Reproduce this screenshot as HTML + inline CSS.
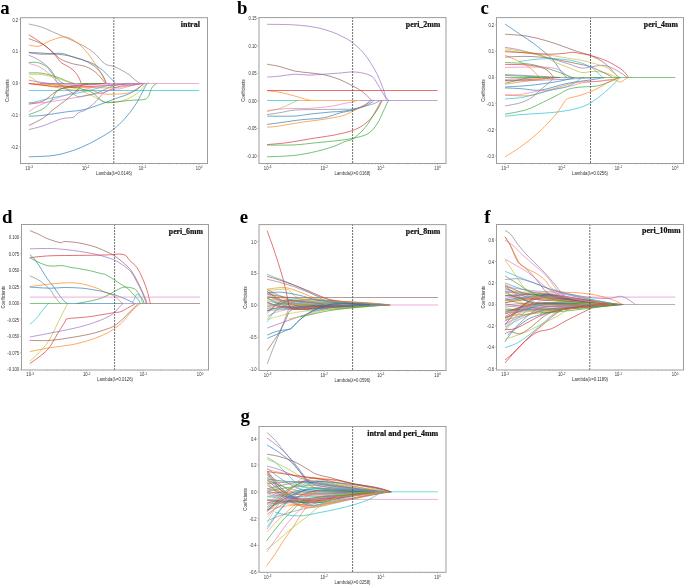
<!DOCTYPE html>
<html><head><meta charset="utf-8"><style>
html,body{margin:0;padding:0;background:#fff;width:685px;height:585px;overflow:hidden}
svg{display:block;will-change:transform}
.t{font-family:"Liberation Sans",sans-serif;font-size:4.8px;fill:#333}
.ti{font-family:"Liberation Serif",serif;font-weight:bold;font-size:8px;fill:#111;stroke:#111;stroke-width:0.22px}
.L{font-family:"Liberation Serif",serif;font-weight:bold;font-size:18.8px;fill:#000}
</style></head><body>
<svg width="685" height="585" viewBox="0 0 685 585">
<rect width="685" height="585" fill="#fff"/>
<path d="M28.8 24C30.98 24.53 38.02 25.93 41.9 27.2C45.78 28.47 48.45 30.02 52.1 31.6C55.75 33.18 59.42 34.75 63.8 36.7C68.18 38.65 73.53 40.75 78.4 43.3C83.27 45.85 88.62 48.6 93 52C97.38 55.4 101.22 61.3 104.7 63.7C108.18 66.1 111.03 65.28 113.9 66.4C116.77 67.52 119.35 69 121.9 70.4C124.45 71.8 127.02 73.22 129.2 74.8C131.38 76.38 133.3 78.57 135 79.9C136.7 81.23 138.07 82.2 139.4 82.8C140.73 83.4 142.4 83.38 143 83.5" stroke="#7f7f7f" stroke-width="0.66" fill="none"/>
<path d="M28.8 45C30.5 45.2 35.6 46.85 39 46.2C42.4 45.55 45.32 42.62 49.2 41.1C53.08 39.58 58.65 37.47 62.3 37.1C65.95 36.73 67.93 37.38 71.1 38.9C74.27 40.42 78.13 43.28 81.3 46.2C84.47 49.12 87.18 52.5 90.1 56.4C93.02 60.3 96.65 66.17 98.8 69.6C100.95 73.03 101.78 74.68 103 77C104.22 79.32 105.58 82.42 106.1 83.5" stroke="#ff7f0e" stroke-width="0.66" fill="none"/>
<path d="M28.8 34.8C30.98 36.22 37.77 40.18 41.9 43.3C46.03 46.42 50.43 50.33 53.6 53.5C56.77 56.67 58.23 59.98 60.9 62.3C63.57 64.62 67.17 65.7 69.6 67.4C72.03 69.1 73.93 70.73 75.5 72.5C77.07 74.27 78.03 76.17 79 78C79.97 79.83 80.92 82.58 81.3 83.5" stroke="#d62728" stroke-width="0.66" fill="none"/>
<path d="M28.8 38.6C31.23 39.62 39.27 42.33 43.4 44.7C47.53 47.07 50.68 50.37 53.6 52.8C56.52 55.23 57.73 57.48 60.9 59.3C64.07 61.12 68.47 62.48 72.6 63.7C76.73 64.92 81.82 65.13 85.7 66.6C89.58 68.07 92.73 69.87 95.9 72.5C99.07 75.13 103.02 80.57 104.7 82.4C106.38 84.23 105.78 83.32 106 83.5" stroke="#8c564b" stroke-width="0.66" fill="none"/>
<path d="M28.8 52.3C32.2 52.5 43.62 53.3 49.2 53.5C54.78 53.7 57.92 52.77 62.3 53.5C66.68 54.23 70.87 56.43 75.5 57.9C80.13 59.37 85.72 60.35 90.1 62.3C94.48 64.25 98.93 67.52 101.8 69.6C104.67 71.68 105.42 72.95 107.3 74.8C109.18 76.65 111.82 79.25 113.1 80.7C114.38 82.15 114.68 83.03 115 83.5" stroke="#1f77b4" stroke-width="0.66" fill="none"/>
<path d="M28.8 52.8C30.98 53.03 37.28 53.97 41.9 54.2C46.52 54.43 52.12 53.95 56.5 54.2C60.88 54.45 64.07 54.85 68.2 55.7C72.33 56.55 77.17 57.72 81.3 59.3C85.43 60.88 89.58 62.77 93 65.2C96.42 67.63 99.62 70.98 101.8 73.9C103.98 76.82 105.23 81.1 106.1 82.7C106.97 84.3 106.85 83.37 107 83.5" stroke="#8c564b" stroke-width="0.66" fill="none"/>
<path d="M28.8 55.2C30.5 56.02 35.85 58.2 39 60.1C42.15 62 45.27 64.3 47.7 66.6C50.13 68.9 52.13 71.47 53.6 73.9C55.07 76.33 55.28 79.58 56.5 81.2C57.72 82.82 58.65 83.1 60.9 83.6C63.15 84.1 65.98 84.13 70 84.2C74.02 84.27 80 84.12 85 84C90 83.88 95.83 83.58 100 83.5C104.17 83.42 108.33 83.5 110 83.5" stroke="#9467bd" stroke-width="0.66" fill="none"/>
<path d="M28.8 62.5C30.25 62.5 34.58 61.82 37.5 62.5C40.42 63.18 43.62 64.45 46.3 66.6C48.98 68.75 51.17 72.83 53.6 75.4C56.03 77.97 59.2 80.65 60.9 82C62.6 83.35 63.32 83.25 63.8 83.5" stroke="#2ca02c" stroke-width="0.66" fill="none"/>
<path d="M28.8 63.4C30.5 63.93 35.85 65.08 39 66.6C42.15 68.12 45.27 70.55 47.7 72.5C50.13 74.45 51.88 76.47 53.6 78.3C55.32 80.13 56.1 82.38 58 83.5C59.9 84.62 61.33 84.67 65 85C68.67 85.33 75 85.58 80 85.5C85 85.42 90 84.87 95 84.5C100 84.13 107.5 83.5 110 83.3" stroke="#e377c2" stroke-width="0.66" fill="none"/>
<path d="M28.8 72.9C30.98 72.95 37.28 72.53 41.9 73.2C46.52 73.87 52.85 75.8 56.5 76.9C60.15 78 61.37 78.83 63.8 79.8C66.23 80.77 69.23 82.08 71.1 82.7C72.97 83.32 74.35 83.37 75 83.5" stroke="#2ca02c" stroke-width="0.66" fill="none"/>
<path d="M28.8 74.2C30.98 74.27 37.28 73.97 41.9 74.6C46.52 75.23 52.85 77.02 56.5 78C60.15 78.98 61.37 79.67 63.8 80.5C66.23 81.33 69.23 82.5 71.1 83C72.97 83.5 74.35 83.42 75 83.5" stroke="#bcbd22" stroke-width="0.66" fill="none"/>
<path d="M28.8 76.1C29.77 76.72 32.67 78.57 34.6 79.8C36.53 81.03 37 82.67 40.4 83.5C43.8 84.33 50.9 84.38 55 84.8C59.1 85.22 61.67 85.38 65 86C68.33 86.62 71.67 87.42 75 88.5C78.33 89.58 81.35 90.9 85 92.5C88.65 94.1 93.63 96.47 96.9 98.1C100.17 99.73 102.08 101.55 104.6 102.3C107.12 103.05 109.12 102.8 112 102.6C114.88 102.4 118.55 102.08 121.9 101.1C125.25 100.12 129.18 98.28 132.1 96.7C135.02 95.12 137.2 93.67 139.4 91.6C141.6 89.53 144.03 85.65 145.3 84.3C146.57 82.95 146.72 83.63 147 83.5" stroke="#bcbd22" stroke-width="0.66" fill="none"/>
<path d="M28.8 80.2C30.5 80.5 35.47 81.45 39 82C42.53 82.55 48.17 83.25 50 83.5" stroke="#9467bd" stroke-width="0.66" fill="none"/>
<path d="M28.8 83.4C31.5 83.75 39.8 84.73 45 85.5C50.2 86.27 55 87.2 60 88C65 88.8 69.85 89.92 75 90.3C80.15 90.68 86.22 89.7 90.9 90.3C95.58 90.9 97.93 93.32 103.1 93.9C108.27 94.48 117.07 94.18 121.9 93.8C126.73 93.42 128.93 92.93 132.1 91.6C135.27 90.27 138.95 87.15 140.9 85.8C142.85 84.45 143.32 83.88 143.8 83.5" stroke="#ff7f0e" stroke-width="0.66" fill="none"/>
<path d="M28.8 83.5C32.33 83.67 43.13 84 50 84.5C56.87 85 63.33 86 70 86.5C76.67 87 83.33 87.28 90 87.5C96.67 87.72 104.17 87.97 110 87.8C115.83 87.63 120 87.13 125 86.5C130 85.87 136.83 84.5 140 84C143.17 83.5 143.33 83.58 144 83.5" stroke="#ff7f0e" stroke-width="0.66" fill="none"/>
<path d="M28.8 83.6C32.33 84 43.13 85.43 50 86C56.87 86.57 63.33 86.92 70 87C76.67 87.08 83.33 86.75 90 86.5C96.67 86.25 103.33 85.92 110 85.5C116.67 85.08 124.67 84.33 130 84C135.33 83.67 140 83.58 142 83.5" stroke="#d62728" stroke-width="0.66" fill="none"/>
<path d="M28.8 90.5L199.1 90.5" stroke="#17becf" stroke-width="0.66" fill="none"/>
<path d="M28.8 104.2C31.17 103.7 38.57 103.25 43 101.2C47.43 99.15 51.53 94.22 55.4 91.9C59.27 89.58 61.85 88.45 66.2 87.3C70.55 86.15 76.7 85.55 81.5 85C86.3 84.45 91.08 84.25 95 84C98.92 83.75 103.33 83.58 105 83.5" stroke="#d62728" stroke-width="0.66" fill="none"/>
<path d="M28.8 102.4C31.18 102.45 38.15 103.03 43.1 102.7C48.05 102.37 53.95 101.1 58.5 100.4C63.05 99.7 65 99.42 70.4 98.5C75.8 97.58 85.45 95.92 90.9 94.9C96.35 93.88 99.37 93.33 103.1 92.4C106.83 91.47 110.48 89.9 113.3 89.3C116.12 88.7 117.22 89.35 120 88.8C122.78 88.25 126.5 86.88 130 86C133.5 85.12 139.17 83.92 141 83.5" stroke="#e377c2" stroke-width="0.66" fill="none"/>
<path d="M28.8 103.5C32.47 102.6 43.87 99.62 50.8 98.1C57.73 96.58 64.57 95.53 70.4 94.4C76.23 93.27 80.68 92.48 85.8 91.3C90.92 90.12 96.85 88.4 101.1 87.3C105.35 86.2 107.32 85.33 111.3 84.7C115.28 84.07 121.05 83.7 125 83.5C128.95 83.3 133.33 83.5 135 83.5" stroke="#17becf" stroke-width="0.66" fill="none"/>
<path d="M28.8 111.9C29.9 111.13 32.7 108.78 35.4 107.3C38.1 105.82 40.9 104.72 45 103C49.1 101.28 55 98.83 60 97C65 95.17 70 93.5 75 92C80 90.5 85 89.17 90 88C95 86.83 100 85.75 105 85C110 84.25 117.5 83.75 120 83.5" stroke="#e377c2" stroke-width="0.66" fill="none"/>
<path d="M28.8 114.7C31.18 113.72 39.43 111.05 43.1 108.8C46.77 106.55 48.63 104 50.8 101.2C52.97 98.4 54.23 94.12 56.1 92C57.97 89.88 59.35 89.25 62 88.5C64.65 87.75 69.4 87.62 72 87.5C74.6 87.38 75.43 87.38 77.6 87.8C79.77 88.22 82.45 89.15 85 90C87.55 90.85 89.88 90.98 92.9 92.9C95.92 94.82 99.7 99.97 103.1 101.5C106.5 103.03 108.95 102.28 113.3 102.1C117.65 101.92 124.12 100.82 129.2 100.4C134.28 99.98 140.63 100.22 143.8 99.6C146.97 98.98 146.98 98.4 148.2 96.7C149.42 95 150.13 91.35 151.1 89.4C152.07 87.45 153.03 85.98 154 85C154.97 84.02 156.42 83.75 156.9 83.5" stroke="#2ca02c" stroke-width="0.66" fill="none"/>
<path d="M28.8 116.2C31.18 116.05 36.87 116.02 43.1 115.3C49.33 114.58 59.43 112.83 66.2 111.9C72.97 110.97 77.88 111 83.7 109.7C89.52 108.4 96.17 105.8 101.1 104.1C106.03 102.4 110.15 100.68 113.3 99.5C116.45 98.32 117.35 97.95 120 97C122.65 96.05 126.2 95.18 129.2 93.8C132.2 92.42 135.57 90.4 138 88.7C140.43 87 142.63 84.47 143.8 83.6C144.97 82.73 144.8 83.52 145 83.5" stroke="#1f77b4" stroke-width="0.66" fill="none"/>
<path d="M28.8 125.5C31.18 124.27 39.05 120.73 43.1 118.1C47.15 115.47 49.4 112.63 53.1 109.7C56.8 106.77 61.57 103.47 65.3 100.5C69.03 97.53 72.95 94.28 75.5 91.9C78.05 89.52 79.08 87.55 80.6 86.2C82.12 84.85 83.37 84.25 84.6 83.8C85.83 83.35 87.43 83.55 88 83.5" stroke="#8c564b" stroke-width="0.66" fill="none"/>
<path d="M28.8 129.6C31.18 128.97 37.65 127.6 43.1 125.8C48.55 124 56.5 120.22 61.5 118.8C66.5 117.38 70.27 118.32 73.1 117.3C75.93 116.28 76.38 113.97 78.5 112.7C80.62 111.43 82.88 111.55 85.8 109.7C88.72 107.85 93.12 104.32 96 101.6C98.88 98.88 100.55 95.45 103.1 93.4C105.65 91.35 108.48 90.5 111.3 89.3C114.12 88.1 116.88 86.92 120 86.2C123.12 85.48 126.17 85.45 130 85C133.83 84.55 140.83 83.75 143 83.5" stroke="#9467bd" stroke-width="0.66" fill="none"/>
<path d="M50 83.5C51.53 83.7 56.13 83.57 59.2 84.7C62.27 85.83 65.33 88.33 68.4 90.3C71.47 92.27 75.05 95.57 77.6 96.5C80.15 97.43 81.15 96.33 83.7 95.9C86.25 95.47 90 94.67 92.9 93.9C95.8 93.13 98.72 92.23 101.1 91.3C103.48 90.37 104.88 89.27 107.2 88.3C109.52 87.33 112.03 86.28 115 85.5C117.97 84.72 122.5 83.93 125 83.6C127.5 83.27 129.17 83.52 130 83.5" stroke="#7f7f7f" stroke-width="0.66" fill="none"/>
<path d="M28.8 156.8C32.47 156.63 44.57 156.48 50.8 155.8C57.03 155.12 61.08 154.12 66.2 152.7C71.32 151.28 76.38 149.48 81.5 147.3C86.62 145.12 91.63 142.55 96.9 139.6C102.17 136.65 108.45 133.1 113.1 129.6C117.75 126.1 121.15 122.62 124.8 118.6C128.45 114.58 132.08 109.88 135 105.5C137.92 101.12 140.35 95.88 142.3 92.3C144.25 88.72 145.58 85.47 146.7 84C147.82 82.53 148.62 83.58 149 83.5" stroke="#1f77b4" stroke-width="0.66" fill="none"/>
<path d="M40 83.5L78 83.5" stroke="#9467bd" stroke-width="0.6" fill="none"/>
<path d="M78 83.5L104 83.5" stroke="#2ca02c" stroke-width="0.6" fill="none"/>
<path d="M104 83.5L199.1 83.5" stroke="#e377c2" stroke-width="0.6" fill="none"/>
<line x1="113.8" y1="17" x2="113.8" y2="163.5" stroke="#555" stroke-width="0.85" stroke-dasharray="2 1"/>
<rect x="20.5" y="17.7" width="187" height="145.8" fill="none" stroke="#9d9d9d" stroke-width="1"/>
<line x1="18.9" y1="19.5" x2="20.5" y2="19.5" stroke="#9d9d9d" stroke-width="0.6"/>
<text x="18.2" y="21.5" text-anchor="end" class="t" textLength="5.8" lengthAdjust="spacingAndGlyphs">0.2</text>
<line x1="18.9" y1="51.35" x2="20.5" y2="51.35" stroke="#9d9d9d" stroke-width="0.6"/>
<text x="18.2" y="53.35" text-anchor="end" class="t" textLength="5.8" lengthAdjust="spacingAndGlyphs">0.1</text>
<line x1="18.9" y1="83.2" x2="20.5" y2="83.2" stroke="#9d9d9d" stroke-width="0.6"/>
<text x="18.2" y="85.2" text-anchor="end" class="t" textLength="5.8" lengthAdjust="spacingAndGlyphs">0.0</text>
<line x1="18.9" y1="115.05" x2="20.5" y2="115.05" stroke="#9d9d9d" stroke-width="0.6"/>
<text x="18.2" y="117.05" text-anchor="end" class="t" textLength="7.2" lengthAdjust="spacingAndGlyphs">-0.1</text>
<line x1="18.9" y1="146.9" x2="20.5" y2="146.9" stroke="#9d9d9d" stroke-width="0.6"/>
<text x="18.2" y="148.9" text-anchor="end" class="t" textLength="7.2" lengthAdjust="spacingAndGlyphs">-0.2</text>
<line x1="29" y1="163.5" x2="29" y2="165.1" stroke="#9d9d9d" stroke-width="0.6"/>
<text x="25.36" y="169.8" class="t" textLength="4.64" lengthAdjust="spacingAndGlyphs">10</text>
<text x="30.21" y="168.1" class="t" style="font-size:3.4px" textLength="2.63" lengthAdjust="spacingAndGlyphs">-3</text>
<line x1="46.06" y1="163.5" x2="46.06" y2="164.5" stroke="#9d9d9d" stroke-width="0.5"/>
<line x1="56.04" y1="163.5" x2="56.04" y2="164.5" stroke="#9d9d9d" stroke-width="0.5"/>
<line x1="63.12" y1="163.5" x2="63.12" y2="164.5" stroke="#9d9d9d" stroke-width="0.5"/>
<line x1="68.61" y1="163.5" x2="68.61" y2="164.5" stroke="#9d9d9d" stroke-width="0.5"/>
<line x1="73.1" y1="163.5" x2="73.1" y2="164.5" stroke="#9d9d9d" stroke-width="0.5"/>
<line x1="76.89" y1="163.5" x2="76.89" y2="164.5" stroke="#9d9d9d" stroke-width="0.5"/>
<line x1="80.18" y1="163.5" x2="80.18" y2="164.5" stroke="#9d9d9d" stroke-width="0.5"/>
<line x1="83.07" y1="163.5" x2="83.07" y2="164.5" stroke="#9d9d9d" stroke-width="0.5"/>
<line x1="85.67" y1="163.5" x2="85.67" y2="165.1" stroke="#9d9d9d" stroke-width="0.6"/>
<text x="82.03" y="169.8" class="t" textLength="4.64" lengthAdjust="spacingAndGlyphs">10</text>
<text x="86.87" y="168.1" class="t" style="font-size:3.4px" textLength="2.63" lengthAdjust="spacingAndGlyphs">-2</text>
<line x1="102.73" y1="163.5" x2="102.73" y2="164.5" stroke="#9d9d9d" stroke-width="0.5"/>
<line x1="112.7" y1="163.5" x2="112.7" y2="164.5" stroke="#9d9d9d" stroke-width="0.5"/>
<line x1="119.78" y1="163.5" x2="119.78" y2="164.5" stroke="#9d9d9d" stroke-width="0.5"/>
<line x1="125.27" y1="163.5" x2="125.27" y2="164.5" stroke="#9d9d9d" stroke-width="0.5"/>
<line x1="129.76" y1="163.5" x2="129.76" y2="164.5" stroke="#9d9d9d" stroke-width="0.5"/>
<line x1="133.56" y1="163.5" x2="133.56" y2="164.5" stroke="#9d9d9d" stroke-width="0.5"/>
<line x1="136.84" y1="163.5" x2="136.84" y2="164.5" stroke="#9d9d9d" stroke-width="0.5"/>
<line x1="139.74" y1="163.5" x2="139.74" y2="164.5" stroke="#9d9d9d" stroke-width="0.5"/>
<line x1="142.33" y1="163.5" x2="142.33" y2="165.1" stroke="#9d9d9d" stroke-width="0.6"/>
<text x="138.7" y="169.8" class="t" textLength="4.64" lengthAdjust="spacingAndGlyphs">10</text>
<text x="143.54" y="168.1" class="t" style="font-size:3.4px" textLength="2.63" lengthAdjust="spacingAndGlyphs">-1</text>
<line x1="159.39" y1="163.5" x2="159.39" y2="164.5" stroke="#9d9d9d" stroke-width="0.5"/>
<line x1="169.37" y1="163.5" x2="169.37" y2="164.5" stroke="#9d9d9d" stroke-width="0.5"/>
<line x1="176.45" y1="163.5" x2="176.45" y2="164.5" stroke="#9d9d9d" stroke-width="0.5"/>
<line x1="181.94" y1="163.5" x2="181.94" y2="164.5" stroke="#9d9d9d" stroke-width="0.5"/>
<line x1="186.43" y1="163.5" x2="186.43" y2="164.5" stroke="#9d9d9d" stroke-width="0.5"/>
<line x1="190.22" y1="163.5" x2="190.22" y2="164.5" stroke="#9d9d9d" stroke-width="0.5"/>
<line x1="193.51" y1="163.5" x2="193.51" y2="164.5" stroke="#9d9d9d" stroke-width="0.5"/>
<line x1="196.41" y1="163.5" x2="196.41" y2="164.5" stroke="#9d9d9d" stroke-width="0.5"/>
<line x1="199" y1="163.5" x2="199" y2="165.1" stroke="#9d9d9d" stroke-width="0.6"/>
<text x="195.86" y="169.8" class="t" textLength="4.64" lengthAdjust="spacingAndGlyphs">10</text>
<text x="200.7" y="168.1" class="t" style="font-size:3.4px" textLength="1.64" lengthAdjust="spacingAndGlyphs">0</text>
<text x="114" y="174.7" text-anchor="middle" class="t" textLength="36" lengthAdjust="spacingAndGlyphs">Lambda(λ=0.0146)</text>
<text transform="translate(9 90.6) rotate(-90)" text-anchor="middle" class="t" textLength="22.6" lengthAdjust="spacingAndGlyphs">Coefficients</text>
<text x="199.9" y="26.9" text-anchor="end" class="ti" textLength="19.2" lengthAdjust="spacingAndGlyphs">intral</text>
<text x="0.3" y="14.3" class="L">a</text>
<path d="M267.1 24.3C270.45 24.35 281.42 24.4 287.2 24.6C292.98 24.8 296.93 25.02 301.8 25.5C306.67 25.98 311.53 26.48 316.4 27.5C321.27 28.52 326.62 30.07 331 31.6C335.38 33.13 339.13 34.88 342.7 36.7C346.27 38.52 348.98 39.85 352.4 42.5C355.82 45.15 360.1 49.12 363.2 52.6C366.3 56.08 368.67 59.78 371 63.4C373.33 67.02 375.4 70.68 377.2 74.3C379 77.92 380.52 81.82 381.8 85.1C383.08 88.38 384.12 91.43 384.9 94C385.68 96.57 386.23 99.42 386.5 100.5" stroke="#9467bd" stroke-width="0.66" fill="none"/>
<path d="M267.1 64.2C269.23 64.6 275.33 65.47 279.9 66.6C284.47 67.73 289.63 69.97 294.5 71C299.37 72.03 304.23 72.18 309.1 72.8C313.97 73.42 318.83 73.67 323.7 74.7C328.57 75.73 333.52 77.15 338.3 79C343.08 80.85 348.5 83.77 352.4 85.8C356.3 87.83 359.12 89.4 361.7 91.2C364.28 93 366.23 95.05 367.9 96.6C369.57 98.15 371.07 99.85 371.7 100.5" stroke="#8c564b" stroke-width="0.66" fill="none"/>
<path d="M267.1 77.1C269.23 76.93 275.33 76.58 279.9 76.1C284.47 75.62 289.63 74.37 294.5 74.2C299.37 74.03 304.23 75.1 309.1 75.1C313.97 75.1 318.83 74.52 323.7 74.2C328.57 73.88 333 73.57 338.3 73.2C343.6 72.83 350.05 71.57 355.5 72C360.95 72.43 367.38 73.87 371 75.8C374.62 77.73 375.4 81.02 377.2 83.6C379 86.18 380.52 89.15 381.8 91.3C383.08 93.45 383.73 94.97 384.9 96.5C386.07 98.03 388.15 99.83 388.8 100.5" stroke="#9467bd" stroke-width="0.66" fill="none"/>
<path d="M267.1 90.7C269.23 90.97 275.33 91.42 279.9 92.3C284.47 93.18 290.37 94.9 294.5 96C298.63 97.1 302.02 98.15 304.7 98.9C307.38 99.65 309.62 100.23 310.6 100.5" stroke="#ff7f0e" stroke-width="0.66" fill="none"/>
<path d="M267.1 100.5L300 100.5" stroke="#17becf" stroke-width="0.66" fill="none"/>
<path d="M267.1 111.6C269.23 111.07 276.07 109.67 279.9 108.4C283.73 107.13 287.18 105.32 290.1 104C293.02 102.68 296.18 101.08 297.4 100.5" stroke="#bcbd22" stroke-width="0.66" fill="none"/>
<path d="M267.1 110.5C270.45 110.18 280.2 108.95 287.2 108.6C294.2 108.25 301.8 108.8 309.1 108.4C316.4 108 324.92 107.07 331 106.2C337.08 105.33 342.03 103.9 345.6 103.2C349.17 102.5 350.5 102.45 352.4 102C354.3 101.55 356.23 100.75 357 100.5" stroke="#e377c2" stroke-width="0.66" fill="none"/>
<path d="M267.1 114.6C269.23 114.28 275.33 113.45 279.9 112.7C284.47 111.95 288.42 110.63 294.5 110.1C300.58 109.57 308.82 109.63 316.4 109.5C323.98 109.37 334 109.38 340 109.3C346 109.22 348.53 109.43 352.4 109C356.27 108.57 359.6 107.6 363.2 106.7C366.8 105.8 371.17 104.63 374 103.6C376.83 102.57 379.17 101.02 380.2 100.5" stroke="#7f7f7f" stroke-width="0.66" fill="none"/>
<path d="M267.1 116.1C271.67 116.1 287.5 116.42 294.5 116.1C301.5 115.78 303.02 114.88 309.1 114.2C315.18 113.52 325.85 112.45 331 112C336.15 111.55 336.43 111.87 340 111.5C343.57 111.13 348.53 110.6 352.4 109.8C356.27 109 360.1 107.87 363.2 106.7C366.3 105.53 369.2 103.83 371 102.8C372.8 101.77 373.5 100.88 374 100.5" stroke="#1f77b4" stroke-width="0.66" fill="none"/>
<path d="M267.1 124.4C269.23 124.12 274.12 123.48 279.9 122.7C285.68 121.92 294.5 120.52 301.8 119.7C309.1 118.88 317.33 118.93 323.7 117.8C330.07 116.67 335.22 114.17 340 112.9C344.78 111.63 348.53 111.37 352.4 110.2C356.27 109.03 360.37 107.27 363.2 105.9C366.03 104.53 368.1 102.9 369.4 102C370.7 101.1 370.73 100.75 371 100.5" stroke="#1f77b4" stroke-width="0.66" fill="none"/>
<path d="M267.1 127.3C269.23 127.07 274.12 126.75 279.9 125.9C285.68 125.05 294.5 123.3 301.8 122.2C309.1 121.1 316.88 120.38 323.7 119.3C330.52 118.22 337.92 117.03 342.7 115.7C347.48 114.37 348.98 112.93 352.4 111.3C355.82 109.67 360.37 107.57 363.2 105.9C366.03 104.23 368.18 102.2 369.4 101.3C370.62 100.4 370.32 100.63 370.5 100.5" stroke="#ff7f0e" stroke-width="0.66" fill="none"/>
<path d="M267.1 144.6C270.45 144.28 280.2 143.63 287.2 142.7C294.2 141.77 301.8 140.18 309.1 139C316.4 137.82 325.85 136.47 331 135.6C336.15 134.73 336.43 134.63 340 133.8C343.57 132.97 348.53 132.03 352.4 130.6C356.27 129.17 360.1 127.25 363.2 125.2C366.3 123.15 368.67 120.87 371 118.3C373.33 115.73 375.53 112.38 377.2 109.8C378.87 107.22 380.2 104.35 381 102.8C381.8 101.25 381.83 100.88 382 100.5" stroke="#d62728" stroke-width="0.66" fill="none"/>
<path d="M267.1 145.1C271.67 145.07 286.28 145.3 294.5 144.9C302.72 144.5 309.1 143.43 316.4 142.7C323.7 141.97 332.3 141.22 338.3 140.5C344.3 139.78 347.47 139.52 352.4 138.4C357.33 137.28 363.77 136.25 367.9 133.8C372.03 131.35 374.63 127.45 377.2 123.7C379.77 119.95 381.5 115.03 383.3 111.3C385.1 107.57 387.05 103.1 388 101.3C388.95 99.5 388.83 100.63 389 100.5" stroke="#2ca02c" stroke-width="0.66" fill="none"/>
<path d="M267.1 156.8C271.67 156.57 286.28 156.3 294.5 155.4C302.72 154.5 309.83 152.92 316.4 151.4C322.97 149.88 329.13 147.95 333.9 146.3C338.67 144.65 341.92 142.68 345 141.5C348.08 140.32 349.37 141.13 352.4 139.2C355.43 137.27 360.1 133.25 363.2 129.9C366.3 126.55 368.67 122.72 371 119.1C373.33 115.48 375.53 111.17 377.2 108.2C378.87 105.23 380.2 102.58 381 101.3C381.8 100.02 381.83 100.63 382 100.5" stroke="#2ca02c" stroke-width="0.66" fill="none"/>
<path d="M267.1 90.5L437.6 90.5" stroke="#d62728" stroke-width="0.66" fill="none"/>
<path d="M300 100.5L360 100.5" stroke="#ff7f0e" stroke-width="0.6" fill="none"/>
<path d="M360 100.5L437.6 100.5" stroke="#9467bd" stroke-width="0.6" fill="none"/>
<line x1="352.6" y1="17" x2="352.6" y2="163.5" stroke="#555" stroke-width="0.85" stroke-dasharray="2 1"/>
<rect x="259.0" y="17.6" width="187" height="145.9" fill="none" stroke="#9d9d9d" stroke-width="1"/>
<line x1="257.4" y1="18.15" x2="259.0" y2="18.15" stroke="#9d9d9d" stroke-width="0.6"/>
<text x="256.7" y="20.15" text-anchor="end" class="t" textLength="8.13" lengthAdjust="spacingAndGlyphs">0.15</text>
<line x1="257.4" y1="45.7" x2="259.0" y2="45.7" stroke="#9d9d9d" stroke-width="0.6"/>
<text x="256.7" y="47.7" text-anchor="end" class="t" textLength="8.13" lengthAdjust="spacingAndGlyphs">0.10</text>
<line x1="257.4" y1="73.25" x2="259.0" y2="73.25" stroke="#9d9d9d" stroke-width="0.6"/>
<text x="256.7" y="75.25" text-anchor="end" class="t" textLength="8.13" lengthAdjust="spacingAndGlyphs">0.05</text>
<line x1="257.4" y1="100.8" x2="259.0" y2="100.8" stroke="#9d9d9d" stroke-width="0.6"/>
<text x="256.7" y="102.8" text-anchor="end" class="t" textLength="8.13" lengthAdjust="spacingAndGlyphs">0.00</text>
<line x1="257.4" y1="128.35" x2="259.0" y2="128.35" stroke="#9d9d9d" stroke-width="0.6"/>
<text x="256.7" y="130.35" text-anchor="end" class="t" textLength="9.52" lengthAdjust="spacingAndGlyphs">-0.05</text>
<line x1="257.4" y1="155.9" x2="259.0" y2="155.9" stroke="#9d9d9d" stroke-width="0.6"/>
<text x="256.7" y="157.9" text-anchor="end" class="t" textLength="9.52" lengthAdjust="spacingAndGlyphs">-0.10</text>
<line x1="267.5" y1="163.5" x2="267.5" y2="165.1" stroke="#9d9d9d" stroke-width="0.6"/>
<text x="263.86" y="169.8" class="t" textLength="4.64" lengthAdjust="spacingAndGlyphs">10</text>
<text x="268.71" y="168.1" class="t" style="font-size:3.4px" textLength="2.63" lengthAdjust="spacingAndGlyphs">-3</text>
<line x1="284.56" y1="163.5" x2="284.56" y2="164.5" stroke="#9d9d9d" stroke-width="0.5"/>
<line x1="294.54" y1="163.5" x2="294.54" y2="164.5" stroke="#9d9d9d" stroke-width="0.5"/>
<line x1="301.62" y1="163.5" x2="301.62" y2="164.5" stroke="#9d9d9d" stroke-width="0.5"/>
<line x1="307.11" y1="163.5" x2="307.11" y2="164.5" stroke="#9d9d9d" stroke-width="0.5"/>
<line x1="311.6" y1="163.5" x2="311.6" y2="164.5" stroke="#9d9d9d" stroke-width="0.5"/>
<line x1="315.39" y1="163.5" x2="315.39" y2="164.5" stroke="#9d9d9d" stroke-width="0.5"/>
<line x1="318.68" y1="163.5" x2="318.68" y2="164.5" stroke="#9d9d9d" stroke-width="0.5"/>
<line x1="321.57" y1="163.5" x2="321.57" y2="164.5" stroke="#9d9d9d" stroke-width="0.5"/>
<line x1="324.17" y1="163.5" x2="324.17" y2="165.1" stroke="#9d9d9d" stroke-width="0.6"/>
<text x="320.53" y="169.8" class="t" textLength="4.64" lengthAdjust="spacingAndGlyphs">10</text>
<text x="325.37" y="168.1" class="t" style="font-size:3.4px" textLength="2.63" lengthAdjust="spacingAndGlyphs">-2</text>
<line x1="341.23" y1="163.5" x2="341.23" y2="164.5" stroke="#9d9d9d" stroke-width="0.5"/>
<line x1="351.2" y1="163.5" x2="351.2" y2="164.5" stroke="#9d9d9d" stroke-width="0.5"/>
<line x1="358.28" y1="163.5" x2="358.28" y2="164.5" stroke="#9d9d9d" stroke-width="0.5"/>
<line x1="363.77" y1="163.5" x2="363.77" y2="164.5" stroke="#9d9d9d" stroke-width="0.5"/>
<line x1="368.26" y1="163.5" x2="368.26" y2="164.5" stroke="#9d9d9d" stroke-width="0.5"/>
<line x1="372.06" y1="163.5" x2="372.06" y2="164.5" stroke="#9d9d9d" stroke-width="0.5"/>
<line x1="375.34" y1="163.5" x2="375.34" y2="164.5" stroke="#9d9d9d" stroke-width="0.5"/>
<line x1="378.24" y1="163.5" x2="378.24" y2="164.5" stroke="#9d9d9d" stroke-width="0.5"/>
<line x1="380.83" y1="163.5" x2="380.83" y2="165.1" stroke="#9d9d9d" stroke-width="0.6"/>
<text x="377.2" y="169.8" class="t" textLength="4.64" lengthAdjust="spacingAndGlyphs">10</text>
<text x="382.04" y="168.1" class="t" style="font-size:3.4px" textLength="2.63" lengthAdjust="spacingAndGlyphs">-1</text>
<line x1="397.89" y1="163.5" x2="397.89" y2="164.5" stroke="#9d9d9d" stroke-width="0.5"/>
<line x1="407.87" y1="163.5" x2="407.87" y2="164.5" stroke="#9d9d9d" stroke-width="0.5"/>
<line x1="414.95" y1="163.5" x2="414.95" y2="164.5" stroke="#9d9d9d" stroke-width="0.5"/>
<line x1="420.44" y1="163.5" x2="420.44" y2="164.5" stroke="#9d9d9d" stroke-width="0.5"/>
<line x1="424.93" y1="163.5" x2="424.93" y2="164.5" stroke="#9d9d9d" stroke-width="0.5"/>
<line x1="428.72" y1="163.5" x2="428.72" y2="164.5" stroke="#9d9d9d" stroke-width="0.5"/>
<line x1="432.01" y1="163.5" x2="432.01" y2="164.5" stroke="#9d9d9d" stroke-width="0.5"/>
<line x1="434.91" y1="163.5" x2="434.91" y2="164.5" stroke="#9d9d9d" stroke-width="0.5"/>
<line x1="437.5" y1="163.5" x2="437.5" y2="165.1" stroke="#9d9d9d" stroke-width="0.6"/>
<text x="434.36" y="169.8" class="t" textLength="4.64" lengthAdjust="spacingAndGlyphs">10</text>
<text x="439.2" y="168.1" class="t" style="font-size:3.4px" textLength="1.64" lengthAdjust="spacingAndGlyphs">0</text>
<text x="352.5" y="174.7" text-anchor="middle" class="t" textLength="36" lengthAdjust="spacingAndGlyphs">Lambda(λ=0.0168)</text>
<text transform="translate(244.6 90.55) rotate(-90)" text-anchor="middle" class="t" textLength="22.6" lengthAdjust="spacingAndGlyphs">Coefficients</text>
<text x="440.4" y="26.8" text-anchor="end" class="ti" textLength="34.6" lengthAdjust="spacingAndGlyphs">peri_2mm</text>
<text x="237.1" y="14.4" class="L">b</text>
<path d="M505 24C507.57 25.75 515.65 31.28 520.4 34.5C525.15 37.72 529.37 40.25 533.5 43.3C537.63 46.35 542.03 50.13 545.2 52.8C548.37 55.47 550.32 56.87 552.5 59.3C554.68 61.73 556.35 64.72 558.3 67.4C560.25 70.08 562.75 73.72 564.2 75.4C565.65 77.08 566.53 77.15 567 77.5" stroke="#1f77b4" stroke-width="0.66" fill="none"/>
<path d="M505 34.2C508.53 34.5 519.5 34.97 526.2 36C532.9 37.03 539.12 38.7 545.2 40.4C551.28 42.1 557.35 44.35 562.7 46.2C568.05 48.05 572.8 50 577.3 51.5C581.8 53 585.73 53.65 589.7 55.2C593.67 56.75 597.85 58.78 601.1 60.8C604.35 62.82 606.77 65 609.2 67.3C611.63 69.6 614.07 72.9 615.7 74.6C617.33 76.3 618.45 77.02 619 77.5" stroke="#8c564b" stroke-width="0.66" fill="none"/>
<path d="M505 47.4C507.32 47.8 512.93 48.42 518.9 49.8C524.87 51.18 534.23 53.87 540.8 55.7C547.37 57.53 553.43 59.35 558.3 60.8C563.17 62.25 566.1 63.18 570 64.4C573.9 65.62 577.87 67.75 581.7 68.1C585.53 68.45 589.22 66.95 593 66.5C596.78 66.05 600.88 64.98 604.4 65.4C607.92 65.82 611.13 67.6 614.1 69C617.07 70.4 620.03 72.38 622.2 73.8C624.37 75.22 626.28 76.88 627.1 77.5" stroke="#9467bd" stroke-width="0.66" fill="none"/>
<path d="M505 48.8C508.53 49.33 520.23 50.93 526.2 52C532.17 53.07 535.93 53.48 540.8 55.2C545.67 56.92 550.53 60.15 555.4 62.3C560.27 64.45 565.62 66.4 570 68.1C574.38 69.8 577.87 71.95 581.7 72.5C585.53 73.05 589.22 71.4 593 71.4C596.78 71.4 601.15 71.82 604.4 72.5C607.65 73.18 610.4 74.67 612.5 75.5C614.6 76.33 616.25 77.17 617 77.5" stroke="#bcbd22" stroke-width="0.66" fill="none"/>
<path d="M505 50.5C509.17 51 522.08 52.63 530 53.5C537.92 54.37 545.83 54.85 552.5 55.7C559.17 56.55 565.42 57.88 570 58.6C574.58 59.32 575.63 59.08 580 60C584.37 60.92 591.6 62.75 596.2 64.1C600.8 65.45 604.35 66.35 607.6 68.1C610.85 69.85 613.8 73.03 615.7 74.6C617.6 76.17 618.45 77.02 619 77.5" stroke="#bcbd22" stroke-width="0.66" fill="none"/>
<path d="M505 51.7C508.53 51.88 519.02 52.38 526.2 52.8C533.38 53.22 542.02 54.08 548.1 54.2C554.18 54.32 558.57 53.82 562.7 53.5C566.83 53.18 570.02 52.3 572.9 52.3C575.78 52.3 577.2 53.02 580 53.5C582.8 53.98 585.63 54.12 589.7 55.2C593.77 56.28 600.07 58.25 604.4 60C608.73 61.75 612.47 63.8 615.7 65.7C618.93 67.6 621.63 69.43 623.8 71.4C625.97 73.37 627.88 76.48 628.7 77.5" stroke="#d62728" stroke-width="0.66" fill="none"/>
<path d="M505 55.2C506.58 55.88 510.97 57.63 514.5 59.3C518.03 60.97 523.03 63.25 526.2 65.2C529.37 67.15 531.32 68.95 533.5 71C535.68 73.05 538.33 76.42 539.3 77.5" stroke="#ff7f0e" stroke-width="0.66" fill="none"/>
<path d="M505 57.1C508.53 56.98 519.02 56.27 526.2 56.4C533.38 56.53 542.02 57.17 548.1 57.9C554.18 58.63 557.83 59.83 562.7 60.8C567.57 61.77 572.8 62.75 577.3 63.7C581.8 64.65 586 65.35 589.7 66.5C593.4 67.65 596.25 69.1 599.5 70.6C602.75 72.1 607.03 74.35 609.2 75.5C611.37 76.65 611.95 77.17 612.5 77.5" stroke="#8c564b" stroke-width="0.66" fill="none"/>
<path d="M518.9 61.5C521.33 61.18 528.63 60.08 533.5 59.6C538.37 59.12 543.23 58.65 548.1 58.6C552.97 58.55 557.83 58.77 562.7 59.3C567.57 59.83 572.8 60.6 577.3 61.8C581.8 63 586.55 64.9 589.7 66.5C592.85 68.1 594.3 69.77 596.2 71.4C598.1 73.03 599.97 75.28 601.1 76.3C602.23 77.32 602.68 77.3 603 77.5" stroke="#17becf" stroke-width="0.66" fill="none"/>
<path d="M505 62.5C508.53 62.7 520.23 63.02 526.2 63.7C532.17 64.38 535.93 65.38 540.8 66.6C545.67 67.82 551.03 69.53 555.4 71C559.77 72.47 564.08 74.32 567 75.4C569.92 76.48 571.92 77.15 572.9 77.5" stroke="#2ca02c" stroke-width="0.66" fill="none"/>
<path d="M505 64.4C508.53 64.48 520.23 64.4 526.2 64.9C532.17 65.4 537.15 66.38 540.8 67.4C544.45 68.42 545.92 69.32 548.1 71C550.28 72.68 552.93 76.42 553.9 77.5" stroke="#d62728" stroke-width="0.66" fill="none"/>
<path d="M505 67.4C508.53 67.35 519.02 67.1 526.2 67.1C533.38 67.1 542.75 66.98 548.1 67.4C553.45 67.82 555.15 68.27 558.3 69.6C561.45 70.93 565.05 74.08 567 75.4C568.95 76.72 569.5 77.15 570 77.5" stroke="#e377c2" stroke-width="0.66" fill="none"/>
<path d="M505 74.5C508.33 74.67 518.33 75.17 525 75.5C531.67 75.83 539.17 76.17 545 76.5C550.83 76.83 557.5 77.33 560 77.5" stroke="#9467bd" stroke-width="0.66" fill="none"/>
<path d="M505 75.5C509.17 75.67 522.5 76.17 530 76.5C537.5 76.83 546.67 77.33 550 77.5" stroke="#2ca02c" stroke-width="0.66" fill="none"/>
<path d="M505 79.5C507.5 79.33 514.17 78.83 520 78.5C525.83 78.17 536.67 77.67 540 77.5" stroke="#e377c2" stroke-width="0.66" fill="none"/>
<path d="M505 80.5C509.17 80.33 520.83 80 530 79.5C539.17 79 555 77.83 560 77.5" stroke="#d62728" stroke-width="0.66" fill="none"/>
<path d="M505 81C509.17 80.92 520.83 80.75 530 80.5C539.17 80.25 551.67 79.83 560 79.5C568.33 79.17 573.33 78.83 580 78.5C586.67 78.17 596.67 77.67 600 77.5" stroke="#9467bd" stroke-width="0.66" fill="none"/>
<path d="M505 83.4C508.53 82.55 520.37 79.28 526.2 78.3C532.03 77.32 537.7 77.63 540 77.5" stroke="#2ca02c" stroke-width="0.66" fill="none"/>
<path d="M505 84.2C508.53 83.7 519.02 82.18 526.2 81.2C533.38 80.22 543.3 78.92 548.1 78.3C552.9 77.68 553.85 77.63 555 77.5" stroke="#ff7f0e" stroke-width="0.66" fill="none"/>
<path d="M505 87C509.08 86.73 521.37 86.2 529.5 85.4C537.63 84.6 547.03 83.28 553.8 82.2C560.57 81.12 566.57 79.68 570.1 78.9C573.63 78.12 574.18 77.73 575 77.5" stroke="#1f77b4" stroke-width="0.66" fill="none"/>
<path d="M505 87.9C507.73 88.03 515.97 88.3 521.4 88.7C526.83 89.1 532.73 90.43 537.6 90.3C542.47 90.17 546.55 88.85 550.6 87.9C554.65 86.95 557.83 85.58 561.9 84.6C565.97 83.62 570.32 82.77 575 82C579.68 81.23 585 80.75 590 80C595 79.25 602.5 77.92 605 77.5" stroke="#1f77b4" stroke-width="0.66" fill="none"/>
<path d="M505 95.2C509.08 95.27 522.72 96.28 529.5 95.6C536.28 94.92 540.3 92.67 545.7 91.1C551.1 89.53 556.48 87.68 561.9 86.2C567.32 84.72 572.35 83 578.2 82.2C584.05 81.4 591.28 81.85 597 81.4C602.72 80.95 608.67 79.4 612.5 79.5C616.33 79.6 618.08 81.92 620 82C621.92 82.08 622.67 80.75 624 80C625.33 79.25 627.33 77.92 628 77.5" stroke="#ff7f0e" stroke-width="0.66" fill="none"/>
<path d="M505 95C507.73 94.9 515.97 95.05 521.4 94.4C526.83 93.75 532.2 91.92 537.6 91.1C543 90.28 548.38 90.32 553.8 89.5C559.22 88.68 565.5 87.28 570.1 86.2C574.7 85.12 576.92 83.8 581.4 83C585.88 82.2 592.23 81.9 597 81.4C601.77 80.9 606.17 80.65 610 80C613.83 79.35 618.33 77.92 620 77.5" stroke="#e377c2" stroke-width="0.66" fill="none"/>
<path d="M505 98.9C507.73 98.68 515.97 98.5 521.4 97.6C526.83 96.7 532.2 94.85 537.6 93.5C543 92.15 548.38 90.85 553.8 89.5C559.22 88.15 565.5 87.3 570.1 85.4C574.7 83.5 579.08 79.42 581.4 78.1C583.72 76.78 583.57 77.6 584 77.5" stroke="#17becf" stroke-width="0.66" fill="none"/>
<path d="M505 106C507.73 105.42 516.78 104.03 521.4 102.5C526.02 100.97 529.47 98.97 532.7 96.8C535.93 94.63 538.1 91.8 540.8 89.5C543.5 87.2 546.73 85 548.9 83C551.07 81 552.98 78.42 553.8 77.5" stroke="#7f7f7f" stroke-width="0.66" fill="none"/>
<path d="M505 114.2C508.53 113.47 519.95 111.75 526.2 109.8C532.45 107.85 537.08 105.07 542.5 102.5C547.92 99.93 554.38 96.62 558.7 94.4C563.02 92.18 564.62 90.43 568.4 89.2C572.18 87.97 576.63 87.53 581.4 87C586.17 86.47 592.37 86.85 597 86C601.63 85.15 606.08 83.12 609.2 81.9C612.32 80.68 614.23 79.43 615.7 78.7C617.17 77.97 617.62 77.7 618 77.5" stroke="#2ca02c" stroke-width="0.66" fill="none"/>
<path d="M505 116.3C507.73 116.02 514.62 115.15 521.4 114.6C528.18 114.05 538.95 113.53 545.7 113C552.45 112.47 556.48 112.22 561.9 111.4C567.32 110.58 573.6 109.42 578.2 108.1C582.8 106.78 585.95 105.42 589.5 103.5C593.05 101.58 596.22 99.12 599.5 96.6C602.78 94.08 606.5 90.85 609.2 88.4C611.9 85.95 613.93 83.72 615.7 81.9C617.47 80.08 619.12 78.23 619.8 77.5" stroke="#17becf" stroke-width="0.66" fill="none"/>
<path d="M505 156.9C507.73 155.13 515.97 150.23 521.4 146.3C526.83 142.37 532.73 137.63 537.6 133.3C542.47 128.97 547.08 124.08 550.6 120.3C554.12 116.52 556.27 113.85 558.7 110.6C561.13 107.35 563.58 102.83 565.2 100.8C566.82 98.77 566.23 99.22 568.4 98.4C570.57 97.58 574.95 96.85 578.2 95.9C581.45 94.95 584.77 93.9 587.9 92.7C591.03 91.5 593.45 90.5 597 88.7C600.55 86.9 605.82 83.57 609.2 81.9C612.58 80.23 615.33 79.43 617.3 78.7C619.27 77.97 620.38 77.7 621 77.5" stroke="#ff7f0e" stroke-width="0.66" fill="none"/>
<path d="M505 77.5L675.2 77.5" stroke="#2ca02c" stroke-width="0.6" fill="none"/>
<line x1="590.5" y1="17" x2="590.5" y2="163.5" stroke="#555" stroke-width="0.85" stroke-dasharray="2 1"/>
<rect x="496.5" y="17.6" width="187" height="145.9" fill="none" stroke="#9d9d9d" stroke-width="1"/>
<line x1="494.9" y1="25" x2="496.5" y2="25" stroke="#9d9d9d" stroke-width="0.6"/>
<text x="494.2" y="27" text-anchor="end" class="t" textLength="5.8" lengthAdjust="spacingAndGlyphs">0.2</text>
<line x1="494.9" y1="51.2" x2="496.5" y2="51.2" stroke="#9d9d9d" stroke-width="0.6"/>
<text x="494.2" y="53.2" text-anchor="end" class="t" textLength="5.8" lengthAdjust="spacingAndGlyphs">0.1</text>
<line x1="494.9" y1="77.4" x2="496.5" y2="77.4" stroke="#9d9d9d" stroke-width="0.6"/>
<text x="494.2" y="79.4" text-anchor="end" class="t" textLength="5.8" lengthAdjust="spacingAndGlyphs">0.0</text>
<line x1="494.9" y1="103.6" x2="496.5" y2="103.6" stroke="#9d9d9d" stroke-width="0.6"/>
<text x="494.2" y="105.6" text-anchor="end" class="t" textLength="7.2" lengthAdjust="spacingAndGlyphs">-0.1</text>
<line x1="494.9" y1="129.8" x2="496.5" y2="129.8" stroke="#9d9d9d" stroke-width="0.6"/>
<text x="494.2" y="131.8" text-anchor="end" class="t" textLength="7.2" lengthAdjust="spacingAndGlyphs">-0.2</text>
<line x1="494.9" y1="156" x2="496.5" y2="156" stroke="#9d9d9d" stroke-width="0.6"/>
<text x="494.2" y="158" text-anchor="end" class="t" textLength="7.2" lengthAdjust="spacingAndGlyphs">-0.3</text>
<line x1="505" y1="163.5" x2="505" y2="165.1" stroke="#9d9d9d" stroke-width="0.6"/>
<text x="501.36" y="169.8" class="t" textLength="4.64" lengthAdjust="spacingAndGlyphs">10</text>
<text x="506.21" y="168.1" class="t" style="font-size:3.4px" textLength="2.63" lengthAdjust="spacingAndGlyphs">-3</text>
<line x1="522.06" y1="163.5" x2="522.06" y2="164.5" stroke="#9d9d9d" stroke-width="0.5"/>
<line x1="532.04" y1="163.5" x2="532.04" y2="164.5" stroke="#9d9d9d" stroke-width="0.5"/>
<line x1="539.12" y1="163.5" x2="539.12" y2="164.5" stroke="#9d9d9d" stroke-width="0.5"/>
<line x1="544.61" y1="163.5" x2="544.61" y2="164.5" stroke="#9d9d9d" stroke-width="0.5"/>
<line x1="549.1" y1="163.5" x2="549.1" y2="164.5" stroke="#9d9d9d" stroke-width="0.5"/>
<line x1="552.89" y1="163.5" x2="552.89" y2="164.5" stroke="#9d9d9d" stroke-width="0.5"/>
<line x1="556.18" y1="163.5" x2="556.18" y2="164.5" stroke="#9d9d9d" stroke-width="0.5"/>
<line x1="559.07" y1="163.5" x2="559.07" y2="164.5" stroke="#9d9d9d" stroke-width="0.5"/>
<line x1="561.67" y1="163.5" x2="561.67" y2="165.1" stroke="#9d9d9d" stroke-width="0.6"/>
<text x="558.03" y="169.8" class="t" textLength="4.64" lengthAdjust="spacingAndGlyphs">10</text>
<text x="562.87" y="168.1" class="t" style="font-size:3.4px" textLength="2.63" lengthAdjust="spacingAndGlyphs">-2</text>
<line x1="578.73" y1="163.5" x2="578.73" y2="164.5" stroke="#9d9d9d" stroke-width="0.5"/>
<line x1="588.7" y1="163.5" x2="588.7" y2="164.5" stroke="#9d9d9d" stroke-width="0.5"/>
<line x1="595.78" y1="163.5" x2="595.78" y2="164.5" stroke="#9d9d9d" stroke-width="0.5"/>
<line x1="601.27" y1="163.5" x2="601.27" y2="164.5" stroke="#9d9d9d" stroke-width="0.5"/>
<line x1="605.76" y1="163.5" x2="605.76" y2="164.5" stroke="#9d9d9d" stroke-width="0.5"/>
<line x1="609.56" y1="163.5" x2="609.56" y2="164.5" stroke="#9d9d9d" stroke-width="0.5"/>
<line x1="612.84" y1="163.5" x2="612.84" y2="164.5" stroke="#9d9d9d" stroke-width="0.5"/>
<line x1="615.74" y1="163.5" x2="615.74" y2="164.5" stroke="#9d9d9d" stroke-width="0.5"/>
<line x1="618.33" y1="163.5" x2="618.33" y2="165.1" stroke="#9d9d9d" stroke-width="0.6"/>
<text x="614.7" y="169.8" class="t" textLength="4.64" lengthAdjust="spacingAndGlyphs">10</text>
<text x="619.54" y="168.1" class="t" style="font-size:3.4px" textLength="2.63" lengthAdjust="spacingAndGlyphs">-1</text>
<line x1="635.39" y1="163.5" x2="635.39" y2="164.5" stroke="#9d9d9d" stroke-width="0.5"/>
<line x1="645.37" y1="163.5" x2="645.37" y2="164.5" stroke="#9d9d9d" stroke-width="0.5"/>
<line x1="652.45" y1="163.5" x2="652.45" y2="164.5" stroke="#9d9d9d" stroke-width="0.5"/>
<line x1="657.94" y1="163.5" x2="657.94" y2="164.5" stroke="#9d9d9d" stroke-width="0.5"/>
<line x1="662.43" y1="163.5" x2="662.43" y2="164.5" stroke="#9d9d9d" stroke-width="0.5"/>
<line x1="666.22" y1="163.5" x2="666.22" y2="164.5" stroke="#9d9d9d" stroke-width="0.5"/>
<line x1="669.51" y1="163.5" x2="669.51" y2="164.5" stroke="#9d9d9d" stroke-width="0.5"/>
<line x1="672.41" y1="163.5" x2="672.41" y2="164.5" stroke="#9d9d9d" stroke-width="0.5"/>
<line x1="675" y1="163.5" x2="675" y2="165.1" stroke="#9d9d9d" stroke-width="0.6"/>
<text x="671.86" y="169.8" class="t" textLength="4.64" lengthAdjust="spacingAndGlyphs">10</text>
<text x="676.7" y="168.1" class="t" style="font-size:3.4px" textLength="1.64" lengthAdjust="spacingAndGlyphs">0</text>
<text x="590" y="174.7" text-anchor="middle" class="t" textLength="36" lengthAdjust="spacingAndGlyphs">Lambda(λ=0.0256)</text>
<text transform="translate(484.8 90.55) rotate(-90)" text-anchor="middle" class="t" textLength="22.6" lengthAdjust="spacingAndGlyphs">Coefficients</text>
<text x="678.0" y="27.0" text-anchor="end" class="ti" textLength="34.2" lengthAdjust="spacingAndGlyphs">peri_4mm</text>
<text x="480.4" y="14.4" class="L">c</text>
<path d="M29.8 230.6C31.25 231.2 35.58 232.87 38.5 234.2C41.42 235.53 43.65 237.18 47.3 238.6C50.95 240.02 57.48 242.22 60.4 242.7C63.32 243.18 61.63 241.45 64.8 241.5C67.97 241.55 74.53 242.15 79.4 243C84.27 243.85 89.73 245.27 94 246.6C98.27 247.93 101.7 249.53 105 251C108.3 252.47 110.88 253.57 113.8 255.4C116.72 257.23 119.58 259.45 122.5 262C125.42 264.55 128.87 267.55 131.3 270.7C133.73 273.85 135.4 277.73 137.1 280.9C138.8 284.07 140.03 286.52 141.5 289.7C142.97 292.88 144.98 297.7 145.9 300C146.82 302.3 146.82 302.92 147 303.5" stroke="#8c564b" stroke-width="0.66" fill="none"/>
<path d="M29.8 248.8C33.2 248.75 44.37 248.38 50.2 248.5C56.03 248.62 59.93 249.02 64.8 249.5C69.67 249.98 74.53 250.67 79.4 251.4C84.27 252.13 89.73 253 94 253.9C98.27 254.8 101.7 255.82 105 256.8C108.3 257.78 110.88 258.45 113.8 259.8C116.72 261.15 119.58 262.83 122.5 264.9C125.42 266.97 128.87 269.28 131.3 272.2C133.73 275.12 135.4 279.23 137.1 282.4C138.8 285.57 140.17 288.27 141.5 291.2C142.83 294.13 144.35 297.95 145.1 300C145.85 302.05 145.85 302.92 146 303.5" stroke="#9467bd" stroke-width="0.66" fill="none"/>
<path d="M29.8 257.6C33.2 257.3 41.93 256.17 50.2 255.8C58.47 255.43 70.27 255.53 79.4 255.4C88.53 255.27 97.7 255.17 105 255C112.3 254.83 119.07 253.48 123.2 254.4C127.33 255.32 127.48 258.27 129.8 260.5C132.12 262.73 134.9 264.63 137.1 267.8C139.3 270.97 141.3 275.6 143 279.5C144.7 283.4 146.22 287.78 147.3 291.2C148.38 294.62 148.97 297.95 149.5 300C150.03 302.05 150.33 302.92 150.5 303.5" stroke="#d62728" stroke-width="0.66" fill="none"/>
<path d="M29.8 254.4C30.77 255.42 33.67 258.02 35.6 260.5C37.53 262.98 39.45 266.27 41.4 269.3C43.35 272.33 45.1 275.55 47.3 278.7C49.5 281.85 52.42 285.22 54.6 288.2C56.78 291.18 58.7 294.35 60.4 296.6C62.1 298.85 63.58 300.55 64.8 301.7C66.02 302.85 67.22 303.2 67.7 303.5" stroke="#1f77b4" stroke-width="0.66" fill="none"/>
<path d="M29.8 257.9C32.72 259.18 41.95 264.32 47.3 265.6C52.65 266.88 58.25 265.35 61.9 265.6C65.55 265.85 65.07 266.37 69.2 267.1C73.33 267.83 81.35 268.92 86.7 270C92.05 271.08 98.25 272.87 101.3 273.6C104.35 274.33 102.92 273.42 105 274.4C107.08 275.38 110.88 277.68 113.8 279.5C116.72 281.32 120.07 283.72 122.5 285.3C124.93 286.88 126.45 287.3 128.4 289C130.35 290.7 132.5 293.67 134.2 295.5C135.9 297.33 137.63 298.67 138.6 300C139.57 301.33 139.77 302.92 140 303.5" stroke="#2ca02c" stroke-width="0.66" fill="none"/>
<path d="M29.8 275.8C31.5 276.65 36.6 278.58 40 280.9C43.4 283.22 47.77 287.08 50.2 289.7C52.63 292.32 52.9 294.3 54.6 296.6C56.3 298.9 59.43 302.35 60.4 303.5" stroke="#7f7f7f" stroke-width="0.66" fill="none"/>
<path d="M29.8 286.5C33.2 286.1 43.88 284.73 50.2 284.1C56.52 283.47 62.35 282.73 67.7 282.7C73.05 282.67 77.43 282.98 82.3 283.9C87.17 284.82 93.12 286.82 96.9 288.2C100.68 289.58 102.18 290.93 105 292.2C107.82 293.47 110.88 293.92 113.8 295.8C116.72 297.68 121.05 302.22 122.5 303.5" stroke="#ff7f0e" stroke-width="0.66" fill="none"/>
<path d="M29.8 287.1C33.2 287.28 44.37 288.13 50.2 288.2C56.03 288.27 59.45 287.5 64.8 287.5C70.15 287.5 76.95 287.72 82.3 288.2C87.65 288.68 93.12 289.73 96.9 290.4C100.68 291.07 101.22 291.17 105 292.2C108.78 293.23 115.22 295.02 119.6 296.6C123.98 298.18 128.87 300.55 131.3 301.7C133.73 302.85 133.72 303.2 134.2 303.5" stroke="#1f77b4" stroke-width="0.66" fill="none"/>
<path d="M29.8 324.3C30.77 323.45 33.67 321.27 35.6 319.2C37.53 317.13 39.45 314.33 41.4 311.9C43.35 309.47 45.95 306 47.3 304.6C48.65 303.2 49.13 303.68 49.5 303.5" stroke="#17becf" stroke-width="0.66" fill="none"/>
<path d="M29.8 361.5C31.98 359.32 39.5 352.28 42.9 348.4C46.3 344.52 47.77 342.33 50.2 338.2C52.63 334.07 55.32 327.98 57.5 323.6C59.68 319.22 61.6 315.25 63.3 311.9C65 308.55 66.97 304.9 67.7 303.5" stroke="#bcbd22" stroke-width="0.66" fill="none"/>
<path d="M29.8 363.7C32.72 361.4 42.68 354.88 47.3 349.9C51.92 344.92 54.58 338.43 57.5 333.8C60.42 329.17 63.1 324.6 64.8 322.1C66.5 319.6 64.05 319.65 67.7 318.8C71.35 317.95 81.1 317.67 86.7 317C92.3 316.33 96.68 315.53 101.3 314.8C105.92 314.07 111.12 313.13 114.4 312.6C117.68 312.07 118.43 312.57 121 311.6C123.57 310.63 127.35 308.15 129.8 306.8C132.25 305.45 134.72 304.05 135.7 303.5" stroke="#d62728" stroke-width="0.66" fill="none"/>
<path d="M29.8 337C33.2 336.35 43.15 334.48 50.2 333.1C57.25 331.72 66.02 330.05 72.1 328.7C78.18 327.35 81.83 326.47 86.7 325C91.57 323.53 97.17 321.6 101.3 319.9C105.43 318.2 109.05 316.28 111.5 314.8C113.95 313.32 114.65 312.33 116 311C117.35 309.67 118.4 308.05 119.6 306.8C120.8 305.55 122.6 304.05 123.2 303.5" stroke="#9467bd" stroke-width="0.66" fill="none"/>
<path d="M29.8 340.4C33.2 340.4 43.15 340.9 50.2 340.4C57.25 339.9 65.28 338.5 72.1 337.4C78.92 336.3 85.5 335.13 91.1 333.8C96.7 332.47 101.82 330.73 105.7 329.4C109.58 328.07 111.6 327.5 114.4 325.8C117.2 324.1 119.93 321.52 122.5 319.2C125.07 316.88 127.37 314.33 129.8 311.9C132.23 309.47 135.65 306 137.1 304.6C138.55 303.2 138.27 303.68 138.5 303.5" stroke="#8c564b" stroke-width="0.66" fill="none"/>
<path d="M29.8 351.6C33.2 350.95 43.15 348.85 50.2 347.7C57.25 346.55 65.28 346.05 72.1 344.7C78.92 343.35 85.5 341.42 91.1 339.6C96.7 337.78 101.82 335.62 105.7 333.8C109.58 331.98 111.6 330.65 114.4 328.7C117.2 326.75 119.93 324.65 122.5 322.1C125.07 319.55 127.37 316.07 129.8 313.4C132.23 310.73 135.27 307.75 137.1 306.1C138.93 304.45 140.18 303.93 140.8 303.5" stroke="#ff7f0e" stroke-width="0.66" fill="none"/>
<path d="M76.5 303.5C79.42 302.95 89.25 301.35 94 300.2C98.75 299.05 101.7 297.98 105 296.6C108.3 295.22 110.88 293.42 113.8 291.9C116.72 290.38 119.83 288.23 122.5 287.5C125.17 286.77 127.6 287.13 129.8 287.5C132 287.87 134 288.37 135.7 289.7C137.4 291.03 138.78 293.78 140 295.5C141.22 297.22 142.33 298.67 143 300C143.67 301.33 143.83 302.92 144 303.5" stroke="#2ca02c" stroke-width="0.66" fill="none"/>
<path d="M132 303.5C132.37 302.78 133.35 300.77 134.2 299.2C135.05 297.63 136 294.35 137.1 294.1C138.2 293.85 139.9 296.13 140.8 297.7C141.7 299.27 142.22 302.53 142.5 303.5" stroke="#17becf" stroke-width="0.66" fill="none"/>
<path d="M29.8 303.5L67.7 303.5" stroke="#2ca02c" stroke-width="0.6" fill="none"/>
<path d="M67.7 303.5L123.2 303.5" stroke="#1f77b4" stroke-width="0.6" fill="none"/>
<path d="M123.2 303.5L140 303.5" stroke="#9467bd" stroke-width="0.6" fill="none"/>
<path d="M140 303.5L200.1 303.5" stroke="#8c564b" stroke-width="0.6" fill="none"/>
<path d="M29.8 297.1L200.1 297.1" stroke="#e377c2" stroke-width="0.6" fill="none"/>
<line x1="114.6" y1="224" x2="114.6" y2="370.0" stroke="#555" stroke-width="0.85" stroke-dasharray="2 1"/>
<rect x="21.5" y="224.5" width="187" height="145.5" fill="none" stroke="#9d9d9d" stroke-width="1"/>
<line x1="19.9" y1="237.45" x2="21.5" y2="237.45" stroke="#9d9d9d" stroke-width="0.6"/>
<text x="19.2" y="239.45" text-anchor="end" class="t" textLength="10.45" lengthAdjust="spacingAndGlyphs">0.100</text>
<line x1="19.9" y1="253.95" x2="21.5" y2="253.95" stroke="#9d9d9d" stroke-width="0.6"/>
<text x="19.2" y="255.95" text-anchor="end" class="t" textLength="10.45" lengthAdjust="spacingAndGlyphs">0.075</text>
<line x1="19.9" y1="270.45" x2="21.5" y2="270.45" stroke="#9d9d9d" stroke-width="0.6"/>
<text x="19.2" y="272.45" text-anchor="end" class="t" textLength="10.45" lengthAdjust="spacingAndGlyphs">0.050</text>
<line x1="19.9" y1="286.95" x2="21.5" y2="286.95" stroke="#9d9d9d" stroke-width="0.6"/>
<text x="19.2" y="288.95" text-anchor="end" class="t" textLength="10.45" lengthAdjust="spacingAndGlyphs">0.025</text>
<line x1="19.9" y1="303.45" x2="21.5" y2="303.45" stroke="#9d9d9d" stroke-width="0.6"/>
<text x="19.2" y="305.45" text-anchor="end" class="t" textLength="10.45" lengthAdjust="spacingAndGlyphs">0.000</text>
<line x1="19.9" y1="319.95" x2="21.5" y2="319.95" stroke="#9d9d9d" stroke-width="0.6"/>
<text x="19.2" y="321.95" text-anchor="end" class="t" textLength="11.84" lengthAdjust="spacingAndGlyphs">-0.025</text>
<line x1="19.9" y1="336.45" x2="21.5" y2="336.45" stroke="#9d9d9d" stroke-width="0.6"/>
<text x="19.2" y="338.45" text-anchor="end" class="t" textLength="11.84" lengthAdjust="spacingAndGlyphs">-0.050</text>
<line x1="19.9" y1="352.95" x2="21.5" y2="352.95" stroke="#9d9d9d" stroke-width="0.6"/>
<text x="19.2" y="354.95" text-anchor="end" class="t" textLength="11.84" lengthAdjust="spacingAndGlyphs">-0.075</text>
<line x1="19.9" y1="369.45" x2="21.5" y2="369.45" stroke="#9d9d9d" stroke-width="0.6"/>
<text x="19.2" y="371.45" text-anchor="end" class="t" textLength="11.84" lengthAdjust="spacingAndGlyphs">-0.100</text>
<line x1="30" y1="370.0" x2="30" y2="371.6" stroke="#9d9d9d" stroke-width="0.6"/>
<text x="26.36" y="376.3" class="t" textLength="4.64" lengthAdjust="spacingAndGlyphs">10</text>
<text x="31.21" y="374.6" class="t" style="font-size:3.4px" textLength="2.63" lengthAdjust="spacingAndGlyphs">-3</text>
<line x1="47.06" y1="370.0" x2="47.06" y2="371" stroke="#9d9d9d" stroke-width="0.5"/>
<line x1="57.04" y1="370.0" x2="57.04" y2="371" stroke="#9d9d9d" stroke-width="0.5"/>
<line x1="64.12" y1="370.0" x2="64.12" y2="371" stroke="#9d9d9d" stroke-width="0.5"/>
<line x1="69.61" y1="370.0" x2="69.61" y2="371" stroke="#9d9d9d" stroke-width="0.5"/>
<line x1="74.1" y1="370.0" x2="74.1" y2="371" stroke="#9d9d9d" stroke-width="0.5"/>
<line x1="77.89" y1="370.0" x2="77.89" y2="371" stroke="#9d9d9d" stroke-width="0.5"/>
<line x1="81.18" y1="370.0" x2="81.18" y2="371" stroke="#9d9d9d" stroke-width="0.5"/>
<line x1="84.07" y1="370.0" x2="84.07" y2="371" stroke="#9d9d9d" stroke-width="0.5"/>
<line x1="86.67" y1="370.0" x2="86.67" y2="371.6" stroke="#9d9d9d" stroke-width="0.6"/>
<text x="83.03" y="376.3" class="t" textLength="4.64" lengthAdjust="spacingAndGlyphs">10</text>
<text x="87.87" y="374.6" class="t" style="font-size:3.4px" textLength="2.63" lengthAdjust="spacingAndGlyphs">-2</text>
<line x1="103.73" y1="370.0" x2="103.73" y2="371" stroke="#9d9d9d" stroke-width="0.5"/>
<line x1="113.7" y1="370.0" x2="113.7" y2="371" stroke="#9d9d9d" stroke-width="0.5"/>
<line x1="120.78" y1="370.0" x2="120.78" y2="371" stroke="#9d9d9d" stroke-width="0.5"/>
<line x1="126.27" y1="370.0" x2="126.27" y2="371" stroke="#9d9d9d" stroke-width="0.5"/>
<line x1="130.76" y1="370.0" x2="130.76" y2="371" stroke="#9d9d9d" stroke-width="0.5"/>
<line x1="134.56" y1="370.0" x2="134.56" y2="371" stroke="#9d9d9d" stroke-width="0.5"/>
<line x1="137.84" y1="370.0" x2="137.84" y2="371" stroke="#9d9d9d" stroke-width="0.5"/>
<line x1="140.74" y1="370.0" x2="140.74" y2="371" stroke="#9d9d9d" stroke-width="0.5"/>
<line x1="143.33" y1="370.0" x2="143.33" y2="371.6" stroke="#9d9d9d" stroke-width="0.6"/>
<text x="139.7" y="376.3" class="t" textLength="4.64" lengthAdjust="spacingAndGlyphs">10</text>
<text x="144.54" y="374.6" class="t" style="font-size:3.4px" textLength="2.63" lengthAdjust="spacingAndGlyphs">-1</text>
<line x1="160.39" y1="370.0" x2="160.39" y2="371" stroke="#9d9d9d" stroke-width="0.5"/>
<line x1="170.37" y1="370.0" x2="170.37" y2="371" stroke="#9d9d9d" stroke-width="0.5"/>
<line x1="177.45" y1="370.0" x2="177.45" y2="371" stroke="#9d9d9d" stroke-width="0.5"/>
<line x1="182.94" y1="370.0" x2="182.94" y2="371" stroke="#9d9d9d" stroke-width="0.5"/>
<line x1="187.43" y1="370.0" x2="187.43" y2="371" stroke="#9d9d9d" stroke-width="0.5"/>
<line x1="191.22" y1="370.0" x2="191.22" y2="371" stroke="#9d9d9d" stroke-width="0.5"/>
<line x1="194.51" y1="370.0" x2="194.51" y2="371" stroke="#9d9d9d" stroke-width="0.5"/>
<line x1="197.41" y1="370.0" x2="197.41" y2="371" stroke="#9d9d9d" stroke-width="0.5"/>
<line x1="200" y1="370.0" x2="200" y2="371.6" stroke="#9d9d9d" stroke-width="0.6"/>
<text x="196.86" y="376.3" class="t" textLength="4.64" lengthAdjust="spacingAndGlyphs">10</text>
<text x="201.7" y="374.6" class="t" style="font-size:3.4px" textLength="1.64" lengthAdjust="spacingAndGlyphs">0</text>
<text x="115" y="381.2" text-anchor="middle" class="t" textLength="36" lengthAdjust="spacingAndGlyphs">Lambda(λ=0.0126)</text>
<text transform="translate(4.7 297.25) rotate(-90)" text-anchor="middle" class="t" textLength="22.6" lengthAdjust="spacingAndGlyphs">Coefficients</text>
<text x="203.0" y="233.8" text-anchor="end" class="ti" textLength="34.2" lengthAdjust="spacingAndGlyphs">peri_6mm</text>
<text x="2.0" y="222.9" class="L">d</text>
<path d="M267.2 289.22C268.6 289.96 272.79 292.29 275.58 293.65C278.38 295.01 281.17 296.28 283.97 297.39C286.76 298.51 289.56 299.53 292.35 300.35C295.15 301.17 297.94 301.91 300.74 302.33C303.53 302.76 306.33 302.78 309.12 302.91C311.91 303.03 314.71 303.01 317.5 303.07C320.3 303.13 323.09 303.19 325.89 303.25C328.68 303.31 331.48 303.38 334.27 303.44C337.07 303.51 339.86 303.59 342.66 303.67C345.45 303.75 348.24 303.83 351.04 303.92C353.83 304.02 356.63 304.08 359.42 304.26C362.22 304.43 366.41 304.88 367.81 305" stroke="#1f77b4" stroke-width="0.55" fill="none"/>
<path d="M267.2 289.88C268.06 290.43 270.63 292.19 272.35 293.23C274.07 294.26 275.78 295.23 277.5 296.09C279.22 296.95 280.93 297.74 282.65 298.4C284.36 299.06 286.08 299.65 287.8 300.04C289.51 300.43 291.23 300.56 292.95 300.75C294.66 300.95 296.38 301.04 298.1 301.2C299.81 301.35 301.53 301.5 303.25 301.66C304.96 301.82 306.68 301.98 308.4 302.15C310.11 302.32 311.83 302.5 313.54 302.68C315.26 302.87 316.98 303.05 318.69 303.26C320.41 303.47 322.13 303.65 323.84 303.94C325.56 304.23 328.14 304.82 328.99 305" stroke="#ff7f0e" stroke-width="0.55" fill="none"/>
<path d="M267.2 291.61C268.3 292.4 271.58 294.88 273.77 296.33C275.96 297.77 278.15 299.11 280.34 300.28C282.53 301.45 284.72 302.51 286.91 303.34C289.1 304.18 291.29 304.92 293.48 305.29C295.67 305.67 297.86 305.54 300.05 305.58C302.24 305.62 304.43 305.54 306.62 305.53C308.81 305.51 311 305.49 313.19 305.47C315.38 305.45 317.58 305.43 319.77 305.4C321.96 305.38 324.15 305.36 326.34 305.34C328.53 305.31 330.72 305.29 332.91 305.26C335.1 305.23 337.29 305.21 339.48 305.16C341.67 305.12 344.95 305.03 346.05 305" stroke="#2ca02c" stroke-width="0.55" fill="none"/>
<path d="M267.2 291.62C268.74 292.56 273.37 295.56 276.45 297.28C279.54 298.99 282.62 300.56 285.7 301.91C288.79 303.25 291.87 304.46 294.96 305.32C298.04 306.19 301.12 306.82 304.21 307.08C307.29 307.34 310.38 306.95 313.46 306.89C316.54 306.82 319.63 306.74 322.71 306.67C325.8 306.6 328.88 306.52 331.96 306.45C335.05 306.37 338.13 306.29 341.22 306.21C344.3 306.13 347.38 306.05 350.47 305.97C353.55 305.88 356.64 305.8 359.72 305.7C362.8 305.61 365.89 305.52 368.97 305.41C372.06 305.29 376.68 305.07 378.22 305" stroke="#d62728" stroke-width="0.55" fill="none"/>
<path d="M267.2 293.3C268.49 294.11 272.37 296.69 274.95 298.2C277.53 299.72 280.12 301.14 282.7 302.41C285.28 303.68 287.86 304.84 290.45 305.82C293.03 306.8 295.61 307.7 298.2 308.29C300.78 308.87 303.36 309.23 305.95 309.34C308.53 309.45 311.11 309.07 313.69 308.93C316.28 308.79 318.86 308.65 321.44 308.5C324.03 308.35 326.61 308.19 329.19 308.03C331.78 307.86 334.36 307.7 336.94 307.52C339.52 307.33 342.11 307.15 344.69 306.94C347.27 306.73 349.86 306.56 352.44 306.24C355.02 305.92 358.9 305.21 360.19 305" stroke="#9467bd" stroke-width="0.55" fill="none"/>
<path d="M267.2 293.96C268.91 294.28 274.06 295.28 277.49 295.86C280.92 296.44 284.35 296.98 287.78 297.45C291.21 297.92 294.64 298.34 298.07 298.68C301.5 299.01 304.93 299.22 308.36 299.43C311.79 299.65 315.22 299.75 318.65 299.94C322.08 300.13 325.51 300.37 328.94 300.58C332.37 300.8 335.8 301.02 339.23 301.24C342.65 301.46 346.08 301.68 349.51 301.91C352.94 302.13 356.37 302.36 359.8 302.6C363.23 302.83 366.66 303.07 370.09 303.32C373.52 303.57 376.95 303.8 380.38 304.09C383.81 304.37 388.96 304.85 390.67 305" stroke="#8c564b" stroke-width="0.55" fill="none"/>
<path d="M267.2 294.4C268.14 295.06 270.98 297.18 272.87 298.37C274.75 299.56 276.64 300.64 278.53 301.53C280.42 302.42 282.31 303.23 284.2 303.7C286.08 304.18 287.97 304.25 289.86 304.38C291.75 304.5 293.64 304.42 295.53 304.44C297.41 304.47 299.3 304.49 301.19 304.51C303.08 304.53 304.97 304.56 306.86 304.58C308.75 304.6 310.63 304.63 312.52 304.65C314.41 304.68 316.3 304.7 318.19 304.73C320.08 304.75 321.96 304.78 323.85 304.8C325.74 304.83 327.63 304.86 329.52 304.89C331.41 304.92 334.24 304.98 335.18 305" stroke="#e377c2" stroke-width="0.55" fill="none"/>
<path d="M267.2 296.06C268.71 296.51 273.26 297.94 276.29 298.79C279.31 299.64 282.34 300.43 285.37 301.15C288.4 301.87 291.43 302.53 294.46 303.1C297.49 303.67 300.51 304.19 303.54 304.57C306.57 304.96 309.6 305.27 312.63 305.41C315.66 305.55 318.68 305.42 321.71 305.41C324.74 305.41 327.77 305.38 330.8 305.37C333.83 305.35 336.86 305.33 339.88 305.32C342.91 305.3 345.94 305.28 348.97 305.26C352 305.24 355.03 305.22 358.06 305.2C361.08 305.18 364.11 305.16 367.14 305.13C370.17 305.09 374.71 305.02 376.23 305" stroke="#7f7f7f" stroke-width="0.55" fill="none"/>
<path d="M267.2 296.24C268.65 296.75 273 298.35 275.9 299.29C278.8 300.23 281.7 301.1 284.6 301.87C287.5 302.65 290.4 303.35 293.3 303.93C296.2 304.5 299.1 305.03 301.99 305.32C304.89 305.62 307.79 305.65 310.69 305.7C313.59 305.75 316.49 305.65 319.39 305.63C322.29 305.6 325.19 305.58 328.09 305.55C330.99 305.52 333.89 305.49 336.79 305.47C339.69 305.44 342.59 305.41 345.49 305.38C348.39 305.35 351.29 305.32 354.19 305.28C357.09 305.25 359.99 305.22 362.89 305.17C365.79 305.12 370.14 305.03 371.58 305" stroke="#bcbd22" stroke-width="0.55" fill="none"/>
<path d="M267.2 297.81C268.78 298.5 273.54 300.7 276.71 301.98C279.88 303.25 283.04 304.44 286.21 305.48C289.38 306.51 292.55 307.45 295.72 308.2C298.89 308.95 302.06 309.67 305.23 309.96C308.39 310.25 311.56 310.06 314.73 309.96C317.9 309.86 321.07 309.57 324.24 309.36C327.41 309.16 330.58 308.96 333.75 308.75C336.91 308.54 340.08 308.33 343.25 308.11C346.42 307.9 349.59 307.68 352.76 307.45C355.93 307.22 359.1 306.99 362.26 306.75C365.43 306.5 368.6 306.27 371.77 305.98C374.94 305.69 379.69 305.16 381.28 305" stroke="#17becf" stroke-width="0.55" fill="none"/>
<path d="M267.2 298.16C268.06 298.63 270.64 300.1 272.36 300.97C274.07 301.84 275.79 302.65 277.51 303.37C279.23 304.09 280.95 304.75 282.67 305.29C284.38 305.84 286.1 306.35 287.82 306.64C289.54 306.93 291.26 307.03 292.98 307.05C294.7 307.07 296.41 306.86 298.13 306.76C299.85 306.66 301.57 306.56 303.29 306.47C305.01 306.37 306.72 306.27 308.44 306.17C310.16 306.08 311.88 305.98 313.6 305.88C315.32 305.78 317.04 305.69 318.75 305.59C320.47 305.49 322.19 305.39 323.91 305.29C325.63 305.2 328.21 305.05 329.06 305" stroke="#1f77b4" stroke-width="0.55" fill="none"/>
<path d="M267.2 299.13C268.77 299.28 273.47 299.75 276.61 300.02C279.74 300.29 282.88 300.54 286.01 300.76C289.15 300.97 292.28 301.17 295.42 301.32C298.55 301.47 301.69 301.56 304.82 301.66C307.96 301.77 311.09 301.84 314.23 301.95C317.36 302.06 320.5 302.2 323.63 302.32C326.77 302.45 329.9 302.57 333.04 302.7C336.18 302.83 339.31 302.96 342.45 303.09C345.58 303.22 348.72 303.36 351.85 303.5C354.99 303.64 358.12 303.78 361.26 303.93C364.39 304.08 367.53 304.22 370.66 304.4C373.8 304.58 378.5 304.9 380.07 305" stroke="#ff7f0e" stroke-width="0.55" fill="none"/>
<path d="M267.2 300.6C268.02 300.81 270.5 301.49 272.14 301.88C273.79 302.27 275.44 302.62 277.09 302.92C278.73 303.22 280.38 303.49 282.03 303.67C283.68 303.86 285.32 303.94 286.97 304.01C288.62 304.08 290.27 304.06 291.91 304.08C293.56 304.1 295.21 304.13 296.86 304.16C298.5 304.18 300.15 304.21 301.8 304.24C303.45 304.27 305.09 304.3 306.74 304.33C308.39 304.36 310.04 304.39 311.68 304.43C313.33 304.46 314.98 304.5 316.63 304.54C318.27 304.59 319.92 304.61 321.57 304.69C323.22 304.77 325.69 304.95 326.51 305" stroke="#2ca02c" stroke-width="0.55" fill="none"/>
<path d="M267.2 302.18C268.06 302.55 270.63 303.73 272.35 304.4C274.06 305.08 275.78 305.69 277.49 306.2C279.21 306.71 280.92 307.19 282.64 307.48C284.35 307.77 286.07 307.91 287.78 307.95C289.5 307.99 291.21 307.79 292.93 307.71C294.64 307.63 296.36 307.55 298.07 307.46C299.79 307.38 301.51 307.29 303.22 307.2C304.94 307.11 306.65 307.01 308.37 306.91C310.08 306.81 311.8 306.71 313.51 306.6C315.23 306.49 316.94 306.37 318.66 306.24C320.37 306.11 322.09 306.01 323.8 305.81C325.52 305.6 328.09 305.13 328.95 305" stroke="#d62728" stroke-width="0.55" fill="none"/>
<path d="M267.2 301.99C268.37 302.46 271.87 304 274.2 304.86C276.53 305.72 278.87 306.51 281.2 307.16C283.53 307.82 285.87 308.43 288.2 308.77C290.53 309.12 292.86 309.22 295.2 309.23C297.53 309.24 299.86 308.97 302.2 308.84C304.53 308.71 306.86 308.57 309.2 308.44C311.53 308.3 313.86 308.16 316.2 308.01C318.53 307.86 320.86 307.72 323.2 307.56C325.53 307.41 327.86 307.25 330.2 307.08C332.53 306.91 334.86 306.74 337.19 306.55C339.53 306.36 341.86 306.2 344.19 305.94C346.53 305.68 350.03 305.16 351.19 305" stroke="#9467bd" stroke-width="0.55" fill="none"/>
<path d="M267.2 303.08C268.51 303.4 272.46 304.39 275.08 304.98C277.71 305.56 280.34 306.11 282.97 306.61C285.6 307.11 288.22 307.56 290.85 307.95C293.48 308.34 296.11 308.7 298.74 308.95C301.37 309.2 303.99 309.48 306.62 309.48C309.25 309.47 311.88 309.12 314.51 308.92C317.13 308.73 319.76 308.52 322.39 308.31C325.02 308.1 327.65 307.9 330.27 307.69C332.9 307.48 335.53 307.27 338.16 307.06C340.79 306.84 343.42 306.63 346.04 306.41C348.67 306.19 351.3 305.97 353.93 305.74C356.56 305.5 360.5 305.12 361.81 305" stroke="#8c564b" stroke-width="0.55" fill="none"/>
<path d="M267.2 304.66C268.26 304.59 271.45 304.35 273.57 304.22C275.69 304.09 277.82 303.96 279.94 303.85C282.07 303.75 284.19 303.65 286.31 303.58C288.44 303.5 290.56 303.42 292.68 303.41C294.81 303.41 296.93 303.49 299.06 303.55C301.18 303.6 303.3 303.68 305.43 303.74C307.55 303.81 309.67 303.87 311.8 303.94C313.92 304.01 316.05 304.07 318.17 304.14C320.29 304.21 322.42 304.28 324.54 304.35C326.66 304.41 328.79 304.48 330.91 304.55C333.04 304.62 335.16 304.69 337.28 304.77C339.41 304.84 342.59 304.96 343.65 305" stroke="#e377c2" stroke-width="0.55" fill="none"/>
<path d="M267.2 306.11C268.89 305.72 273.98 304.49 277.36 303.8C280.75 303.1 284.14 302.46 287.53 301.92C290.92 301.38 294.3 300.89 297.69 300.56C301.08 300.24 304.47 300.02 307.86 299.99C311.24 299.96 314.63 300.25 318.02 300.39C321.41 300.52 324.8 300.66 328.18 300.81C331.57 300.95 334.96 301.1 338.35 301.25C341.74 301.41 345.12 301.56 348.51 301.73C351.9 301.9 355.29 302.07 358.68 302.26C362.06 302.45 365.45 302.64 368.84 302.87C372.23 303.09 375.62 303.25 379 303.61C382.39 303.96 387.47 304.77 389.17 305" stroke="#7f7f7f" stroke-width="0.55" fill="none"/>
<path d="M267.2 306.45C268.22 306.33 271.28 305.97 273.32 305.76C275.36 305.55 277.4 305.35 279.44 305.18C281.48 305 283.52 304.85 285.56 304.72C287.6 304.59 289.64 304.46 291.68 304.4C293.72 304.33 295.76 304.33 297.8 304.33C299.84 304.32 301.88 304.37 303.92 304.39C305.96 304.41 308 304.43 310.04 304.45C312.08 304.48 314.12 304.5 316.16 304.53C318.2 304.55 320.24 304.58 322.28 304.6C324.31 304.63 326.35 304.66 328.39 304.69C330.43 304.73 332.47 304.75 334.51 304.8C336.55 304.85 339.61 304.97 340.63 305" stroke="#bcbd22" stroke-width="0.55" fill="none"/>
<path d="M267.2 307.1C268.01 306.88 270.43 306.21 272.04 305.83C273.65 305.44 275.27 305.08 276.88 304.77C278.49 304.46 280.11 304.18 281.72 303.97C283.33 303.75 284.94 303.56 286.56 303.49C288.17 303.42 289.78 303.52 291.4 303.56C293.01 303.6 294.62 303.67 296.24 303.73C297.85 303.78 299.46 303.84 301.08 303.9C302.69 303.95 304.3 304.01 305.92 304.07C307.53 304.13 309.14 304.2 310.76 304.26C312.37 304.32 313.98 304.39 315.6 304.46C317.21 304.53 318.82 304.6 320.43 304.69C322.05 304.78 324.47 304.95 325.27 305" stroke="#17becf" stroke-width="0.55" fill="none"/>
<path d="M267.2 308.96C268.89 308.85 273.96 308.51 277.34 308.31C280.72 308.11 284.1 307.92 287.48 307.76C290.86 307.59 294.24 307.44 297.61 307.32C300.99 307.21 304.37 307.12 307.75 307.04C311.13 306.97 314.51 306.94 317.89 306.87C321.27 306.81 324.65 306.73 328.03 306.66C331.41 306.58 334.79 306.51 338.17 306.43C341.55 306.35 344.93 306.27 348.31 306.19C351.68 306.11 355.06 306.03 358.44 305.94C361.82 305.86 365.2 305.77 368.58 305.68C371.96 305.59 375.34 305.5 378.72 305.39C382.1 305.28 387.17 305.06 388.86 305" stroke="#1f77b4" stroke-width="0.55" fill="none"/>
<path d="M267.2 308.4C268.63 307.94 272.93 306.48 275.79 305.61C278.66 304.74 281.52 303.92 284.38 303.18C287.25 302.44 290.11 301.76 292.98 301.17C295.84 300.58 298.7 300.05 301.57 299.65C304.43 299.25 307.3 298.81 310.16 298.76C313.02 298.71 315.89 299.11 318.75 299.35C321.62 299.59 324.48 299.91 327.34 300.2C330.21 300.48 333.07 300.77 335.94 301.06C338.8 301.36 341.67 301.65 344.53 301.95C347.39 302.25 350.26 302.56 353.12 302.88C355.99 303.19 358.85 303.5 361.71 303.85C364.58 304.21 368.87 304.81 370.31 305" stroke="#ff7f0e" stroke-width="0.55" fill="none"/>
<path d="M267.2 310.64C268.82 310.51 273.67 310.1 276.9 309.86C280.13 309.62 283.37 309.4 286.6 309.21C289.83 309.02 293.06 308.84 296.3 308.71C299.53 308.57 302.76 308.5 306 308.41C309.23 308.31 312.46 308.25 315.7 308.16C318.93 308.06 322.16 307.94 325.4 307.83C328.63 307.72 331.86 307.61 335.1 307.49C338.33 307.38 341.56 307.26 344.79 307.13C348.03 307.01 351.26 306.88 354.49 306.75C357.73 306.61 360.96 306.47 364.19 306.31C367.43 306.16 370.66 306.03 373.89 305.81C377.13 305.59 381.98 305.13 383.59 305" stroke="#2ca02c" stroke-width="0.55" fill="none"/>
<path d="M267.2 310.66C268.1 310.37 270.8 309.44 272.59 308.92C274.39 308.4 276.19 307.92 277.99 307.53C279.79 307.13 281.59 306.78 283.38 306.56C285.18 306.34 286.98 306.29 288.78 306.22C290.58 306.15 292.38 306.17 294.17 306.14C295.97 306.11 297.77 306.08 299.57 306.05C301.37 306.02 303.16 305.99 304.96 305.95C306.76 305.92 308.56 305.88 310.36 305.84C312.16 305.81 313.95 305.77 315.75 305.72C317.55 305.68 319.35 305.64 321.15 305.58C322.95 305.53 324.74 305.5 326.54 305.4C328.34 305.31 331.04 305.07 331.94 305" stroke="#d62728" stroke-width="0.55" fill="none"/>
<path d="M267.2 311.57C268.2 310.9 271.19 308.77 273.18 307.54C275.18 306.31 277.17 305.18 279.16 304.2C281.16 303.22 283.15 302.34 285.15 301.67C287.14 301.01 289.13 300.42 291.13 300.21C293.12 299.99 295.12 300.29 297.11 300.38C299.11 300.47 301.1 300.61 303.09 300.74C305.09 300.86 307.08 300.99 309.08 301.13C311.07 301.26 313.06 301.4 315.06 301.56C317.05 301.71 319.05 301.86 321.04 302.04C323.03 302.22 325.03 302.39 327.02 302.61C329.02 302.83 331.01 302.94 333 303.34C335 303.74 337.99 304.72 338.99 305" stroke="#9467bd" stroke-width="0.55" fill="none"/>
<path d="M267.2 313.54C268 312.66 270.41 309.86 272.02 308.27C273.62 306.69 275.23 305.24 276.84 304.04C278.44 302.84 280.05 301.72 281.65 301.06C283.26 300.39 284.87 300.15 286.47 300.06C288.08 299.96 289.68 300.34 291.29 300.49C292.9 300.63 294.5 300.78 296.11 300.94C297.71 301.09 299.32 301.25 300.93 301.41C302.53 301.58 304.14 301.74 305.74 301.92C307.35 302.09 308.96 302.27 310.56 302.47C312.17 302.66 313.77 302.86 315.38 303.08C316.99 303.3 318.59 303.48 320.2 303.8C321.8 304.12 324.21 304.8 325.02 305" stroke="#8c564b" stroke-width="0.55" fill="none"/>
<path d="M267.2 315.77C268.03 315.43 270.51 314.36 272.16 313.74C273.81 313.11 275.47 312.53 277.12 312.01C278.77 311.49 280.42 311.02 282.08 310.63C283.73 310.24 285.38 309.9 287.04 309.67C288.69 309.45 290.34 309.39 292 309.26C293.65 309.14 295.3 309.03 296.95 308.9C298.61 308.78 300.26 308.65 301.91 308.51C303.57 308.38 305.22 308.24 306.87 308.09C308.53 307.94 310.18 307.79 311.83 307.62C313.48 307.45 315.14 307.28 316.79 307.08C318.44 306.87 320.1 306.74 321.75 306.39C323.4 306.05 325.88 305.23 326.71 305" stroke="#e377c2" stroke-width="0.55" fill="none"/>
<path d="M267.2 318.38C268.24 317.46 271.35 314.54 273.43 312.85C275.5 311.16 277.58 309.61 279.65 308.26C281.73 306.91 283.8 305.69 285.88 304.77C287.95 303.84 290.03 303.04 292.1 302.69C294.18 302.34 296.25 302.63 298.33 302.65C300.4 302.68 302.48 302.78 304.55 302.85C306.63 302.91 308.7 302.98 310.78 303.06C312.85 303.13 314.93 303.21 317 303.29C319.08 303.37 321.15 303.45 323.23 303.54C325.3 303.63 327.38 303.73 329.45 303.84C331.53 303.95 333.6 304.02 335.68 304.21C337.75 304.41 340.86 304.87 341.9 305" stroke="#7f7f7f" stroke-width="0.55" fill="none"/>
<path d="M267.2 319.62C268.79 319.13 273.57 317.59 276.76 316.7C279.94 315.8 283.13 314.98 286.31 314.25C289.5 313.52 292.68 312.87 295.87 312.35C299.06 311.83 302.24 311.42 305.43 311.13C308.61 310.83 311.8 310.77 314.98 310.58C318.17 310.39 321.35 310.18 324.54 309.98C327.72 309.77 330.91 309.56 334.1 309.35C337.28 309.13 340.47 308.91 343.65 308.69C346.84 308.46 350.02 308.22 353.21 307.98C356.39 307.73 359.58 307.48 362.77 307.2C365.95 306.93 369.14 306.68 372.32 306.32C375.51 305.95 380.29 305.22 381.88 305" stroke="#bcbd22" stroke-width="0.55" fill="none"/>
<path d="M267.2 322.1C268.08 320.76 270.73 316.53 272.5 314.09C274.26 311.66 276.03 309.41 277.79 307.47C279.56 305.53 281.32 303.77 283.09 302.45C284.85 301.12 286.62 299.98 288.38 299.53C290.15 299.07 291.92 299.59 293.68 299.7C295.45 299.81 297.21 300.02 298.98 300.19C300.74 300.36 302.51 300.53 304.27 300.71C306.04 300.89 307.8 301.08 309.57 301.28C311.33 301.47 313.1 301.68 314.87 301.9C316.63 302.12 318.4 302.34 320.16 302.6C321.93 302.86 323.69 303.05 325.46 303.45C327.22 303.85 329.87 304.74 330.75 305" stroke="#17becf" stroke-width="0.55" fill="none"/>
<path d="M267.1 230.6C268.02 233.15 270.72 240.43 272.6 245.9C274.48 251.37 276.7 258.05 278.4 263.4C280.1 268.75 281.58 273.62 282.8 278C284.02 282.38 284.85 286.03 285.7 289.7C286.55 293.37 287.27 297.2 287.9 300C288.53 302.8 288.65 305 289.5 306.5C290.35 308 290.42 308.58 293 309C295.58 309.42 300.5 309.25 305 309C309.5 308.75 313.33 308 320 307.5C326.67 307 335 306.42 345 306C355 305.58 374.17 305.17 380 305" stroke="#d62728" stroke-width="0.66" fill="none"/>
<path d="M267.1 274.4C269.23 275.2 275.33 277.38 279.9 279.2C284.47 281.02 289.63 283.18 294.5 285.3C299.37 287.42 304.48 289.58 309.1 291.9C313.72 294.22 317.88 297.43 322.2 299.2C326.52 300.97 328.7 301.7 335 302.5C341.3 303.3 351.67 303.58 360 304C368.33 304.42 380.83 304.83 385 305" stroke="#17becf" stroke-width="0.66" fill="none"/>
<path d="M267.1 276.3C269.23 276.95 275.33 278.7 279.9 280.2C284.47 281.7 289.63 283.47 294.5 285.3C299.37 287.13 304.72 289.37 309.1 291.2C313.48 293.03 317.15 294.83 320.8 296.3C324.45 297.77 326.97 298.97 331 300C335.03 301.03 338.5 301.78 345 302.5C351.5 303.22 362.83 303.88 370 304.3C377.17 304.72 385 304.88 388 305" stroke="#d62728" stroke-width="0.66" fill="none"/>
<path d="M267.1 279.2C269.23 279.73 275.33 281.13 279.9 282.4C284.47 283.67 289.63 285.1 294.5 286.8C299.37 288.5 304.52 290.82 309.1 292.6C313.68 294.38 317.68 296.18 322 297.5C326.32 298.82 329.5 299.58 335 300.5C340.5 301.42 347.5 302.25 355 303C362.5 303.75 375.83 304.67 380 305" stroke="#7f7f7f" stroke-width="0.66" fill="none"/>
<path d="M267.3 289.1C269.65 288.85 277.5 287.65 281.4 287.6C285.3 287.55 286.82 287.73 290.7 288.8C294.58 289.87 300.42 292.35 304.7 294C308.98 295.65 312.5 297.53 316.4 298.7C320.3 299.87 324.5 300.52 328.1 301C331.7 301.48 333.52 301.35 338 301.6C342.48 301.85 348.83 302.1 355 302.5C361.17 302.9 369.17 303.58 375 304C380.83 304.42 387.5 304.83 390 305" stroke="#ff7f0e" stroke-width="0.66" fill="none"/>
<path d="M267.3 290.5C269.65 290.3 277.88 289.4 281.4 289.3C284.92 289.2 286.07 288.72 288.4 289.9C290.73 291.08 292.63 294.72 295.4 296.4C298.17 298.08 300.9 299.07 305 300C309.1 300.93 312.5 301.42 320 302C327.5 302.58 340 303 350 303.5C360 304 375 304.75 380 305" stroke="#bcbd22" stroke-width="0.66" fill="none"/>
<path d="M267.3 292.9C269.65 292.8 276.13 291.92 281.4 292.3C286.67 292.68 293.07 293.93 298.9 295.2C304.73 296.47 311.22 298.77 316.4 299.9C321.58 301.03 323.57 301.35 330 302C336.43 302.65 346.67 303.3 355 303.8C363.33 304.3 375.83 304.8 380 305" stroke="#1f77b4" stroke-width="0.66" fill="none"/>
<path d="M267.2 364C268.13 361.53 270.85 354.12 272.8 349.2C274.75 344.28 277.07 339 278.9 334.5C280.73 330 282.37 325.9 283.8 322.2C285.23 318.5 286.47 314.57 287.5 312.3C288.53 310.03 287.92 309.48 290 308.6C292.08 307.72 293.33 307.47 300 307C306.67 306.53 320 306.13 330 305.8C340 305.47 355 305.13 360 305" stroke="#7f7f7f" stroke-width="0.66" fill="none"/>
<path d="M267.2 350.5C268.33 348.85 271.83 343.88 274 340.6C276.17 337.32 278.15 334.48 280.2 330.8C282.25 327.12 284.67 321.78 286.3 318.5C287.93 315.22 287.72 312.85 290 311.1C292.28 309.35 293.33 308.85 300 308C306.67 307.15 320 306.5 330 306C340 305.5 355 305.17 360 305" stroke="#8c564b" stroke-width="0.66" fill="none"/>
<path d="M267.2 335.1C268.75 334.48 273.12 332.33 276.5 331.4C279.88 330.47 285.05 330.02 287.5 329.5C289.95 328.98 289.35 329.73 291.2 328.3C293.05 326.87 296.13 323.15 298.6 320.9C301.07 318.65 303.33 316.65 306 314.8C308.67 312.95 311.32 311.35 314.6 309.8C317.88 308.25 321.8 306.52 325.7 305.5C329.6 304.48 332.28 303.95 338 303.7C343.72 303.45 352.17 303.78 360 304C367.83 304.22 380.83 304.83 385 305" stroke="#1f77b4" stroke-width="0.66" fill="none"/>
<path d="M267.2 338.4C268.75 337.75 273.12 335.93 276.5 334.5C279.88 333.07 285.05 330.83 287.5 329.8C289.95 328.77 289.35 329.77 291.2 328.3C293.05 326.83 296.13 323.22 298.6 321C301.07 318.78 303.33 316.83 306 315C308.67 313.17 311.32 311.53 314.6 310C317.88 308.47 321.8 306.8 325.7 305.8C329.6 304.8 330.62 304.13 338 304C345.38 303.87 364.67 304.83 370 305" stroke="#1f77b4" stroke-width="0.66" fill="none"/>
<path d="M267.2 328.1C268.75 327.52 272.9 325.9 276.5 324.6C280.1 323.3 284.7 321.73 288.8 320.3C292.9 318.87 297 317.43 301.1 316C305.2 314.57 309.3 312.93 313.4 311.7C317.5 310.47 321.6 309.52 325.7 308.6C329.8 307.68 332.28 306.72 338 306.2C343.72 305.68 352.17 305.7 360 305.5C367.83 305.3 380.83 305.08 385 305" stroke="#9467bd" stroke-width="0.66" fill="none"/>
<path d="M288.8 319.1C291.87 318.38 301.05 316.35 307.2 314.8C313.35 313.25 320.57 310.83 325.7 309.8C330.83 308.77 333.62 308.98 338 308.6C342.38 308.22 346.67 307.93 352 307.5C357.33 307.07 363.67 306.42 370 306C376.33 305.58 386.67 305.17 390 305" stroke="#bcbd22" stroke-width="0.66" fill="none"/>
<path d="M300 317C303.33 316.25 315 313.57 320 312.5C325 311.43 325.83 311.27 330 310.6C334.17 309.93 339.17 309.18 345 308.5C350.83 307.82 357.5 307.08 365 306.5C372.5 305.92 385.83 305.25 390 305" stroke="#2ca02c" stroke-width="0.66" fill="none"/>
<path d="M267.1 297.5L438 297.5" stroke="#8c564b" stroke-width="0.6" fill="none"/>
<path d="M370 305L438 305" stroke="#e377c2" stroke-width="0.6" fill="none"/>
<line x1="352.6" y1="224" x2="352.6" y2="370.5" stroke="#555" stroke-width="0.85" stroke-dasharray="2 1"/>
<rect x="259.0" y="224.6" width="187" height="145.9" fill="none" stroke="#9d9d9d" stroke-width="1"/>
<line x1="257.4" y1="241.6" x2="259.0" y2="241.6" stroke="#9d9d9d" stroke-width="0.6"/>
<text x="256.7" y="243.6" text-anchor="end" class="t" textLength="5.8" lengthAdjust="spacingAndGlyphs">1.0</text>
<line x1="257.4" y1="273.45" x2="259.0" y2="273.45" stroke="#9d9d9d" stroke-width="0.6"/>
<text x="256.7" y="275.45" text-anchor="end" class="t" textLength="5.8" lengthAdjust="spacingAndGlyphs">0.5</text>
<line x1="257.4" y1="305.3" x2="259.0" y2="305.3" stroke="#9d9d9d" stroke-width="0.6"/>
<text x="256.7" y="307.3" text-anchor="end" class="t" textLength="5.8" lengthAdjust="spacingAndGlyphs">0.0</text>
<line x1="257.4" y1="337.15" x2="259.0" y2="337.15" stroke="#9d9d9d" stroke-width="0.6"/>
<text x="256.7" y="339.15" text-anchor="end" class="t" textLength="7.2" lengthAdjust="spacingAndGlyphs">-0.5</text>
<line x1="257.4" y1="369" x2="259.0" y2="369" stroke="#9d9d9d" stroke-width="0.6"/>
<text x="256.7" y="371" text-anchor="end" class="t" textLength="7.2" lengthAdjust="spacingAndGlyphs">-1.0</text>
<line x1="267.5" y1="370.5" x2="267.5" y2="372.1" stroke="#9d9d9d" stroke-width="0.6"/>
<text x="263.86" y="376.8" class="t" textLength="4.64" lengthAdjust="spacingAndGlyphs">10</text>
<text x="268.71" y="375.1" class="t" style="font-size:3.4px" textLength="2.63" lengthAdjust="spacingAndGlyphs">-3</text>
<line x1="284.56" y1="370.5" x2="284.56" y2="371.5" stroke="#9d9d9d" stroke-width="0.5"/>
<line x1="294.54" y1="370.5" x2="294.54" y2="371.5" stroke="#9d9d9d" stroke-width="0.5"/>
<line x1="301.62" y1="370.5" x2="301.62" y2="371.5" stroke="#9d9d9d" stroke-width="0.5"/>
<line x1="307.11" y1="370.5" x2="307.11" y2="371.5" stroke="#9d9d9d" stroke-width="0.5"/>
<line x1="311.6" y1="370.5" x2="311.6" y2="371.5" stroke="#9d9d9d" stroke-width="0.5"/>
<line x1="315.39" y1="370.5" x2="315.39" y2="371.5" stroke="#9d9d9d" stroke-width="0.5"/>
<line x1="318.68" y1="370.5" x2="318.68" y2="371.5" stroke="#9d9d9d" stroke-width="0.5"/>
<line x1="321.57" y1="370.5" x2="321.57" y2="371.5" stroke="#9d9d9d" stroke-width="0.5"/>
<line x1="324.17" y1="370.5" x2="324.17" y2="372.1" stroke="#9d9d9d" stroke-width="0.6"/>
<text x="320.53" y="376.8" class="t" textLength="4.64" lengthAdjust="spacingAndGlyphs">10</text>
<text x="325.37" y="375.1" class="t" style="font-size:3.4px" textLength="2.63" lengthAdjust="spacingAndGlyphs">-2</text>
<line x1="341.23" y1="370.5" x2="341.23" y2="371.5" stroke="#9d9d9d" stroke-width="0.5"/>
<line x1="351.2" y1="370.5" x2="351.2" y2="371.5" stroke="#9d9d9d" stroke-width="0.5"/>
<line x1="358.28" y1="370.5" x2="358.28" y2="371.5" stroke="#9d9d9d" stroke-width="0.5"/>
<line x1="363.77" y1="370.5" x2="363.77" y2="371.5" stroke="#9d9d9d" stroke-width="0.5"/>
<line x1="368.26" y1="370.5" x2="368.26" y2="371.5" stroke="#9d9d9d" stroke-width="0.5"/>
<line x1="372.06" y1="370.5" x2="372.06" y2="371.5" stroke="#9d9d9d" stroke-width="0.5"/>
<line x1="375.34" y1="370.5" x2="375.34" y2="371.5" stroke="#9d9d9d" stroke-width="0.5"/>
<line x1="378.24" y1="370.5" x2="378.24" y2="371.5" stroke="#9d9d9d" stroke-width="0.5"/>
<line x1="380.83" y1="370.5" x2="380.83" y2="372.1" stroke="#9d9d9d" stroke-width="0.6"/>
<text x="377.2" y="376.8" class="t" textLength="4.64" lengthAdjust="spacingAndGlyphs">10</text>
<text x="382.04" y="375.1" class="t" style="font-size:3.4px" textLength="2.63" lengthAdjust="spacingAndGlyphs">-1</text>
<line x1="397.89" y1="370.5" x2="397.89" y2="371.5" stroke="#9d9d9d" stroke-width="0.5"/>
<line x1="407.87" y1="370.5" x2="407.87" y2="371.5" stroke="#9d9d9d" stroke-width="0.5"/>
<line x1="414.95" y1="370.5" x2="414.95" y2="371.5" stroke="#9d9d9d" stroke-width="0.5"/>
<line x1="420.44" y1="370.5" x2="420.44" y2="371.5" stroke="#9d9d9d" stroke-width="0.5"/>
<line x1="424.93" y1="370.5" x2="424.93" y2="371.5" stroke="#9d9d9d" stroke-width="0.5"/>
<line x1="428.72" y1="370.5" x2="428.72" y2="371.5" stroke="#9d9d9d" stroke-width="0.5"/>
<line x1="432.01" y1="370.5" x2="432.01" y2="371.5" stroke="#9d9d9d" stroke-width="0.5"/>
<line x1="434.91" y1="370.5" x2="434.91" y2="371.5" stroke="#9d9d9d" stroke-width="0.5"/>
<line x1="437.5" y1="370.5" x2="437.5" y2="372.1" stroke="#9d9d9d" stroke-width="0.6"/>
<text x="434.36" y="376.8" class="t" textLength="4.64" lengthAdjust="spacingAndGlyphs">10</text>
<text x="439.2" y="375.1" class="t" style="font-size:3.4px" textLength="1.64" lengthAdjust="spacingAndGlyphs">0</text>
<text x="352.5" y="381.7" text-anchor="middle" class="t" textLength="36" lengthAdjust="spacingAndGlyphs">Lambda(λ=0.0596)</text>
<text transform="translate(246.7 297.55) rotate(-90)" text-anchor="middle" class="t" textLength="22.6" lengthAdjust="spacingAndGlyphs">Coefficients</text>
<text x="440.4" y="233.6" text-anchor="end" class="ti" textLength="34.6" lengthAdjust="spacingAndGlyphs">peri_8mm</text>
<text x="239.7" y="223.2" class="L">e</text>
<path d="M505.1 282.9C506.42 283.43 510.37 285.06 513.01 286.05C515.65 287.03 518.28 287.96 520.92 288.82C523.56 289.67 526.19 290.47 528.83 291.18C531.46 291.89 534.1 292.54 536.74 293.08C539.37 293.62 542.01 294.06 544.65 294.41C547.28 294.76 549.92 294.83 552.56 295.18C555.19 295.53 557.83 296.05 560.47 296.5C563.1 296.94 565.74 297.4 568.38 297.86C571.01 298.32 573.65 298.79 576.28 299.28C578.92 299.76 581.56 300.25 584.19 300.78C586.83 301.3 589.47 301.79 592.1 302.41C594.74 303.03 598.69 304.15 600.01 304.5" stroke="#1f77b4" stroke-width="0.55" fill="none"/>
<path d="M505.1 284.02C506.74 284.98 511.68 288.05 514.97 289.78C518.26 291.52 521.55 293.1 524.84 294.41C528.13 295.73 531.42 296.91 534.71 297.67C538 298.43 541.29 298.66 544.58 298.99C547.87 299.31 551.16 299.41 554.45 299.62C557.73 299.83 561.02 300.05 564.31 300.26C567.6 300.48 570.89 300.69 574.18 300.91C577.47 301.13 580.76 301.35 584.05 301.58C587.34 301.8 590.63 302.02 593.92 302.25C597.21 302.48 600.5 302.71 603.79 302.95C607.08 303.19 610.37 303.42 613.66 303.68C616.95 303.94 621.88 304.36 623.53 304.5" stroke="#ff7f0e" stroke-width="0.55" fill="none"/>
<path d="M505.1 285.64C506.68 286.32 511.41 288.48 514.57 289.7C517.72 290.92 520.88 292.04 524.03 292.97C527.19 293.9 530.34 294.73 533.5 295.28C536.65 295.84 539.81 296.01 542.96 296.31C546.12 296.62 549.27 296.84 552.43 297.11C555.58 297.38 558.74 297.65 561.89 297.93C565.05 298.21 568.2 298.5 571.36 298.79C574.51 299.08 577.67 299.38 580.82 299.69C583.98 300 587.13 300.31 590.29 300.64C593.44 300.97 596.6 301.3 599.75 301.67C602.91 302.04 606.06 302.36 609.22 302.84C612.37 303.31 617.11 304.22 618.68 304.5" stroke="#2ca02c" stroke-width="0.55" fill="none"/>
<path d="M505.1 285.62C506.74 286.94 511.66 291.13 514.94 293.5C518.22 295.88 521.49 298.06 524.77 299.89C528.05 301.71 531.33 303.39 534.61 304.47C537.89 305.56 541.17 306.11 544.45 306.4C547.72 306.69 551 306.28 554.28 306.22C557.56 306.16 560.84 306.1 564.12 306.04C567.4 305.98 570.68 305.92 573.96 305.85C577.23 305.79 580.51 305.72 583.79 305.65C587.07 305.58 590.35 305.51 593.63 305.43C596.91 305.36 600.19 305.28 603.46 305.2C606.74 305.11 610.02 305.04 613.3 304.92C616.58 304.81 621.5 304.57 623.14 304.5" stroke="#d62728" stroke-width="0.55" fill="none"/>
<path d="M505.1 286.61C506.45 286.84 510.51 287.58 513.21 288.02C515.91 288.46 518.62 288.87 521.32 289.25C524.02 289.63 526.73 289.98 529.43 290.29C532.13 290.6 534.84 290.88 537.54 291.11C540.25 291.33 542.95 291.42 545.65 291.64C548.36 291.86 551.06 292.06 553.76 292.42C556.47 292.79 559.17 293.36 561.87 293.85C564.58 294.34 567.28 294.84 569.98 295.37C572.69 295.89 575.39 296.43 578.09 297.01C580.8 297.59 583.5 298.17 586.2 298.83C588.91 299.5 591.61 300.04 594.31 300.99C597.02 301.93 601.07 303.91 602.43 304.5" stroke="#9467bd" stroke-width="0.55" fill="none"/>
<path d="M505.1 287.66C506.6 288.4 511.12 290.77 514.13 292.12C517.14 293.47 520.14 294.71 523.15 295.77C526.16 296.83 529.17 297.79 532.18 298.47C535.19 299.16 538.2 299.56 541.21 299.88C544.22 300.21 547.23 300.24 550.23 300.42C553.24 300.61 556.25 300.8 559.26 300.99C562.27 301.18 565.28 301.37 568.29 301.56C571.3 301.75 574.31 301.94 577.32 302.13C580.32 302.32 583.33 302.51 586.34 302.7C589.35 302.9 592.36 303.09 595.37 303.28C598.38 303.48 601.39 303.68 604.4 303.88C607.41 304.08 611.92 304.4 613.42 304.5" stroke="#8c564b" stroke-width="0.55" fill="none"/>
<path d="M505.1 287.75C506.46 288.78 510.55 292.06 513.27 293.92C515.99 295.78 518.72 297.49 521.44 298.92C524.16 300.35 526.89 301.65 529.61 302.5C532.33 303.36 535.06 303.76 537.78 304.02C540.5 304.29 543.23 304.06 545.95 304.07C548.67 304.09 551.4 304.11 554.12 304.12C556.85 304.14 559.57 304.16 562.29 304.17C565.02 304.19 567.74 304.21 570.46 304.23C573.19 304.25 575.91 304.27 578.63 304.28C581.36 304.3 584.08 304.32 586.8 304.35C589.53 304.37 592.25 304.39 594.97 304.41C597.7 304.44 601.78 304.49 603.14 304.5" stroke="#e377c2" stroke-width="0.55" fill="none"/>
<path d="M505.1 289.31C506.49 289.6 510.66 290.51 513.43 291.06C516.21 291.61 518.99 292.13 521.77 292.61C524.55 293.09 527.32 293.54 530.1 293.95C532.88 294.35 535.66 294.72 538.44 295.03C541.21 295.34 543.99 295.61 546.77 295.81C549.55 296.02 552.33 295.96 555.1 296.26C557.88 296.57 560.66 297.18 563.44 297.64C566.22 298.1 568.99 298.55 571.77 299.01C574.55 299.47 577.33 299.93 580.11 300.39C582.88 300.84 585.66 301.3 588.44 301.76C591.22 302.22 594 302.67 596.77 303.13C599.55 303.59 603.72 304.27 605.11 304.5" stroke="#7f7f7f" stroke-width="0.55" fill="none"/>
<path d="M505.1 290.44C506.52 291.56 510.78 295.12 513.62 297.15C516.46 299.19 519.29 301.07 522.13 302.68C524.97 304.28 527.81 305.74 530.65 306.8C533.49 307.86 536.33 308.72 539.17 309.03C542.01 309.34 544.84 308.8 547.68 308.66C550.52 308.52 553.36 308.35 556.2 308.18C559.04 308.02 561.88 307.85 564.72 307.68C567.56 307.51 570.39 307.34 573.23 307.17C576.07 306.99 578.91 306.81 581.75 306.62C584.59 306.43 587.43 306.24 590.27 306.03C593.11 305.83 595.94 305.64 598.78 305.38C601.62 305.13 605.88 304.65 607.3 304.5" stroke="#bcbd22" stroke-width="0.55" fill="none"/>
<path d="M505.1 291.66C506.7 292.45 511.51 294.96 514.72 296.38C517.92 297.8 521.13 299.1 524.33 300.18C527.54 301.27 530.75 302.26 533.95 302.89C537.16 303.53 540.36 303.8 543.57 303.99C546.77 304.18 549.98 304.04 553.19 304.06C556.39 304.08 559.6 304.1 562.8 304.13C566.01 304.15 569.21 304.17 572.42 304.19C575.63 304.22 578.83 304.24 582.04 304.26C585.24 304.28 588.45 304.3 591.65 304.33C594.86 304.35 598.07 304.37 601.27 304.39C604.48 304.41 607.68 304.43 610.89 304.45C614.09 304.47 618.9 304.49 620.51 304.5" stroke="#17becf" stroke-width="0.55" fill="none"/>
<path d="M505.1 291.16C506.49 291.38 510.66 292.07 513.43 292.48C516.21 292.89 518.99 293.28 521.77 293.63C524.55 293.98 527.33 294.31 530.1 294.6C532.88 294.88 535.66 295.14 538.44 295.35C541.22 295.56 544 295.65 546.77 295.83C549.55 296.02 552.33 296.19 555.11 296.48C557.89 296.76 560.67 297.16 563.44 297.52C566.22 297.88 569 298.24 571.78 298.61C574.56 298.99 577.34 299.37 580.11 299.78C582.89 300.18 585.67 300.59 588.45 301.04C591.23 301.48 594 301.88 596.78 302.46C599.56 303.04 603.73 304.16 605.12 304.5" stroke="#1f77b4" stroke-width="0.55" fill="none"/>
<path d="M505.1 292.48C506.52 292.45 510.77 292.36 513.6 292.31C516.43 292.26 519.27 292.21 522.1 292.17C524.94 292.14 527.77 292.06 530.6 292.08C533.44 292.1 536.27 292.03 539.1 292.29C541.94 292.55 544.77 293.2 547.6 293.66C550.44 294.12 553.27 294.58 556.11 295.05C558.94 295.52 561.77 295.99 564.61 296.47C567.44 296.95 570.27 297.43 573.11 297.92C575.94 298.41 578.78 298.9 581.61 299.41C584.44 299.91 587.28 300.42 590.11 300.95C592.94 301.48 595.78 302 598.61 302.59C601.44 303.18 605.69 304.18 607.11 304.5" stroke="#ff7f0e" stroke-width="0.55" fill="none"/>
<path d="M505.1 292.95C506.5 293.51 510.7 295.29 513.49 296.33C516.29 297.36 519.09 298.32 521.89 299.16C524.69 300.01 527.48 300.77 530.28 301.38C533.08 301.99 535.88 302.53 538.68 302.83C541.48 303.13 544.27 303.12 547.07 303.2C549.87 303.29 552.67 303.31 555.47 303.36C558.26 303.41 561.06 303.46 563.86 303.52C566.66 303.57 569.46 303.63 572.25 303.68C575.05 303.74 577.85 303.8 580.65 303.86C583.45 303.92 586.25 303.98 589.04 304.04C591.84 304.1 594.64 304.16 597.44 304.24C600.24 304.32 604.43 304.46 605.83 304.5" stroke="#2ca02c" stroke-width="0.55" fill="none"/>
<path d="M505.1 295.29C506.74 295.56 511.65 296.4 514.93 296.91C518.2 297.41 521.48 297.88 524.75 298.3C528.03 298.72 531.3 299.1 534.58 299.43C537.86 299.76 541.13 300.05 544.41 300.26C547.68 300.47 550.96 300.51 554.23 300.67C557.51 300.83 560.78 301.05 564.06 301.23C567.34 301.42 570.61 301.61 573.89 301.79C577.16 301.98 580.44 302.17 583.71 302.35C586.99 302.54 590.26 302.72 593.54 302.9C596.81 303.09 600.09 303.27 603.37 303.45C606.64 303.63 609.92 303.81 613.19 303.99C616.47 304.16 621.38 304.41 623.02 304.5" stroke="#d62728" stroke-width="0.55" fill="none"/>
<path d="M505.1 295.95C506.48 295.85 510.62 295.55 513.37 295.37C516.13 295.19 518.89 295.02 521.65 294.86C524.41 294.7 527.16 294.55 529.92 294.42C532.68 294.29 535.44 294.17 538.2 294.07C540.95 293.97 543.71 293.82 546.47 293.83C549.23 293.83 551.99 293.78 554.74 294.12C557.5 294.46 560.26 295.28 563.02 295.86C565.78 296.45 568.53 297.03 571.29 297.61C574.05 298.18 576.81 298.76 579.57 299.34C582.32 299.92 585.08 300.5 587.84 301.07C590.6 301.65 593.36 302.23 596.11 302.8C598.87 303.37 603.01 304.22 604.39 304.5" stroke="#9467bd" stroke-width="0.55" fill="none"/>
<path d="M505.1 295.55C506.5 295.5 510.7 295.34 513.51 295.25C516.31 295.16 519.11 295.07 521.91 294.99C524.72 294.91 527.52 294.84 530.32 294.77C533.12 294.71 535.93 294.65 538.73 294.61C541.53 294.56 544.33 294.35 547.14 294.5C549.94 294.65 552.74 295.06 555.54 295.49C558.35 295.93 561.15 296.56 563.95 297.09C566.75 297.62 569.56 298.14 572.36 298.66C575.16 299.18 577.96 299.7 580.77 300.21C583.57 300.72 586.37 301.23 589.17 301.72C591.98 302.22 594.78 302.71 597.58 303.18C600.38 303.64 604.59 304.28 605.99 304.5" stroke="#8c564b" stroke-width="0.55" fill="none"/>
<path d="M505.1 298.32C506.48 298.86 510.63 300.53 513.4 301.54C516.17 302.54 518.94 303.49 521.7 304.36C524.47 305.23 527.24 306.04 530 306.76C532.77 307.48 535.54 308.14 538.31 308.68C541.07 309.22 543.84 309.76 546.61 310.01C549.37 310.27 552.14 310.32 554.91 310.21C557.68 310.1 560.44 309.64 563.21 309.34C565.98 309.05 568.74 308.76 571.51 308.46C574.28 308.16 577.05 307.86 579.81 307.56C582.58 307.25 585.35 306.94 588.12 306.62C590.88 306.3 593.65 305.99 596.42 305.63C599.18 305.28 603.33 304.69 604.72 304.5" stroke="#e377c2" stroke-width="0.55" fill="none"/>
<path d="M505.1 299.19C506.56 298.76 510.93 297.38 513.85 296.61C516.77 295.83 519.69 295.13 522.6 294.55C525.52 293.97 528.44 293.36 531.35 293.13C534.27 292.9 537.19 292.89 540.1 293.15C543.02 293.41 545.94 294.17 548.86 294.68C551.77 295.18 554.69 295.69 557.61 296.19C560.52 296.69 563.44 297.18 566.36 297.67C569.28 298.17 572.19 298.65 575.11 299.14C578.03 299.62 580.94 300.1 583.86 300.57C586.78 301.04 589.7 301.51 592.61 301.97C595.53 302.42 598.45 302.88 601.36 303.3C604.28 303.72 608.66 304.3 610.11 304.5" stroke="#7f7f7f" stroke-width="0.55" fill="none"/>
<path d="M505.1 299.46C506.5 299.8 510.69 300.89 513.49 301.51C516.28 302.14 519.08 302.71 521.87 303.21C524.67 303.71 527.46 304.16 530.26 304.5C533.05 304.84 535.85 305.13 538.64 305.25C541.44 305.37 544.23 305.24 547.03 305.22C549.82 305.19 552.62 305.15 555.41 305.11C558.21 305.08 561 305.04 563.8 305.01C566.59 304.97 569.39 304.94 572.18 304.91C574.98 304.87 577.77 304.84 580.57 304.8C583.36 304.77 586.16 304.74 588.95 304.7C591.75 304.67 594.54 304.63 597.34 304.6C600.13 304.57 604.32 304.52 605.72 304.5" stroke="#bcbd22" stroke-width="0.55" fill="none"/>
<path d="M505.1 300.28C506.62 300.06 511.17 299.36 514.2 298.95C517.24 298.55 520.27 298.18 523.3 297.87C526.34 297.55 529.37 297.27 532.4 297.07C535.44 296.87 538.47 296.58 541.51 296.66C544.54 296.75 547.57 297.28 550.61 297.59C553.64 297.9 556.67 298.22 559.71 298.54C562.74 298.86 565.78 299.18 568.81 299.5C571.84 299.82 574.88 300.14 577.91 300.46C580.94 300.78 583.98 301.11 587.01 301.44C590.05 301.76 593.08 302.09 596.11 302.42C599.15 302.76 602.18 303.09 605.21 303.43C608.25 303.78 612.8 304.32 614.32 304.5" stroke="#17becf" stroke-width="0.55" fill="none"/>
<path d="M505.1 300.26C506.44 300.01 510.46 299.22 513.15 298.76C515.83 298.29 518.51 297.85 521.19 297.46C523.87 297.07 526.56 296.71 529.24 296.41C531.92 296.11 534.6 295.82 537.28 295.65C539.97 295.47 542.65 295.2 545.33 295.37C548.01 295.55 550.69 296.26 553.38 296.71C556.06 297.15 558.74 297.6 561.42 298.04C564.1 298.48 566.79 298.92 569.47 299.36C572.15 299.8 574.83 300.24 577.51 300.67C580.19 301.11 582.88 301.55 585.56 301.98C588.24 302.41 590.92 302.84 593.6 303.26C596.29 303.68 600.31 304.29 601.65 304.5" stroke="#1f77b4" stroke-width="0.55" fill="none"/>
<path d="M505.1 300.88C506.62 300.68 511.19 300.07 514.24 299.7C517.28 299.34 520.33 298.99 523.37 298.67C526.42 298.35 529.47 298.05 532.51 297.79C535.56 297.52 538.6 297.28 541.65 297.08C544.69 296.87 547.74 296.66 550.78 296.57C553.83 296.49 556.88 296.41 559.92 296.57C562.97 296.73 566.01 297.19 569.06 297.52C572.1 297.85 575.15 298.18 578.2 298.53C581.24 298.88 584.29 299.24 587.33 299.62C590.38 300.01 593.42 300.39 596.47 300.83C599.52 301.27 602.56 301.63 605.61 302.25C608.65 302.86 613.22 304.12 614.74 304.5" stroke="#ff7f0e" stroke-width="0.55" fill="none"/>
<path d="M505.1 302.8C506.42 302.45 510.39 301.33 513.04 300.67C515.69 300.02 518.34 299.41 520.98 298.87C523.63 298.33 526.28 297.84 528.92 297.44C531.57 297.03 534.22 296.62 536.87 296.45C539.51 296.28 542.16 296.28 544.81 296.39C547.45 296.51 550.1 296.88 552.75 297.14C555.4 297.4 558.04 297.66 560.69 297.94C563.34 298.22 565.98 298.5 568.63 298.8C571.28 299.1 573.93 299.41 576.57 299.75C579.22 300.08 581.87 300.42 584.51 300.82C587.16 301.21 589.81 301.51 592.46 302.12C595.1 302.74 599.07 304.1 600.4 304.5" stroke="#2ca02c" stroke-width="0.55" fill="none"/>
<path d="M505.1 302.76C506.48 302.53 510.61 301.82 513.36 301.4C516.11 300.98 518.87 300.58 521.62 300.23C524.38 299.87 527.13 299.55 529.88 299.27C532.64 299 535.39 298.75 538.14 298.58C540.9 298.41 543.65 298.21 546.4 298.26C549.16 298.31 551.91 298.66 554.67 298.87C557.42 299.08 560.17 299.29 562.93 299.51C565.68 299.73 568.43 299.96 571.19 300.2C573.94 300.44 576.69 300.69 579.45 300.95C582.2 301.22 584.95 301.48 587.71 301.79C590.46 302.1 593.22 302.34 595.97 302.79C598.72 303.24 602.85 304.22 604.23 304.5" stroke="#d62728" stroke-width="0.55" fill="none"/>
<path d="M505.1 303.92C506.54 304.14 510.86 304.84 513.73 305.27C516.61 305.69 519.49 306.09 522.37 306.46C525.24 306.83 528.12 307.18 531 307.49C533.88 307.8 536.75 308.08 539.63 308.32C542.51 308.56 545.39 308.78 548.26 308.93C551.14 309.07 554.02 309.26 556.9 309.18C559.77 309.1 562.65 308.69 565.53 308.45C568.41 308.2 571.28 307.96 574.16 307.71C577.04 307.46 579.92 307.21 582.79 306.96C585.67 306.7 588.55 306.45 591.43 306.19C594.3 305.92 597.18 305.67 600.06 305.39C602.94 305.1 607.25 304.65 608.69 304.5" stroke="#9467bd" stroke-width="0.55" fill="none"/>
<path d="M505.1 304.92C506.65 304.79 511.29 304.36 514.39 304.12C517.49 303.87 520.58 303.65 523.68 303.46C526.78 303.28 529.88 303.1 532.97 302.99C536.07 302.88 539.17 302.79 542.26 302.78C545.36 302.77 548.46 302.87 551.55 302.92C554.65 302.96 557.75 303.01 560.84 303.06C563.94 303.11 567.04 303.16 570.14 303.21C573.23 303.27 576.33 303.32 579.43 303.38C582.52 303.44 585.62 303.5 588.72 303.56C591.81 303.63 594.91 303.69 598.01 303.77C601.1 303.85 604.2 303.9 607.3 304.02C610.4 304.15 615.04 304.42 616.59 304.5" stroke="#8c564b" stroke-width="0.55" fill="none"/>
<path d="M505.1 305.39C506.42 305.59 510.4 306.22 513.04 306.6C515.69 306.97 518.34 307.32 520.99 307.64C523.64 307.96 526.28 308.26 528.93 308.51C531.58 308.77 534.23 309 536.88 309.18C539.52 309.35 542.17 309.6 544.82 309.58C547.47 309.55 550.12 309.25 552.76 309.03C555.41 308.8 558.06 308.48 560.71 308.22C563.36 307.95 566 307.68 568.65 307.42C571.3 307.16 573.95 306.9 576.6 306.64C579.25 306.38 581.89 306.13 584.54 305.88C587.19 305.63 589.84 305.38 592.49 305.15C595.13 304.92 599.11 304.61 600.43 304.5" stroke="#e377c2" stroke-width="0.55" fill="none"/>
<path d="M505.1 307.16C506.43 306.99 510.4 306.44 513.05 306.12C515.7 305.8 518.35 305.5 521 305.24C523.65 304.97 526.3 304.73 528.95 304.53C531.6 304.33 534.25 304.14 536.9 304.03C539.55 303.93 542.2 303.89 544.85 303.88C547.5 303.87 550.15 303.94 552.81 303.97C555.46 303.99 558.11 304.02 560.76 304.05C563.41 304.08 566.06 304.11 568.71 304.14C571.36 304.17 574.01 304.2 576.66 304.23C579.31 304.26 581.96 304.29 584.61 304.32C587.26 304.34 589.91 304.37 592.56 304.41C595.21 304.44 599.19 304.48 600.51 304.5" stroke="#7f7f7f" stroke-width="0.55" fill="none"/>
<path d="M505.1 308.01C506.52 308.23 510.8 308.95 513.65 309.36C516.49 309.77 519.34 310.14 522.19 310.44C525.04 310.75 527.89 311.06 530.74 311.21C533.59 311.35 536.44 311.43 539.28 311.32C542.13 311.22 544.98 310.83 547.83 310.57C550.68 310.32 553.53 310.07 556.38 309.81C559.23 309.55 562.07 309.29 564.92 309.03C567.77 308.76 570.62 308.5 573.47 308.23C576.32 307.95 579.17 307.68 582.02 307.4C584.86 307.12 587.71 306.83 590.56 306.53C593.41 306.24 596.26 305.95 599.11 305.61C601.96 305.27 606.23 304.69 607.65 304.5" stroke="#bcbd22" stroke-width="0.55" fill="none"/>
<path d="M505.1 309.71C506.66 309.7 511.35 309.65 514.48 309.62C517.61 309.6 520.74 309.57 523.86 309.55C526.99 309.53 530.12 309.51 533.25 309.49C536.37 309.47 539.5 309.45 542.63 309.44C545.76 309.43 548.88 309.49 552.01 309.41C555.14 309.33 558.27 309.15 561.39 308.96C564.52 308.77 567.65 308.49 570.78 308.25C573.9 308.01 577.03 307.77 580.16 307.53C583.29 307.29 586.41 307.05 589.54 306.81C592.67 306.56 595.8 306.32 598.92 306.07C602.05 305.82 605.18 305.57 608.31 305.31C611.43 305.05 616.12 304.64 617.69 304.5" stroke="#17becf" stroke-width="0.55" fill="none"/>
<path d="M505.1 309.96C506.68 309.95 511.43 309.9 514.59 309.88C517.76 309.85 520.92 309.83 524.09 309.81C527.25 309.79 530.42 309.77 533.58 309.76C536.75 309.74 539.91 309.79 543.08 309.72C546.24 309.65 549.41 309.52 552.57 309.35C555.74 309.18 558.9 308.92 562.07 308.7C565.23 308.48 568.4 308.26 571.56 308.03C574.73 307.81 577.89 307.59 581.06 307.36C584.22 307.14 587.39 306.91 590.55 306.68C593.72 306.45 596.88 306.22 600.05 305.99C603.21 305.76 606.38 305.52 609.54 305.28C612.71 305.03 617.46 304.63 619.04 304.5" stroke="#1f77b4" stroke-width="0.55" fill="none"/>
<path d="M505.1 311.1C506.72 310.98 511.57 310.58 514.81 310.35C518.05 310.12 521.28 309.91 524.52 309.72C527.76 309.53 530.99 309.36 534.23 309.22C537.47 309.08 540.7 308.99 543.94 308.88C547.18 308.77 550.41 308.71 553.65 308.56C556.89 308.41 560.12 308.18 563.36 307.98C566.6 307.79 569.83 307.6 573.07 307.41C576.31 307.21 579.54 307.02 582.78 306.83C586.02 306.63 589.25 306.44 592.49 306.25C595.73 306.05 598.96 305.86 602.2 305.67C605.44 305.47 608.67 305.28 611.91 305.09C615.15 304.89 620 304.6 621.62 304.5" stroke="#ff7f0e" stroke-width="0.55" fill="none"/>
<path d="M505.1 311.72C506.71 311.27 511.52 309.85 514.74 309.01C517.95 308.17 521.16 307.38 524.37 306.67C527.58 305.96 530.79 305.31 534.01 304.75C537.22 304.19 540.43 303.69 543.64 303.32C546.85 302.95 550.06 302.64 553.28 302.55C556.49 302.45 559.7 302.66 562.91 302.74C566.12 302.81 569.34 302.89 572.55 302.97C575.76 303.05 578.97 303.13 582.18 303.22C585.39 303.3 588.61 303.39 591.82 303.48C595.03 303.57 598.24 303.66 601.45 303.76C604.66 303.86 607.88 303.95 611.09 304.07C614.3 304.2 619.12 304.43 620.72 304.5" stroke="#2ca02c" stroke-width="0.55" fill="none"/>
<path d="M505.1 312.94C506.61 312.32 511.15 310.33 514.17 309.2C517.2 308.08 520.22 307.05 523.25 306.2C526.27 305.34 529.3 304.56 532.32 304.07C535.35 303.59 538.37 303.42 541.39 303.31C544.42 303.21 547.44 303.41 550.47 303.45C553.49 303.5 556.52 303.54 559.54 303.59C562.57 303.64 565.59 303.68 568.62 303.73C571.64 303.78 574.66 303.83 577.69 303.87C580.71 303.92 583.74 303.97 586.76 304.02C589.79 304.07 592.81 304.12 595.84 304.17C598.86 304.22 601.89 304.27 604.91 304.32C607.94 304.38 612.47 304.47 613.98 304.5" stroke="#d62728" stroke-width="0.55" fill="none"/>
<path d="M505.1 313.43C506.75 313.22 511.7 312.56 514.99 312.17C518.29 311.78 521.59 311.41 524.89 311.08C528.19 310.75 531.49 310.44 534.78 310.17C538.08 309.9 541.38 309.66 544.68 309.47C547.98 309.28 551.28 309.17 554.57 309.03C557.87 308.89 561.17 308.78 564.47 308.62C567.77 308.46 571.07 308.26 574.36 308.07C577.66 307.88 580.96 307.69 584.26 307.49C587.56 307.29 590.86 307.09 594.15 306.88C597.45 306.67 600.75 306.45 604.05 306.22C607.35 305.99 610.65 305.78 613.94 305.49C617.24 305.21 622.19 304.67 623.84 304.5" stroke="#9467bd" stroke-width="0.55" fill="none"/>
<path d="M505.1 313.97C506.66 313.36 511.35 311.47 514.48 310.35C517.6 309.24 520.73 308.21 523.86 307.29C526.98 306.37 530.11 305.54 533.24 304.86C536.36 304.17 539.49 303.54 542.61 303.19C545.74 302.85 548.87 302.81 551.99 302.79C555.12 302.76 558.24 302.95 561.37 303.03C564.5 303.12 567.62 303.2 570.75 303.28C573.88 303.37 577 303.45 580.13 303.53C583.25 303.61 586.38 303.7 589.51 303.78C592.63 303.86 595.76 303.94 598.88 304.02C602.01 304.1 605.14 304.18 608.26 304.26C611.39 304.34 616.08 304.46 617.64 304.5" stroke="#8c564b" stroke-width="0.55" fill="none"/>
<path d="M505.1 316.3C506.45 315.64 510.48 313.5 513.18 312.3C515.87 311.1 518.56 310 521.25 309.11C523.94 308.21 526.64 307.4 529.33 306.92C532.02 306.43 534.71 306.34 537.4 306.19C540.1 306.04 542.79 306.06 545.48 306C548.17 305.94 550.86 305.87 553.56 305.81C556.25 305.74 558.94 305.67 561.63 305.61C564.32 305.54 567.02 305.47 569.71 305.41C572.4 305.34 575.09 305.27 577.78 305.2C580.48 305.13 583.17 305.06 585.86 304.99C588.55 304.91 591.24 304.84 593.93 304.76C596.63 304.68 600.66 304.54 602.01 304.5" stroke="#e377c2" stroke-width="0.55" fill="none"/>
<path d="M505.1 317.2C506.58 316.16 511.01 312.9 513.97 310.95C516.93 309.01 519.88 307.19 522.84 305.53C525.8 303.88 528.75 302.35 531.71 301.03C534.67 299.71 537.62 298.51 540.58 297.59C543.54 296.67 546.49 295.76 549.45 295.53C552.41 295.29 555.36 295.87 558.32 296.18C561.28 296.49 564.23 296.97 567.19 297.37C570.15 297.78 573.11 298.18 576.06 298.6C579.02 299.02 581.98 299.44 584.93 299.88C587.89 300.32 590.85 300.76 593.8 301.22C596.76 301.69 599.72 302.14 602.67 302.68C605.63 303.23 610.06 304.2 611.54 304.5" stroke="#7f7f7f" stroke-width="0.55" fill="none"/>
<path d="M505.1 317.78C506.62 317.32 511.19 315.84 514.24 314.99C517.28 314.13 520.33 313.35 523.37 312.67C526.42 311.99 529.47 311.38 532.51 310.92C535.56 310.45 538.6 310.13 541.65 309.9C544.7 309.66 547.74 309.64 550.79 309.5C553.83 309.36 556.88 309.21 559.92 309.05C562.97 308.9 566.02 308.74 569.06 308.58C572.11 308.41 575.15 308.24 578.2 308.06C581.24 307.88 584.29 307.69 587.34 307.49C590.38 307.29 593.43 307.08 596.47 306.84C599.52 306.6 602.56 306.43 605.61 306.04C608.66 305.65 613.23 304.76 614.75 304.5" stroke="#bcbd22" stroke-width="0.55" fill="none"/>
<path d="M505.1 318.42C506.52 317.59 510.77 314.97 513.61 313.47C516.45 311.97 519.28 310.59 522.12 309.41C524.96 308.22 527.79 307.16 530.63 306.38C533.47 305.61 536.3 305.05 539.14 304.77C541.98 304.49 544.82 304.73 547.65 304.72C550.49 304.71 553.33 304.71 556.16 304.7C559 304.69 561.84 304.68 564.67 304.68C567.51 304.67 570.35 304.66 573.18 304.65C576.02 304.64 578.86 304.63 581.69 304.62C584.53 304.61 587.37 304.6 590.2 304.59C593.04 304.58 595.88 304.57 598.71 304.56C601.55 304.54 605.81 304.51 607.22 304.5" stroke="#17becf" stroke-width="0.55" fill="none"/>
<path d="M505.1 317.7C506.72 316.99 511.58 314.74 514.82 313.43C518.06 312.11 521.3 310.89 524.54 309.8C527.78 308.72 531.02 307.73 534.26 306.92C537.5 306.11 540.74 305.37 543.98 304.95C547.22 304.52 550.46 304.46 553.7 304.37C556.94 304.27 560.18 304.38 563.42 304.39C566.66 304.39 569.9 304.4 573.14 304.41C576.38 304.41 579.62 304.42 582.86 304.43C586.1 304.43 589.34 304.44 592.58 304.44C595.82 304.45 599.06 304.46 602.3 304.46C605.54 304.47 608.78 304.48 612.02 304.48C615.26 304.49 620.12 304.5 621.74 304.5" stroke="#1f77b4" stroke-width="0.55" fill="none"/>
<path d="M505.1 318.9C506.53 318.03 510.81 315.26 513.66 313.67C516.52 312.09 519.37 310.63 522.22 309.38C525.08 308.14 527.93 307.01 530.79 306.2C533.64 305.38 536.49 304.79 539.35 304.51C542.2 304.22 545.06 304.49 547.91 304.49C550.77 304.48 553.62 304.49 556.47 304.49C559.33 304.49 562.18 304.49 565.04 304.49C567.89 304.49 570.74 304.49 573.6 304.49C576.45 304.49 579.31 304.49 582.16 304.49C585.01 304.49 587.87 304.49 590.72 304.49C593.58 304.5 596.43 304.5 599.28 304.5C602.14 304.5 606.42 304.5 607.85 304.5" stroke="#ff7f0e" stroke-width="0.55" fill="none"/>
<path d="M505.1 320.33C506.69 319.86 511.45 318.39 514.62 317.51C517.79 316.63 520.97 315.8 524.14 315.03C527.31 314.27 530.49 313.56 533.66 312.93C536.83 312.3 540.01 311.72 543.18 311.25C546.35 310.77 549.53 310.37 552.7 310.08C555.87 309.79 559.05 309.72 562.22 309.51C565.4 309.3 568.57 309.07 571.74 308.84C574.92 308.61 578.09 308.37 581.26 308.13C584.44 307.89 587.61 307.65 590.78 307.39C593.96 307.14 597.13 306.88 600.3 306.6C603.48 306.32 606.65 306.06 609.82 305.71C613 305.36 617.76 304.7 619.34 304.5" stroke="#2ca02c" stroke-width="0.55" fill="none"/>
<path d="M505.1 321.31C506.61 319.8 511.15 314.98 514.17 312.25C517.2 309.51 520.22 307 523.25 304.88C526.27 302.76 529.3 300.82 532.32 299.54C535.35 298.26 538.37 297.46 541.4 297.2C544.42 296.94 547.45 297.72 550.47 297.98C553.5 298.25 556.52 298.51 559.55 298.78C562.57 299.05 565.6 299.32 568.62 299.6C571.65 299.88 574.67 300.16 577.7 300.45C580.72 300.73 583.75 301.02 586.77 301.32C589.8 301.62 592.82 301.93 595.85 302.25C598.87 302.57 601.9 302.87 604.92 303.25C607.94 303.62 612.48 304.29 613.99 304.5" stroke="#d62728" stroke-width="0.55" fill="none"/>
<path d="M505.1 323.76C506.7 323.03 511.49 320.74 514.68 319.38C517.88 318.01 521.07 316.73 524.27 315.57C527.46 314.4 530.65 313.33 533.85 312.39C537.04 311.46 540.24 310.61 543.43 309.96C546.62 309.31 549.82 308.83 553.01 308.48C556.21 308.14 559.4 308.1 562.6 307.9C565.79 307.7 568.98 307.49 572.18 307.29C575.37 307.09 578.57 306.9 581.76 306.7C584.95 306.5 588.15 306.31 591.34 306.11C594.54 305.92 597.73 305.73 600.93 305.54C604.12 305.36 607.31 305.17 610.51 305C613.7 304.82 618.49 304.58 620.09 304.5" stroke="#9467bd" stroke-width="0.55" fill="none"/>
<path d="M505.1 324.51C506.51 322.89 510.74 317.78 513.56 314.79C516.38 311.79 519.2 309.01 522.02 306.54C524.84 304.07 527.67 301.82 530.49 299.97C533.31 298.12 536.13 296.38 538.95 295.45C541.77 294.52 544.59 294.38 547.41 294.39C550.23 294.39 553.05 295.11 555.87 295.48C558.69 295.85 561.51 296.22 564.33 296.61C567.15 297 569.97 297.4 572.8 297.81C575.62 298.22 578.44 298.64 581.26 299.09C584.08 299.53 586.9 299.99 589.72 300.49C592.54 300.99 595.36 301.42 598.18 302.09C601 302.76 605.23 304.1 606.64 304.5" stroke="#8c564b" stroke-width="0.55" fill="none"/>
<path d="M505.1 326.55C506.49 325.21 510.66 321 513.44 318.49C516.22 315.99 518.99 313.65 521.77 311.53C524.55 309.42 527.33 307.48 530.11 305.81C532.89 304.15 535.67 302.64 538.45 301.55C541.22 300.45 544 299.54 546.78 299.25C549.56 298.95 552.34 299.58 555.12 299.79C557.9 299.99 560.68 300.23 563.46 300.46C566.23 300.69 569.01 300.92 571.79 301.16C574.57 301.39 577.35 301.63 580.13 301.88C582.91 302.13 585.69 302.38 588.46 302.64C591.24 302.91 594.02 303.16 596.8 303.47C599.58 303.78 603.75 304.33 605.14 304.5" stroke="#e377c2" stroke-width="0.55" fill="none"/>
<path d="M505.1 327.15C506.52 326.34 510.79 323.83 513.64 322.3C516.49 320.78 519.33 319.34 522.18 318.01C525.02 316.68 527.87 315.44 530.72 314.33C533.56 313.21 536.41 312.19 539.26 311.33C542.1 310.46 544.95 309.68 547.8 309.14C550.64 308.6 553.49 308.36 556.33 308.1C559.18 307.84 562.03 307.77 564.87 307.6C567.72 307.43 570.57 307.25 573.41 307.08C576.26 306.9 579.11 306.72 581.95 306.53C584.8 306.34 587.64 306.15 590.49 305.95C593.34 305.75 596.18 305.56 599.03 305.32C601.88 305.08 606.15 304.64 607.57 304.5" stroke="#7f7f7f" stroke-width="0.55" fill="none"/>
<path d="M505.1 329.4C506.44 327.71 510.47 322.42 513.16 319.24C515.84 316.05 518.53 313.05 521.22 310.3C523.9 307.54 526.59 304.98 529.27 302.71C531.96 300.44 534.64 298.37 537.33 296.66C540.02 294.96 542.7 293.33 545.39 292.48C548.07 291.63 550.76 291.49 553.45 291.57C556.13 291.64 558.82 292.47 561.5 292.95C564.19 293.43 566.88 293.92 569.56 294.44C572.25 294.97 574.93 295.5 577.62 296.09C580.31 296.67 582.99 297.27 585.68 297.96C588.36 298.65 591.05 299.16 593.73 300.25C596.42 301.34 600.45 303.79 601.79 304.5" stroke="#bcbd22" stroke-width="0.55" fill="none"/>
<path d="M505.1 330.56C506.65 328.95 511.32 323.89 514.43 320.95C517.53 318.01 520.64 315.3 523.75 312.94C526.86 310.57 529.97 308.43 533.08 306.77C536.19 305.11 539.29 303.65 542.4 302.96C545.51 302.28 548.62 302.66 551.73 302.65C554.84 302.65 557.95 302.83 561.05 302.92C564.16 303.01 567.27 303.09 570.38 303.18C573.49 303.27 576.6 303.36 579.7 303.44C582.81 303.53 585.92 303.62 589.03 303.71C592.14 303.79 595.25 303.88 598.36 303.97C601.46 304.06 604.57 304.15 607.68 304.23C610.79 304.32 615.45 304.46 617.01 304.5" stroke="#17becf" stroke-width="0.55" fill="none"/>
<path d="M505 230.6C505.93 231.2 508.45 231.9 510.6 234.2C512.75 236.5 515.47 241.23 517.9 244.4C520.33 247.57 522.52 250.27 525.2 253.2C527.88 256.13 530.83 258.83 534 262C537.17 265.17 540.8 268.55 544.2 272.2C547.6 275.85 551.73 280.73 554.4 283.9C557.07 287.07 558.25 289.02 560.2 291.2C562.15 293.38 562.8 295.45 566.1 297C569.4 298.55 574.35 299.5 580 300.5C585.65 301.5 593.67 302.33 600 303C606.33 303.67 615 304.25 618 304.5" stroke="#7f7f7f" stroke-width="0.66" fill="none"/>
<path d="M505 236.8C505.93 238.32 508.45 241.7 510.6 245.9C512.75 250.1 515.47 258.35 517.9 262C520.33 265.65 522.77 265.62 525.2 267.8C527.63 269.98 530.07 272.42 532.5 275.1C534.93 277.78 537.62 281.22 539.8 283.9C541.98 286.58 543.07 289.02 545.6 291.2C548.13 293.38 550.1 295.45 555 297C559.9 298.55 567.5 299.5 575 300.5C582.5 301.5 593.17 302.33 600 303C606.83 303.67 613.33 304.25 616 304.5" stroke="#8c564b" stroke-width="0.66" fill="none"/>
<path d="M505 236.8C505.93 238.32 508.93 242.92 510.6 245.9C512.27 248.88 513.53 251.9 515 254.7C516.47 257.5 517.7 260.52 519.4 262.7C521.1 264.88 522.77 266.22 525.2 267.8C527.63 269.38 531.57 270.87 534 272.2C536.43 273.53 537.87 274.35 539.8 275.8C541.73 277.25 543.65 278.83 545.6 280.9C547.55 282.97 548.82 286.37 551.5 288.2C554.18 290.03 557.57 291.17 561.7 291.9C565.83 292.63 571.68 292.23 576.3 292.6C580.92 292.97 586.35 293.73 589.4 294.1C592.45 294.47 591.78 294.2 594.6 294.8C597.42 295.4 602.65 296.6 606.3 297.7C609.95 298.8 613.83 300.27 616.5 301.4C619.17 302.53 621.33 303.98 622.3 304.5" stroke="#ff7f0e" stroke-width="0.66" fill="none"/>
<path d="M505 240.1C506.42 241.07 510.62 243.47 513.5 245.9C516.38 248.33 518.88 251.53 522.3 254.7C525.72 257.87 530.35 261.75 534 264.9C537.65 268.05 541.28 270.68 544.2 273.6C547.12 276.52 549.37 279.67 551.5 282.4C553.63 285.13 554.75 287.73 557 290C559.25 292.27 561.17 294.33 565 296C568.83 297.67 574.17 298.92 580 300C585.83 301.08 593.5 301.75 600 302.5C606.5 303.25 615.83 304.17 619 304.5" stroke="#e377c2" stroke-width="0.66" fill="none"/>
<path d="M505 259C506.67 259.98 511.63 262.95 515 264.9C518.37 266.85 521.55 268.27 525.2 270.7C528.85 273.13 533.27 276.62 536.9 279.5C540.53 282.38 543.15 285.42 547 288C550.85 290.58 554.5 293 560 295C565.5 297 573.33 298.67 580 300C586.67 301.33 594.17 302.25 600 303C605.83 303.75 612.5 304.25 615 304.5" stroke="#e377c2" stroke-width="0.66" fill="none"/>
<path d="M505 259.8C505.93 261.13 508.7 265 510.6 267.8C512.5 270.6 514.45 273.68 516.4 276.6C518.35 279.52 520.03 282.57 522.3 285.3C524.57 288.03 526.22 290.72 530 293C533.78 295.28 538.33 297.5 545 299C551.67 300.5 560.83 301.08 570 302C579.17 302.92 595 304.08 600 304.5" stroke="#bcbd22" stroke-width="0.66" fill="none"/>
<path d="M505 271.4C507.15 272.27 513.32 274.77 517.9 276.6C522.48 278.43 527.63 280.47 532.5 282.4C537.37 284.33 542.23 286.5 547.1 288.2C551.97 289.9 556.22 291.13 561.7 292.6C567.18 294.07 573.62 295.6 580 297C586.38 298.4 593.83 299.75 600 301C606.17 302.25 614.17 303.92 617 304.5" stroke="#17becf" stroke-width="0.66" fill="none"/>
<path d="M505 275.8C505.93 276.42 508.45 278.15 510.6 279.5C512.75 280.85 515.17 282.15 517.9 283.9C520.63 285.65 523.32 287.98 527 290C530.68 292.02 534.5 294.25 540 296C545.5 297.75 551.67 299.33 560 300.5C568.33 301.67 581.33 302.33 590 303C598.67 303.67 608.33 304.25 612 304.5" stroke="#2ca02c" stroke-width="0.66" fill="none"/>
<path d="M505 279.5C507.15 279.37 514.53 278.58 517.9 278.7C521.27 278.82 522.03 279.33 525.2 280.2C528.37 281.07 532.52 282.32 536.9 283.9C541.28 285.48 545.98 288.02 551.5 289.7C557.02 291.38 563.58 292.7 570 294C576.42 295.3 583.47 296.75 590 297.5C596.53 298.25 604.3 298.7 609.2 298.5C614.1 298.3 616.72 296.43 619.4 296.3C622.08 296.17 623.35 296.85 625.3 297.7C627.25 298.55 629.4 300.27 631.1 301.4C632.8 302.53 634.77 303.98 635.5 304.5" stroke="#9467bd" stroke-width="0.66" fill="none"/>
<path d="M505 360C506.42 358.8 510.13 355.95 513.5 352.8C516.87 349.65 521.3 344.52 525.2 341.1C529.1 337.68 532.52 334.37 536.9 332.3C541.28 330.23 546.63 330.63 551.5 328.7C556.37 326.77 561.23 323.25 566.1 320.7C570.97 318.15 576.82 315.35 580.7 313.4C584.58 311.45 586.85 310.47 589.4 309C591.95 307.53 594.23 305.52 596 304.6C597.77 303.68 596.83 303.52 600 303.5C603.17 303.48 612.5 304.33 615 304.5" stroke="#d62728" stroke-width="0.66" fill="none"/>
<path d="M505 363C507.15 360.57 513.32 353.27 517.9 348.4C522.48 343.53 528.12 337.93 532.5 333.8C536.88 329.67 540.55 326.77 544.2 323.6C547.85 320.43 551 317.23 554.4 314.8C557.8 312.37 560.33 310.47 564.6 309C568.87 307.53 573.27 306.75 580 306C586.73 305.25 600.83 304.75 605 304.5" stroke="#d62728" stroke-width="0.66" fill="none"/>
<path d="M505 347.7C507.15 346.85 513.32 345.17 517.9 342.6C522.48 340.03 528.12 335.72 532.5 332.3C536.88 328.88 540.55 325.25 544.2 322.1C547.85 318.95 550.93 315.67 554.4 313.4C557.87 311.13 559.9 309.73 565 308.5C570.1 307.27 577.5 306.67 585 306C592.5 305.33 605.83 304.75 610 304.5" stroke="#17becf" stroke-width="0.66" fill="none"/>
<path d="M505 341.8C505.93 340.47 508.45 336.35 510.6 333.8C512.75 331.25 514.98 328.93 517.9 326.5C520.82 324.07 524.45 321.15 528.1 319.2C531.75 317.25 535.32 316.17 539.8 314.8C544.28 313.43 549.13 312.13 555 311C560.87 309.87 565.83 309.08 575 308C584.17 306.92 604.17 305.08 610 304.5" stroke="#1f77b4" stroke-width="0.66" fill="none"/>
<path d="M505 339.3C508.37 338.13 518.92 334.92 525.2 332.3C531.48 329.68 537.35 326.27 542.7 323.6C548.05 320.93 552.43 318.98 557.3 316.3C562.17 313.62 566.95 309.55 571.9 307.5C576.85 305.45 580.32 304.5 587 304C593.68 303.5 607.83 304.42 612 304.5" stroke="#bcbd22" stroke-width="0.66" fill="none"/>
<path d="M505 333.8C505.93 333.43 508.2 331.6 510.6 331.6C513 331.6 516.48 334.17 519.4 333.8C522.32 333.43 525.18 331.35 528.1 329.4C531.02 327.45 533.58 324.67 536.9 322.1C540.22 319.53 543.32 316.18 548 314C552.68 311.82 558 310.33 565 309C572 307.67 582.17 306.75 590 306C597.83 305.25 608.33 304.75 612 304.5" stroke="#8c564b" stroke-width="0.66" fill="none"/>
<path d="M505 329.4C506.67 329.28 510.9 330.03 515 328.7C519.1 327.37 525.43 323.52 529.6 321.4C533.77 319.28 535.77 317.73 540 316C544.23 314.27 548.33 312.5 555 311C561.67 309.5 570.83 308.08 580 307C589.17 305.92 605 304.92 610 304.5" stroke="#d62728" stroke-width="0.66" fill="none"/>
<path d="M507.7 335.3C509.4 333.58 513.77 328.9 517.9 325C522.03 321.1 527.98 314.9 532.5 311.9C537.02 308.9 538.75 308.07 545 307C551.25 305.93 560.83 305.92 570 305.5C579.17 305.08 595 304.67 600 304.5" stroke="#7f7f7f" stroke-width="0.66" fill="none"/>
<path d="M505 325C506.42 323.3 510.17 317.47 513.5 314.8C516.83 312.13 518.92 310.3 525 309C531.08 307.7 540.83 307.5 550 307C559.17 306.5 570 306.42 580 306C590 305.58 605 304.75 610 304.5" stroke="#9467bd" stroke-width="0.66" fill="none"/>
<path d="M505 317C507.15 316.63 512.9 315.38 517.9 314.8C522.9 314.22 527.98 314.3 535 313.5C542.02 312.7 551.67 311.08 560 310C568.33 308.92 576.33 307.92 585 307C593.67 306.08 607.5 304.92 612 304.5" stroke="#ff7f0e" stroke-width="0.66" fill="none"/>
<path d="M540 313C542.88 312.82 550.03 312.57 557.3 311.9C564.57 311.23 577.15 309.73 583.6 309C590.05 308.27 591.6 308.08 596 307.5C600.4 306.92 605.67 306 610 305.5C614.33 305 620 304.67 622 304.5" stroke="#2ca02c" stroke-width="0.66" fill="none"/>
<path d="M615 304.5L675.2 304.5" stroke="#7f7f7f" stroke-width="0.6" fill="none"/>
<path d="M505.1 297.1L675.2 297.1" stroke="#e377c2" stroke-width="0.6" fill="none"/>
<line x1="589.8" y1="224" x2="589.8" y2="370.0" stroke="#555" stroke-width="0.85" stroke-dasharray="2 1"/>
<rect x="496.5" y="224.5" width="187" height="145.5" fill="none" stroke="#9d9d9d" stroke-width="1"/>
<line x1="494.9" y1="240.1" x2="496.5" y2="240.1" stroke="#9d9d9d" stroke-width="0.6"/>
<text x="494.2" y="242.1" text-anchor="end" class="t" textLength="5.8" lengthAdjust="spacingAndGlyphs">0.6</text>
<line x1="494.9" y1="261.5" x2="496.5" y2="261.5" stroke="#9d9d9d" stroke-width="0.6"/>
<text x="494.2" y="263.5" text-anchor="end" class="t" textLength="5.8" lengthAdjust="spacingAndGlyphs">0.4</text>
<line x1="494.9" y1="282.9" x2="496.5" y2="282.9" stroke="#9d9d9d" stroke-width="0.6"/>
<text x="494.2" y="284.9" text-anchor="end" class="t" textLength="5.8" lengthAdjust="spacingAndGlyphs">0.2</text>
<line x1="494.9" y1="304.3" x2="496.5" y2="304.3" stroke="#9d9d9d" stroke-width="0.6"/>
<text x="494.2" y="306.3" text-anchor="end" class="t" textLength="5.8" lengthAdjust="spacingAndGlyphs">0.0</text>
<line x1="494.9" y1="325.7" x2="496.5" y2="325.7" stroke="#9d9d9d" stroke-width="0.6"/>
<text x="494.2" y="327.7" text-anchor="end" class="t" textLength="7.2" lengthAdjust="spacingAndGlyphs">-0.2</text>
<line x1="494.9" y1="347.1" x2="496.5" y2="347.1" stroke="#9d9d9d" stroke-width="0.6"/>
<text x="494.2" y="349.1" text-anchor="end" class="t" textLength="7.2" lengthAdjust="spacingAndGlyphs">-0.4</text>
<line x1="494.9" y1="368.5" x2="496.5" y2="368.5" stroke="#9d9d9d" stroke-width="0.6"/>
<text x="494.2" y="370.5" text-anchor="end" class="t" textLength="7.2" lengthAdjust="spacingAndGlyphs">-0.6</text>
<line x1="505" y1="370.0" x2="505" y2="371.6" stroke="#9d9d9d" stroke-width="0.6"/>
<text x="501.36" y="376.3" class="t" textLength="4.64" lengthAdjust="spacingAndGlyphs">10</text>
<text x="506.21" y="374.6" class="t" style="font-size:3.4px" textLength="2.63" lengthAdjust="spacingAndGlyphs">-3</text>
<line x1="522.06" y1="370.0" x2="522.06" y2="371" stroke="#9d9d9d" stroke-width="0.5"/>
<line x1="532.04" y1="370.0" x2="532.04" y2="371" stroke="#9d9d9d" stroke-width="0.5"/>
<line x1="539.12" y1="370.0" x2="539.12" y2="371" stroke="#9d9d9d" stroke-width="0.5"/>
<line x1="544.61" y1="370.0" x2="544.61" y2="371" stroke="#9d9d9d" stroke-width="0.5"/>
<line x1="549.1" y1="370.0" x2="549.1" y2="371" stroke="#9d9d9d" stroke-width="0.5"/>
<line x1="552.89" y1="370.0" x2="552.89" y2="371" stroke="#9d9d9d" stroke-width="0.5"/>
<line x1="556.18" y1="370.0" x2="556.18" y2="371" stroke="#9d9d9d" stroke-width="0.5"/>
<line x1="559.07" y1="370.0" x2="559.07" y2="371" stroke="#9d9d9d" stroke-width="0.5"/>
<line x1="561.67" y1="370.0" x2="561.67" y2="371.6" stroke="#9d9d9d" stroke-width="0.6"/>
<text x="558.03" y="376.3" class="t" textLength="4.64" lengthAdjust="spacingAndGlyphs">10</text>
<text x="562.87" y="374.6" class="t" style="font-size:3.4px" textLength="2.63" lengthAdjust="spacingAndGlyphs">-2</text>
<line x1="578.73" y1="370.0" x2="578.73" y2="371" stroke="#9d9d9d" stroke-width="0.5"/>
<line x1="588.7" y1="370.0" x2="588.7" y2="371" stroke="#9d9d9d" stroke-width="0.5"/>
<line x1="595.78" y1="370.0" x2="595.78" y2="371" stroke="#9d9d9d" stroke-width="0.5"/>
<line x1="601.27" y1="370.0" x2="601.27" y2="371" stroke="#9d9d9d" stroke-width="0.5"/>
<line x1="605.76" y1="370.0" x2="605.76" y2="371" stroke="#9d9d9d" stroke-width="0.5"/>
<line x1="609.56" y1="370.0" x2="609.56" y2="371" stroke="#9d9d9d" stroke-width="0.5"/>
<line x1="612.84" y1="370.0" x2="612.84" y2="371" stroke="#9d9d9d" stroke-width="0.5"/>
<line x1="615.74" y1="370.0" x2="615.74" y2="371" stroke="#9d9d9d" stroke-width="0.5"/>
<line x1="618.33" y1="370.0" x2="618.33" y2="371.6" stroke="#9d9d9d" stroke-width="0.6"/>
<text x="614.7" y="376.3" class="t" textLength="4.64" lengthAdjust="spacingAndGlyphs">10</text>
<text x="619.54" y="374.6" class="t" style="font-size:3.4px" textLength="2.63" lengthAdjust="spacingAndGlyphs">-1</text>
<line x1="635.39" y1="370.0" x2="635.39" y2="371" stroke="#9d9d9d" stroke-width="0.5"/>
<line x1="645.37" y1="370.0" x2="645.37" y2="371" stroke="#9d9d9d" stroke-width="0.5"/>
<line x1="652.45" y1="370.0" x2="652.45" y2="371" stroke="#9d9d9d" stroke-width="0.5"/>
<line x1="657.94" y1="370.0" x2="657.94" y2="371" stroke="#9d9d9d" stroke-width="0.5"/>
<line x1="662.43" y1="370.0" x2="662.43" y2="371" stroke="#9d9d9d" stroke-width="0.5"/>
<line x1="666.22" y1="370.0" x2="666.22" y2="371" stroke="#9d9d9d" stroke-width="0.5"/>
<line x1="669.51" y1="370.0" x2="669.51" y2="371" stroke="#9d9d9d" stroke-width="0.5"/>
<line x1="672.41" y1="370.0" x2="672.41" y2="371" stroke="#9d9d9d" stroke-width="0.5"/>
<line x1="675" y1="370.0" x2="675" y2="371.6" stroke="#9d9d9d" stroke-width="0.6"/>
<text x="671.86" y="376.3" class="t" textLength="4.64" lengthAdjust="spacingAndGlyphs">10</text>
<text x="676.7" y="374.6" class="t" style="font-size:3.4px" textLength="1.64" lengthAdjust="spacingAndGlyphs">0</text>
<text x="590" y="381.2" text-anchor="middle" class="t" textLength="36" lengthAdjust="spacingAndGlyphs">Lambda(λ=0.1189)</text>
<text transform="translate(484.5 297.25) rotate(-90)" text-anchor="middle" class="t" textLength="22.6" lengthAdjust="spacingAndGlyphs">Coefficients</text>
<text x="680.6" y="233.2" text-anchor="end" class="ti" textLength="38.6" lengthAdjust="spacingAndGlyphs">peri_10mm</text>
<text x="484.3" y="222.9" class="L">f</text>
<path d="M267.2 468.25C268.88 469.58 273.93 473.8 277.3 476.25C280.66 478.69 284.03 480.95 287.4 482.92C290.76 484.89 294.13 486.68 297.49 488.07C300.86 489.46 304.22 490.67 307.59 491.27C310.96 491.88 314.32 491.64 317.69 491.71C321.05 491.79 324.42 491.72 327.79 491.73C331.15 491.73 334.52 491.74 337.88 491.74C341.25 491.75 344.61 491.75 347.98 491.76C351.35 491.76 354.71 491.77 358.08 491.77C361.44 491.77 364.81 491.78 368.18 491.78C371.54 491.79 374.91 491.79 378.27 491.79C381.64 491.8 386.69 491.8 388.37 491.8" stroke="#1f77b4" stroke-width="0.55" fill="none"/>
<path d="M267.2 469.51C268.85 469.89 273.81 471.09 277.11 471.82C280.41 472.55 283.71 473.24 287.02 473.87C290.32 474.5 293.62 475.1 296.92 475.63C300.23 476.16 303.53 476.64 306.83 477.05C310.13 477.47 313.44 477.82 316.74 478.09C320.04 478.36 323.34 478.25 326.65 478.69C329.95 479.12 333.25 480.03 336.55 480.7C339.86 481.38 343.16 482.06 346.46 482.75C349.76 483.45 353.07 484.14 356.37 484.85C359.67 485.56 362.98 486.27 366.28 487.01C369.58 487.74 372.88 488.46 376.19 489.26C379.49 490.06 384.44 491.38 386.09 491.8" stroke="#ff7f0e" stroke-width="0.55" fill="none"/>
<path d="M267.2 470.64C268.86 472.8 273.86 479.74 277.18 483.63C280.51 487.51 283.84 491.05 287.17 493.94C290.49 496.83 293.82 499.58 297.15 500.97C300.48 502.37 303.8 502.39 307.13 502.3C310.46 502.22 313.79 501.05 317.11 500.45C320.44 499.86 323.77 499.28 327.1 498.72C330.43 498.16 333.75 497.62 337.08 497.11C340.41 496.6 343.74 496.1 347.06 495.64C350.39 495.18 353.72 494.74 357.05 494.33C360.37 493.92 363.7 493.54 367.03 493.2C370.36 492.87 373.69 492.55 377.01 492.31C380.34 492.08 385.33 491.89 387 491.8" stroke="#2ca02c" stroke-width="0.55" fill="none"/>
<path d="M267.2 471.95C268.76 473.49 273.43 478.4 276.54 481.15C279.66 483.9 282.77 486.4 285.89 488.44C289 490.47 292.12 492.35 295.23 493.38C298.35 494.4 301.46 494.46 304.57 494.61C307.69 494.76 310.8 494.39 313.92 494.28C317.03 494.17 320.15 494.06 323.26 493.95C326.38 493.84 329.49 493.73 332.61 493.61C335.72 493.5 338.83 493.39 341.95 493.27C345.06 493.16 348.18 493.04 351.29 492.93C354.41 492.81 357.52 492.69 360.64 492.57C363.75 492.45 366.87 492.33 369.98 492.2C373.09 492.08 377.77 491.87 379.32 491.8" stroke="#d62728" stroke-width="0.55" fill="none"/>
<path d="M267.2 472.57C268.71 474.62 273.22 481.13 276.23 484.85C279.25 488.58 282.26 492.01 285.27 494.93C288.28 497.86 291.29 500.51 294.3 502.41C297.32 504.32 300.33 506.09 303.34 506.36C306.35 506.63 309.36 504.82 312.37 504.03C315.39 503.24 318.4 502.39 321.41 501.61C324.42 500.83 327.43 500.08 330.44 499.36C333.46 498.64 336.47 497.95 339.48 497.3C342.49 496.64 345.5 496.02 348.51 495.44C351.53 494.87 354.54 494.32 357.55 493.84C360.56 493.36 363.57 492.9 366.58 492.56C369.6 492.22 374.11 491.93 375.62 491.8" stroke="#9467bd" stroke-width="0.55" fill="none"/>
<path d="M267.2 473.96C268.91 475.76 274.06 481.43 277.48 484.73C280.91 488.03 284.34 491.08 287.77 493.76C291.19 496.43 294.62 498.85 298.05 500.77C301.48 502.68 304.9 504.58 308.33 505.24C311.76 505.91 315.19 505.2 318.61 504.78C322.04 504.35 325.47 503.36 328.9 502.67C332.32 501.98 335.75 501.29 339.18 500.62C342.61 499.94 346.03 499.28 349.46 498.62C352.89 497.97 356.32 497.33 359.74 496.7C363.17 496.08 366.6 495.46 370.03 494.88C373.46 494.29 376.88 493.7 380.31 493.19C383.74 492.68 388.88 492.03 390.59 491.8" stroke="#8c564b" stroke-width="0.55" fill="none"/>
<path d="M267.2 473.2C268.8 474.95 273.61 480.56 276.81 483.73C280.01 486.91 283.21 489.81 286.42 492.25C289.62 494.68 292.82 496.95 296.02 498.34C299.23 499.74 302.43 500.5 305.63 500.62C308.83 500.75 312.04 499.59 315.24 499.09C318.44 498.6 321.64 498.12 324.85 497.66C328.05 497.19 331.25 496.75 334.45 496.32C337.66 495.89 340.86 495.48 344.06 495.09C347.27 494.7 350.47 494.33 353.67 493.98C356.87 493.64 360.08 493.31 363.28 493.03C366.48 492.74 369.68 492.46 372.89 492.26C376.09 492.05 380.89 491.88 382.49 491.8" stroke="#e377c2" stroke-width="0.55" fill="none"/>
<path d="M267.2 475.09C268.88 476.97 273.91 482.98 277.26 486.36C280.62 489.73 283.97 492.8 287.32 495.33C290.68 497.86 294.03 500.28 297.39 501.52C300.74 502.76 304.09 502.91 307.45 502.77C310.8 502.64 314.16 501.37 317.51 500.71C320.86 500.05 324.22 499.41 327.57 498.8C330.93 498.2 334.28 497.61 337.63 497.07C340.99 496.52 344.34 496 347.7 495.52C351.05 495.03 354.4 494.58 357.76 494.17C361.11 493.76 364.47 493.38 367.82 493.06C371.17 492.73 374.53 492.44 377.88 492.23C381.24 492.02 386.27 491.87 387.94 491.8" stroke="#7f7f7f" stroke-width="0.55" fill="none"/>
<path d="M267.2 477.07C268.68 477.58 273.12 479.18 276.09 480.12C279.05 481.07 282.01 481.96 284.97 482.76C287.93 483.55 290.89 484.29 293.86 484.91C296.82 485.54 299.78 486.11 302.74 486.51C305.7 486.92 308.66 487.06 311.63 487.35C314.59 487.64 317.55 487.96 320.51 488.25C323.47 488.55 326.44 488.85 329.4 489.12C332.36 489.4 335.32 489.66 338.28 489.9C341.24 490.14 344.21 490.37 347.17 490.58C350.13 490.79 353.09 490.98 356.05 491.15C359.01 491.31 361.98 491.47 364.94 491.58C367.9 491.68 372.34 491.76 373.82 491.8" stroke="#bcbd22" stroke-width="0.55" fill="none"/>
<path d="M267.2 477.51C268.75 478.93 273.4 483.4 276.5 486.04C279.6 488.68 282.7 491.15 285.8 493.36C288.9 495.56 292 497.58 295.1 499.29C298.2 500.99 301.3 502.58 304.4 503.57C307.5 504.57 310.6 505.33 313.7 505.25C316.8 505.18 319.9 503.83 323 503.12C326.1 502.42 329.2 501.72 332.3 501.03C335.4 500.34 338.5 499.66 341.6 498.99C344.7 498.32 347.8 497.66 350.9 497.01C354 496.37 357.1 495.73 360.2 495.11C363.3 494.5 366.4 493.88 369.5 493.33C372.6 492.77 377.25 492.05 378.8 491.8" stroke="#17becf" stroke-width="0.55" fill="none"/>
<path d="M267.2 479.03C268.74 479.25 273.37 479.92 276.46 480.3C279.55 480.68 282.64 481.03 285.72 481.32C288.81 481.61 291.9 481.83 294.98 482.04C298.07 482.24 301.16 482.27 304.25 482.55C307.33 482.83 310.42 483.32 313.51 483.71C316.59 484.1 319.68 484.48 322.77 484.87C325.86 485.26 328.94 485.64 332.03 486.03C335.12 486.42 338.2 486.8 341.29 487.19C344.38 487.57 347.46 487.96 350.55 488.34C353.64 488.73 356.73 489.12 359.81 489.5C362.9 489.89 365.99 490.27 369.07 490.65C372.16 491.04 376.79 491.61 378.34 491.8" stroke="#1f77b4" stroke-width="0.55" fill="none"/>
<path d="M267.2 478.48C268.85 480.28 273.79 486.02 277.08 489.29C280.38 492.56 283.67 495.56 286.96 498.11C290.26 500.65 293.55 502.97 296.85 504.57C300.14 506.16 303.43 507.47 306.73 507.68C310.02 507.88 313.32 506.44 316.61 505.81C319.9 505.19 323.2 504.56 326.49 503.94C329.79 503.31 333.08 502.67 336.37 502.03C339.67 501.4 342.96 500.76 346.26 500.11C349.55 499.46 352.84 498.81 356.14 498.15C359.43 497.49 362.73 496.83 366.02 496.15C369.31 495.47 372.61 494.8 375.9 494.08C379.2 493.35 384.14 492.18 385.78 491.8" stroke="#ff7f0e" stroke-width="0.55" fill="none"/>
<path d="M267.2 480.22C268.93 480.93 274.12 483.18 277.58 484.5C281.04 485.81 284.5 487.03 287.96 488.11C291.41 489.19 294.87 490.17 298.33 490.96C301.79 491.75 305.25 492.48 308.71 492.87C312.17 493.25 315.63 493.22 319.09 493.25C322.55 493.27 326.01 493.1 329.47 493.03C332.93 492.95 336.39 492.88 339.84 492.81C343.3 492.74 346.76 492.67 350.22 492.6C353.68 492.53 357.14 492.46 360.6 492.39C364.06 492.32 367.52 492.25 370.98 492.18C374.44 492.11 377.9 492.04 381.36 491.98C384.82 491.92 390 491.83 391.73 491.8" stroke="#2ca02c" stroke-width="0.55" fill="none"/>
<path d="M267.2 480.8C268.82 481.94 273.68 485.56 276.92 487.68C280.16 489.8 283.41 491.77 286.65 493.52C289.89 495.27 293.13 496.87 296.37 498.18C299.61 499.5 302.85 500.78 306.09 501.4C309.33 502.02 312.58 502.09 315.82 501.89C319.06 501.68 322.3 500.74 325.54 500.19C328.78 499.63 332.02 499.08 335.26 498.55C338.5 498.01 341.75 497.48 344.99 496.97C348.23 496.45 351.47 495.95 354.71 495.46C357.95 494.98 361.19 494.5 364.43 494.06C367.67 493.61 370.91 493.16 374.16 492.79C377.4 492.41 382.26 491.96 383.88 491.8" stroke="#d62728" stroke-width="0.55" fill="none"/>
<path d="M267.2 482.41C268.67 483.92 273.08 488.77 276.03 491.48C278.97 494.2 281.91 496.67 284.85 498.7C287.79 500.74 290.74 502.7 293.68 503.67C296.62 504.65 299.56 504.74 302.5 504.56C305.45 504.38 308.39 503.24 311.33 502.6C314.27 501.96 317.22 501.33 320.16 500.72C323.1 500.1 326.04 499.49 328.98 498.9C331.93 498.31 334.87 497.74 337.81 497.18C340.75 496.62 343.69 496.08 346.64 495.56C349.58 495.04 352.52 494.54 355.46 494.07C358.4 493.6 361.35 493.14 364.29 492.76C367.23 492.38 371.64 491.96 373.11 491.8" stroke="#9467bd" stroke-width="0.55" fill="none"/>
<path d="M267.2 483.5C268.89 483.37 273.95 482.98 277.33 482.75C280.71 482.52 284.08 482.3 287.46 482.1C290.84 481.9 294.22 481.72 297.59 481.56C300.97 481.4 304.35 481.25 307.72 481.14C311.1 481.03 314.48 480.66 317.85 480.88C321.23 481.1 324.61 481.81 327.98 482.46C331.36 483.11 334.74 484.05 338.12 484.78C341.49 485.51 344.87 486.21 348.25 486.85C351.62 487.49 355 488.1 358.38 488.64C361.75 489.19 365.13 489.69 368.51 490.13C371.88 490.56 375.26 490.96 378.64 491.23C382.01 491.51 387.08 491.71 388.77 491.8" stroke="#8c564b" stroke-width="0.55" fill="none"/>
<path d="M267.2 483.4C268.83 484.53 273.72 488.15 276.98 490.2C280.25 492.25 283.51 494.12 286.77 495.69C290.03 497.27 293.29 498.74 296.55 499.62C299.81 500.51 303.07 501.02 306.34 501.03C309.6 501.03 312.86 500.11 316.12 499.66C319.38 499.21 322.64 498.76 325.9 498.33C329.17 497.89 332.43 497.46 335.69 497.04C338.95 496.62 342.21 496.21 345.47 495.8C348.73 495.4 351.99 495.01 355.26 494.63C358.52 494.25 361.78 493.88 365.04 493.54C368.3 493.19 371.56 492.84 374.82 492.55C378.09 492.26 382.98 491.93 384.61 491.8" stroke="#e377c2" stroke-width="0.55" fill="none"/>
<path d="M267.2 484.83C268.7 485.87 273.19 489.18 276.18 491.09C279.18 493 282.17 494.76 285.16 496.3C288.16 497.83 291.15 499.22 294.15 500.29C297.14 501.36 300.13 502.47 303.13 502.72C306.12 502.97 309.12 502.22 312.11 501.77C315.1 501.33 318.1 500.63 321.09 500.07C324.09 499.51 327.08 498.96 330.07 498.42C333.07 497.89 336.06 497.36 339.06 496.85C342.05 496.34 345.04 495.84 348.04 495.36C351.03 494.88 354.03 494.41 357.02 493.97C360.01 493.53 363.01 493.1 366 492.73C369 492.37 373.49 491.96 374.98 491.8" stroke="#7f7f7f" stroke-width="0.55" fill="none"/>
<path d="M267.2 485.98C268.93 486.71 274.13 489 277.6 490.38C281.07 491.76 284.53 493.07 288 494.28C291.46 495.48 294.93 496.61 298.4 497.62C301.86 498.63 305.33 499.56 308.8 500.34C312.26 501.12 315.73 501.86 319.19 502.31C322.66 502.77 326.13 503.33 329.59 503.09C333.06 502.84 336.53 501.57 339.99 500.84C343.46 500.11 346.92 499.39 350.39 498.69C353.86 497.99 357.32 497.31 360.79 496.65C364.26 496 367.72 495.36 371.19 494.76C374.65 494.17 378.12 493.57 381.59 493.07C385.05 492.58 390.25 492.01 391.99 491.8" stroke="#bcbd22" stroke-width="0.55" fill="none"/>
<path d="M267.2 488.27C268.79 488.86 273.56 490.7 276.75 491.78C279.93 492.87 283.11 493.87 286.29 494.77C289.48 495.66 292.66 496.48 295.84 497.16C299.02 497.84 302.21 498.51 305.39 498.83C308.57 499.16 311.75 499.27 314.93 499.13C318.12 498.98 321.3 498.36 324.48 497.98C327.66 497.6 330.85 497.22 334.03 496.85C337.21 496.48 340.39 496.11 343.58 495.75C346.76 495.39 349.94 495.03 353.12 494.68C356.3 494.32 359.49 493.97 362.67 493.64C365.85 493.3 369.03 492.96 372.22 492.66C375.4 492.35 380.17 491.94 381.76 491.8" stroke="#17becf" stroke-width="0.55" fill="none"/>
<path d="M267.2 489C268.77 488.57 273.47 487.24 276.61 486.46C279.74 485.69 282.88 484.97 286.01 484.33C289.15 483.7 292.28 483.13 295.42 482.67C298.55 482.21 301.69 481.61 304.83 481.57C307.96 481.53 311.1 481.94 314.23 482.42C317.37 482.9 320.5 483.81 323.64 484.46C326.77 485.11 329.91 485.73 333.04 486.31C336.18 486.89 339.32 487.44 342.45 487.95C345.59 488.46 348.72 488.94 351.86 489.37C354.99 489.79 358.13 490.19 361.26 490.52C364.4 490.86 367.53 491.16 370.67 491.38C373.8 491.59 378.51 491.73 380.08 491.8" stroke="#1f77b4" stroke-width="0.55" fill="none"/>
<path d="M267.2 488.81C268.92 489.19 274.09 490.41 277.53 491.13C280.98 491.84 284.42 492.51 287.87 493.1C291.31 493.7 294.75 494.24 298.2 494.69C301.64 495.14 305.09 495.58 308.53 495.81C311.98 496.05 315.42 496.16 318.87 496.09C322.31 496.03 325.75 495.63 329.2 495.4C332.64 495.18 336.09 494.95 339.53 494.73C342.98 494.51 346.42 494.29 349.86 494.07C353.31 493.86 356.75 493.65 360.2 493.44C363.64 493.23 367.09 493.03 370.53 492.83C373.97 492.64 377.42 492.44 380.86 492.27C384.31 492.1 389.47 491.88 391.2 491.8" stroke="#ff7f0e" stroke-width="0.55" fill="none"/>
<path d="M267.2 491.11C268.68 490.84 273.12 489.99 276.08 489.49C279.04 488.98 282 488.51 284.96 488.08C287.92 487.64 290.89 487.24 293.85 486.89C296.81 486.54 299.77 486.22 302.73 485.96C305.69 485.71 308.65 485.35 311.61 485.36C314.57 485.37 317.53 485.68 320.49 486.02C323.45 486.36 326.41 486.97 329.37 487.41C332.33 487.85 335.29 488.27 338.26 488.66C341.22 489.05 344.18 489.43 347.14 489.77C350.1 490.1 353.06 490.42 356.02 490.7C358.98 490.97 361.94 491.23 364.9 491.41C367.86 491.6 372.3 491.74 373.78 491.8" stroke="#2ca02c" stroke-width="0.55" fill="none"/>
<path d="M267.2 490.81C268.76 491.29 273.42 492.78 276.54 493.68C279.65 494.57 282.76 495.41 285.87 496.18C288.98 496.94 292.09 497.65 295.21 498.28C298.32 498.9 301.43 499.46 304.54 499.91C307.65 500.36 310.77 500.94 313.88 500.97C316.99 501 320.1 500.56 323.21 500.11C326.33 499.66 329.44 498.85 332.55 498.26C335.66 497.66 338.77 497.08 341.88 496.54C345 495.99 348.11 495.47 351.22 494.98C354.33 494.49 357.44 494.03 360.56 493.61C363.67 493.2 366.78 492.8 369.89 492.49C373 492.19 377.67 491.92 379.23 491.8" stroke="#d62728" stroke-width="0.55" fill="none"/>
<path d="M267.2 492.79C268.84 493.21 273.76 494.54 277.04 495.31C280.32 496.08 283.6 496.79 286.88 497.42C290.16 498.05 293.44 498.62 296.72 499.07C300 499.53 303.28 500.07 306.56 500.14C309.84 500.22 313.12 499.88 316.4 499.53C319.68 499.17 322.96 498.51 326.24 498.03C329.52 497.55 332.8 497.08 336.08 496.63C339.36 496.19 342.64 495.75 345.92 495.34C349.2 494.93 352.48 494.54 355.76 494.17C359.04 493.81 362.32 493.46 365.6 493.15C368.88 492.84 372.16 492.54 375.44 492.31C378.72 492.09 383.64 491.89 385.28 491.8" stroke="#9467bd" stroke-width="0.55" fill="none"/>
<path d="M267.2 492.83C268.73 492.79 273.33 492.65 276.4 492.56C279.47 492.48 282.54 492.4 285.6 492.33C288.67 492.25 291.74 492.19 294.8 492.13C297.87 492.07 300.94 492.02 304.01 491.97C307.07 491.93 310.14 491.89 313.21 491.87C316.27 491.85 319.34 491.86 322.41 491.85C325.48 491.84 328.54 491.84 331.61 491.84C334.68 491.84 337.74 491.83 340.81 491.83C343.88 491.83 346.95 491.82 350.01 491.82C353.08 491.82 356.15 491.81 359.21 491.81C362.28 491.81 365.35 491.81 368.42 491.8C371.48 491.8 376.08 491.8 377.62 491.8" stroke="#8c564b" stroke-width="0.55" fill="none"/>
<path d="M267.2 493.61C268.74 494.22 273.35 496.12 276.42 497.25C279.5 498.39 282.57 499.45 285.65 500.41C288.72 501.37 291.79 502.25 294.87 503.01C297.94 503.77 301.02 504.46 304.09 504.96C307.17 505.47 310.24 506.25 313.32 506.06C316.39 505.88 319.46 504.65 322.54 503.86C325.61 503.06 328.69 502.13 331.76 501.3C334.84 500.48 337.91 499.67 340.98 498.9C344.06 498.13 347.13 497.38 350.21 496.68C353.28 495.97 356.36 495.29 359.43 494.67C362.51 494.05 365.58 493.44 368.65 492.96C371.73 492.48 376.34 491.99 377.88 491.8" stroke="#e377c2" stroke-width="0.55" fill="none"/>
<path d="M267.2 496.37C268.66 496.22 273.04 495.73 275.95 495.45C278.87 495.17 281.79 494.91 284.71 494.69C287.62 494.46 290.54 494.26 293.46 494.11C296.38 493.96 299.29 493.88 302.21 493.78C305.13 493.67 308.05 493.59 310.96 493.49C313.88 493.39 316.8 493.27 319.72 493.17C322.63 493.06 325.55 492.96 328.47 492.86C331.39 492.77 334.3 492.67 337.22 492.58C340.14 492.49 343.06 492.41 345.97 492.33C348.89 492.25 351.81 492.17 354.73 492.1C357.64 492.03 360.56 491.97 363.48 491.92C366.4 491.87 370.77 491.82 372.23 491.8" stroke="#7f7f7f" stroke-width="0.55" fill="none"/>
<path d="M267.2 496.07C268.78 496.36 273.54 497.29 276.7 497.84C279.87 498.38 283.04 498.9 286.21 499.36C289.38 499.83 292.55 500.25 295.71 500.62C298.88 500.99 302.05 501.32 305.22 501.57C308.39 501.81 311.56 502.3 314.72 502.1C317.89 501.89 321.06 500.94 324.23 500.31C327.4 499.68 330.57 498.96 333.73 498.32C336.9 497.69 340.07 497.08 343.24 496.51C346.41 495.94 349.58 495.4 352.74 494.9C355.91 494.4 359.08 493.93 362.25 493.51C365.42 493.1 368.59 492.71 371.75 492.42C374.92 492.14 379.67 491.9 381.26 491.8" stroke="#bcbd22" stroke-width="0.55" fill="none"/>
<path d="M267.2 497.11C268.75 497.09 273.41 497.04 276.51 497.01C279.62 496.98 282.72 496.95 285.83 496.93C288.93 496.9 292.04 496.88 295.14 496.86C298.24 496.84 301.35 496.82 304.45 496.8C307.56 496.79 310.66 496.89 313.77 496.77C316.87 496.65 319.97 496.37 323.08 496.08C326.18 495.8 329.29 495.39 332.39 495.07C335.5 494.75 338.6 494.44 341.71 494.15C344.81 493.86 347.91 493.59 351.02 493.34C354.12 493.08 357.23 492.85 360.33 492.64C363.44 492.44 366.54 492.24 369.64 492.1C372.75 491.96 377.41 491.85 378.96 491.8" stroke="#17becf" stroke-width="0.55" fill="none"/>
<path d="M267.2 499.66C268.75 499.81 273.41 500.26 276.52 500.53C279.62 500.8 282.73 501.06 285.83 501.3C288.94 501.53 292.04 501.75 295.15 501.94C298.26 502.14 301.36 502.32 304.47 502.46C307.57 502.61 310.68 502.87 313.78 502.82C316.89 502.77 319.99 502.67 323.1 502.18C326.21 501.68 329.31 500.61 332.42 499.87C335.52 499.12 338.63 498.41 341.73 497.73C344.84 497.04 347.95 496.39 351.05 495.78C354.16 495.17 357.26 494.59 360.37 494.07C363.47 493.56 366.58 493.05 369.68 492.67C372.79 492.29 377.45 491.95 379 491.8" stroke="#1f77b4" stroke-width="0.55" fill="none"/>
<path d="M267.2 500.47C268.93 500.77 274.11 501.74 277.56 502.32C281.01 502.89 284.47 503.42 287.92 503.9C291.37 504.38 294.83 504.81 298.28 505.18C301.73 505.54 305.19 505.94 308.64 506.09C312.09 506.23 315.55 506.48 319 506.05C322.45 505.62 325.91 504.34 329.36 503.51C332.81 502.69 336.27 501.88 339.72 501.09C343.17 500.3 346.63 499.54 350.08 498.8C353.54 498.06 356.99 497.34 360.44 496.65C363.9 495.97 367.35 495.31 370.8 494.7C374.26 494.09 377.71 493.49 381.16 493C384.62 492.52 389.8 492 391.52 491.8" stroke="#ff7f0e" stroke-width="0.55" fill="none"/>
<path d="M267.2 500.32C268.7 500.43 273.21 500.75 276.21 500.95C279.21 501.14 282.22 501.33 285.22 501.5C288.22 501.67 291.23 501.83 294.23 501.97C297.23 502.11 300.24 502.24 303.24 502.35C306.24 502.46 309.25 502.62 312.25 502.63C315.25 502.63 318.26 502.8 321.26 502.41C324.27 502.01 327.27 500.97 330.27 500.27C333.28 499.57 336.28 498.89 339.28 498.23C342.29 497.57 345.29 496.93 348.29 496.31C351.3 495.69 354.3 495.09 357.3 494.53C360.31 493.98 363.31 493.42 366.31 492.96C369.32 492.51 373.82 491.99 375.32 491.8" stroke="#2ca02c" stroke-width="0.55" fill="none"/>
<path d="M267.2 502.69C268.85 502.52 273.79 502 277.09 501.68C280.38 501.37 283.68 501.07 286.97 500.8C290.27 500.54 293.56 500.29 296.86 500.07C300.15 499.86 303.45 499.66 306.74 499.51C310.04 499.35 313.33 499.34 316.63 499.16C319.92 498.97 323.22 498.7 326.51 498.38C329.81 498.07 333.1 497.64 336.4 497.27C339.7 496.9 342.99 496.52 346.29 496.15C349.58 495.78 352.88 495.41 356.17 495.05C359.47 494.68 362.76 494.31 366.06 493.95C369.35 493.58 372.65 493.22 375.94 492.86C379.24 492.5 384.18 491.98 385.83 491.8" stroke="#d62728" stroke-width="0.55" fill="none"/>
<path d="M267.2 502.87C268.87 502.48 273.89 501.26 277.23 500.53C280.58 499.81 283.92 499.13 287.27 498.51C290.61 497.9 293.96 497.33 297.3 496.84C300.65 496.35 303.99 495.91 307.34 495.58C310.68 495.24 314.03 495.05 317.37 494.85C320.71 494.65 324.06 494.55 327.4 494.39C330.75 494.23 334.09 494.05 337.44 493.88C340.78 493.72 344.13 493.55 347.47 493.39C350.82 493.24 354.16 493.08 357.51 492.93C360.85 492.78 364.19 492.63 367.54 492.5C370.88 492.36 374.23 492.22 377.57 492.1C380.92 491.99 385.94 491.85 387.61 491.8" stroke="#9467bd" stroke-width="0.55" fill="none"/>
<path d="M267.2 504.17C268.83 504.01 273.72 503.49 276.97 503.19C280.23 502.88 283.49 502.59 286.75 502.34C290 502.08 293.26 501.84 296.52 501.64C299.78 501.43 303.03 501.25 306.29 501.11C309.55 500.98 312.81 501.14 316.06 500.83C319.32 500.51 322.58 499.8 325.84 499.25C329.1 498.71 332.35 498.11 335.61 497.57C338.87 497.03 342.13 496.51 345.38 496.02C348.64 495.52 351.9 495.05 355.16 494.62C358.41 494.18 361.67 493.76 364.93 493.39C368.19 493.02 371.44 492.67 374.7 492.4C377.96 492.14 382.85 491.9 384.47 491.8" stroke="#8c564b" stroke-width="0.55" fill="none"/>
<path d="M267.2 504.25C268.66 503.05 273.05 499.26 275.98 497.04C278.91 494.82 281.83 492.75 284.76 490.93C287.69 489.1 290.61 487.43 293.54 486.07C296.46 484.71 299.39 483.36 302.32 482.74C305.24 482.13 308.17 482.15 311.1 482.39C314.02 482.62 316.95 483.59 319.88 484.16C322.8 484.74 325.73 485.3 328.66 485.83C331.58 486.37 334.51 486.89 337.43 487.39C340.36 487.89 343.29 488.37 346.21 488.81C349.14 489.26 352.07 489.69 354.99 490.08C357.92 490.46 360.85 490.84 363.77 491.13C366.7 491.41 371.09 491.69 372.55 491.8" stroke="#e377c2" stroke-width="0.55" fill="none"/>
<path d="M267.2 506.74C268.72 506.32 273.27 504.98 276.3 504.19C279.33 503.4 282.36 502.66 285.4 501.99C288.43 501.32 291.46 500.7 294.5 500.18C297.53 499.65 300.56 499.17 303.59 498.82C306.63 498.47 309.66 498.34 312.69 498.08C315.72 497.83 318.76 497.58 321.79 497.31C324.82 497.04 327.86 496.74 330.89 496.45C333.92 496.16 336.95 495.87 339.99 495.58C343.02 495.29 346.05 494.99 349.09 494.69C352.12 494.4 355.15 494.09 358.18 493.79C361.22 493.48 364.25 493.17 367.28 492.84C370.32 492.51 374.86 491.97 376.38 491.8" stroke="#7f7f7f" stroke-width="0.55" fill="none"/>
<path d="M267.2 507.27C268.79 505.73 273.55 500.81 276.72 498.05C279.89 495.28 283.07 492.76 286.24 490.67C289.41 488.59 292.58 486.64 295.76 485.54C298.93 484.44 302.1 484.16 305.28 484.07C308.45 483.99 311.62 484.71 314.8 485.03C317.97 485.35 321.14 485.67 324.32 485.99C327.49 486.31 330.66 486.63 333.84 486.96C337.01 487.28 340.18 487.6 343.35 487.92C346.53 488.24 349.7 488.56 352.87 488.88C356.05 489.21 359.22 489.53 362.39 489.85C365.57 490.17 368.74 490.5 371.91 490.82C375.09 491.15 379.85 491.64 381.43 491.8" stroke="#bcbd22" stroke-width="0.55" fill="none"/>
<path d="M267.2 508.84C268.74 507.24 273.37 502.15 276.46 499.24C279.55 496.32 282.64 493.65 285.72 491.36C288.81 489.08 291.9 487.01 294.99 485.52C298.07 484.04 301.16 482.81 304.25 482.46C307.34 482.12 310.42 483.1 313.51 483.46C316.6 483.81 319.69 484.19 322.77 484.56C325.86 484.94 328.95 485.31 332.04 485.69C335.12 486.06 338.21 486.44 341.3 486.83C344.39 487.21 347.47 487.6 350.56 487.99C353.65 488.38 356.74 488.78 359.82 489.18C362.91 489.59 366 489.98 369.08 490.42C372.17 490.86 376.8 491.57 378.35 491.8" stroke="#17becf" stroke-width="0.55" fill="none"/>
<path d="M267.2 509.72C268.78 508.67 273.54 505.4 276.71 503.45C279.88 501.51 283.05 499.69 286.22 498.05C289.39 496.42 292.56 494.91 295.73 493.63C298.9 492.34 302.07 491.17 305.24 490.34C308.41 489.5 311.57 488.81 314.74 488.61C317.91 488.41 321.08 488.96 324.25 489.14C327.42 489.33 330.59 489.53 333.76 489.71C336.93 489.89 340.1 490.07 343.27 490.24C346.44 490.41 349.61 490.58 352.78 490.73C355.95 490.89 359.12 491.04 362.29 491.17C365.46 491.31 368.63 491.44 371.8 491.55C374.97 491.65 379.72 491.76 381.31 491.8" stroke="#1f77b4" stroke-width="0.55" fill="none"/>
<path d="M267.2 509.55C268.72 509.23 273.29 508.2 276.33 507.62C279.37 507.05 282.42 506.52 285.46 506.1C288.5 505.67 291.55 505.41 294.59 505.07C297.63 504.73 300.68 504.54 303.72 504.07C306.76 503.61 309.81 502.87 312.85 502.28C315.89 501.69 318.94 501.1 321.98 500.53C325.02 499.96 328.06 499.39 331.11 498.84C334.15 498.28 337.19 497.73 340.24 497.2C343.28 496.67 346.32 496.15 349.37 495.64C352.41 495.14 355.45 494.64 358.5 494.18C361.54 493.71 364.58 493.24 367.63 492.85C370.67 492.45 375.24 491.97 376.76 491.8" stroke="#ff7f0e" stroke-width="0.55" fill="none"/>
<path d="M267.2 510.7C268.73 509.36 273.33 505.08 276.4 502.66C279.46 500.23 282.53 498.01 285.6 496.15C288.66 494.28 291.73 492.57 294.79 491.47C297.86 490.38 300.92 489.81 303.99 489.56C307.06 489.31 310.12 489.84 313.19 489.96C316.25 490.09 319.32 490.22 322.39 490.34C325.45 490.46 328.52 490.58 331.58 490.69C334.65 490.8 337.71 490.9 340.78 491C343.85 491.1 346.91 491.19 349.98 491.28C353.04 491.36 356.11 491.44 359.18 491.51C362.24 491.58 365.31 491.65 368.37 491.7C371.44 491.75 376.04 491.78 377.57 491.8" stroke="#2ca02c" stroke-width="0.55" fill="none"/>
<path d="M267.2 511.33C268.76 509.68 273.44 504.51 276.56 501.43C279.68 498.36 282.79 495.49 285.91 492.9C289.03 490.31 292.15 487.93 295.27 485.9C298.39 483.86 301.51 482.02 304.63 480.7C307.74 479.38 310.86 478.12 313.98 477.96C317.1 477.79 320.22 479.1 323.34 479.72C326.46 480.34 329.58 481.02 332.7 481.67C335.81 482.32 338.93 482.98 342.05 483.63C345.17 484.29 348.29 484.95 351.41 485.62C354.53 486.28 357.65 486.95 360.76 487.62C363.88 488.3 367 488.96 370.12 489.66C373.24 490.36 377.92 491.44 379.48 491.8" stroke="#d62728" stroke-width="0.55" fill="none"/>
<path d="M267.2 511.43C268.81 510.23 273.63 506.43 276.84 504.19C280.06 501.94 283.27 499.84 286.48 497.96C289.7 496.07 292.91 494.34 296.13 492.87C299.34 491.4 302.55 490.07 305.77 489.14C308.98 488.22 312.2 487.47 315.41 487.33C318.62 487.18 321.84 487.98 325.05 488.29C328.27 488.59 331.48 488.89 334.69 489.16C337.91 489.44 341.12 489.7 344.34 489.94C347.55 490.19 350.76 490.41 353.98 490.62C357.19 490.82 360.41 491.01 363.62 491.17C366.83 491.34 370.05 491.49 373.26 491.59C376.48 491.69 381.3 491.76 382.9 491.8" stroke="#9467bd" stroke-width="0.55" fill="none"/>
<path d="M267.2 514.16C268.88 513.06 273.93 509.6 277.3 507.53C280.66 505.45 284.03 503.5 287.4 501.72C290.76 499.93 294.13 498.28 297.49 496.82C300.86 495.36 304.22 494.03 307.59 492.96C310.96 491.89 314.32 490.89 317.69 490.4C321.05 489.9 324.42 489.98 327.79 489.98C331.15 489.97 334.52 490.25 337.88 490.38C341.25 490.5 344.61 490.63 347.98 490.75C351.35 490.86 354.71 490.98 358.08 491.09C361.44 491.19 364.81 491.29 368.18 491.39C371.54 491.48 374.91 491.57 378.27 491.64C381.64 491.71 386.69 491.77 388.37 491.8" stroke="#8c564b" stroke-width="0.55" fill="none"/>
<path d="M267.2 517.4C268.76 515.6 273.43 509.94 276.55 506.59C279.67 503.24 282.78 500.11 285.9 497.29C289.01 494.47 292.13 491.88 295.25 489.68C298.36 487.48 301.48 485.48 304.6 484.07C307.71 482.66 310.83 481.38 313.95 481.22C317.06 481.05 320.18 482.46 323.29 483.07C326.41 483.69 329.53 484.31 332.64 484.91C335.76 485.5 338.88 486.08 341.99 486.64C345.11 487.19 348.23 487.73 351.34 488.24C354.46 488.75 357.57 489.25 360.69 489.7C363.81 490.15 366.92 490.59 370.04 490.94C373.16 491.29 377.83 491.66 379.39 491.8" stroke="#e377c2" stroke-width="0.55" fill="none"/>
<path d="M267.2 520.74C268.92 520.05 274.09 517.88 277.53 516.6C280.97 515.32 284.41 514.12 287.86 513.04C291.3 511.96 294.74 510.96 298.19 510.12C301.63 509.27 305.07 508.5 308.51 507.95C311.96 507.4 315.4 507.39 318.84 506.82C322.29 506.25 325.73 505.29 329.17 504.5C332.62 503.72 336.06 502.9 339.5 502.11C342.94 501.32 346.39 500.54 349.83 499.78C353.27 499.02 356.72 498.27 360.16 497.54C363.6 496.81 367.04 496.09 370.49 495.41C373.93 494.72 377.37 494.03 380.82 493.43C384.26 492.83 389.42 492.07 391.14 491.8" stroke="#7f7f7f" stroke-width="0.55" fill="none"/>
<path d="M267.2 522.63C268.9 519.72 274.01 510.44 277.42 505.18C280.83 499.91 284.24 495.1 287.64 491.07C291.05 487.03 294.46 483.29 297.87 480.97C301.27 478.65 304.68 477.41 308.09 477.16C311.5 476.92 314.9 478.73 318.31 479.49C321.72 480.25 325.13 480.99 328.53 481.72C331.94 482.44 335.35 483.15 338.76 483.84C342.16 484.53 345.57 485.2 348.98 485.84C352.39 486.48 355.79 487.11 359.2 487.69C362.61 488.28 366.02 488.85 369.42 489.37C372.83 489.89 376.24 490.41 379.65 490.81C383.05 491.22 388.17 491.64 389.87 491.8" stroke="#bcbd22" stroke-width="0.55" fill="none"/>
<path d="M267.2 526.57C268.83 524.34 273.71 517.36 276.96 513.21C280.21 509.06 283.46 505.18 286.72 501.68C289.97 498.18 293.22 494.96 296.48 492.19C299.73 489.43 302.98 486.93 306.23 485.11C309.49 483.29 312.74 481.58 315.99 481.26C319.25 480.94 322.5 482.51 325.75 483.18C329 483.85 332.26 484.61 335.51 485.27C338.76 485.93 342.02 486.57 345.27 487.15C348.52 487.74 351.77 488.3 355.03 488.8C358.28 489.31 361.53 489.78 364.79 490.18C368.04 490.59 371.29 490.97 374.54 491.24C377.8 491.51 382.68 491.71 384.3 491.8" stroke="#17becf" stroke-width="0.55" fill="none"/>
<path d="M267.2 528.88C268.76 526.58 273.44 519.26 276.56 515.06C279.68 510.85 282.8 506.99 285.92 503.66C289.04 500.34 292.16 497.33 295.28 495.11C298.4 492.9 301.52 491.15 304.64 490.36C307.76 489.57 310.88 490.34 314 490.38C317.12 490.42 320.24 490.53 323.36 490.6C326.48 490.67 329.6 490.75 332.72 490.82C335.84 490.89 338.96 490.96 342.08 491.03C345.2 491.1 348.32 491.17 351.44 491.24C354.56 491.31 357.68 491.38 360.8 491.44C363.92 491.51 367.04 491.57 370.16 491.63C373.28 491.69 377.96 491.77 379.52 491.8" stroke="#1f77b4" stroke-width="0.55" fill="none"/>
<path d="M267.2 531.7C268.93 529.85 274.1 524.1 277.55 520.62C281.01 517.14 284.46 513.86 287.91 510.83C291.36 507.8 294.81 504.97 298.26 502.44C301.71 499.91 305.17 497.59 308.62 495.64C312.07 493.68 315.52 491.89 318.97 490.72C322.42 489.56 325.87 488.87 329.32 488.65C332.78 488.43 336.23 489.18 339.68 489.42C343.13 489.66 346.58 489.9 350.03 490.11C353.48 490.33 356.94 490.53 360.39 490.72C363.84 490.9 367.29 491.07 370.74 491.22C374.19 491.37 377.64 491.5 381.1 491.6C384.55 491.7 389.72 491.77 391.45 491.8" stroke="#ff7f0e" stroke-width="0.55" fill="none"/>
<path d="M267.1 432.6C268.5 433.93 272.15 436.83 275.5 440.6C278.85 444.37 283.55 450.58 287.2 455.2C290.85 459.82 294.23 464.17 297.4 468.3C300.57 472.43 303.52 476.83 306.2 480C308.88 483.17 309.53 485.8 313.5 487.3C317.47 488.8 322.25 488.47 330 489C337.75 489.53 350.33 490.03 360 490.5C369.67 490.97 383.33 491.58 388 491.8" stroke="#7f7f7f" stroke-width="0.66" fill="none"/>
<path d="M267.1 438C269.23 439.65 275.82 444.3 279.9 447.9C283.98 451.5 287.95 455.47 291.6 459.6C295.25 463.73 298.88 469.05 301.8 472.7C304.72 476.35 306.07 479.28 309.1 481.5C312.13 483.72 314.02 484.75 320 486C325.98 487.25 335.83 488.2 345 489C354.17 489.8 367.5 490.33 375 490.8C382.5 491.27 387.5 491.63 390 491.8" stroke="#9467bd" stroke-width="0.66" fill="none"/>
<path d="M267.1 445C269.23 446.33 275.82 450.08 279.9 453C283.98 455.92 287.95 458.97 291.6 462.5C295.25 466.03 298.88 470.92 301.8 474.2C304.72 477.48 306.18 480.98 309.1 482.2C312.02 483.42 315.65 481.5 319.3 481.5C322.95 481.5 326.62 481.83 331 482.2C335.38 482.57 340.77 483.15 345.6 483.7C350.43 484.25 354.27 484.62 360 485.5C365.73 486.38 374.83 487.95 380 489C385.17 490.05 389.17 491.33 391 491.8" stroke="#1f77b4" stroke-width="0.66" fill="none"/>
<path d="M267.1 454.2C269.23 454.62 275.33 455.43 279.9 456.7C284.47 457.97 290.12 459.87 294.5 461.8C298.88 463.73 302.55 466.23 306.2 468.3C309.85 470.37 312.27 472.62 316.4 474.2C320.53 475.78 326.13 476.47 331 477.8C335.87 479.13 341.1 481.1 345.6 482.2C350.1 483.3 353.1 483.52 358 484.4C362.9 485.28 369.67 486.27 375 487.5C380.33 488.73 387.5 491.08 390 491.8" stroke="#8c564b" stroke-width="0.66" fill="none"/>
<path d="M267.1 457.4C268.5 458.25 272.88 460.43 275.5 462.5C278.12 464.57 280.12 467.12 282.8 469.8C285.48 472.48 288.73 475.9 291.6 478.6C294.47 481.3 295.27 484.27 300 486C304.73 487.73 311.67 488.33 320 489C328.33 489.67 339.17 489.53 350 490C360.83 490.47 379.17 491.5 385 491.8" stroke="#17becf" stroke-width="0.66" fill="none"/>
<path d="M267.1 459.3C269.23 460.2 275.33 462.47 279.9 464.7C284.47 466.93 290.37 470.38 294.5 472.7C298.63 475.02 300.45 476.88 304.7 478.6C308.95 480.32 313.28 481.77 320 483C326.72 484.23 336.67 485 345 486C353.33 487 362.83 488.03 370 489C377.17 489.97 385 491.33 388 491.8" stroke="#bcbd22" stroke-width="0.66" fill="none"/>
<path d="M267.1 466.1C269.23 466.72 275.25 468.15 279.9 469.8C284.55 471.45 289.98 474.13 295 476C300.02 477.87 304.17 479.5 310 481C315.83 482.5 321.67 483.67 330 485C338.33 486.33 350.83 487.87 360 489C369.17 490.13 380.83 491.33 385 491.8" stroke="#9467bd" stroke-width="0.66" fill="none"/>
<path d="M267.1 471.5C270.08 471.92 278.68 473.08 285 474C291.32 474.92 298.33 476.08 305 477C311.67 477.92 319.17 478.93 325 479.5C330.83 480.07 335.07 479.63 340 480.4C344.93 481.17 349.73 483.12 354.6 484.1C359.47 485.08 364.82 485.57 369.2 486.3C373.58 487.03 377.25 487.58 380.9 488.5C384.55 489.42 389.4 491.25 391.1 491.8" stroke="#d62728" stroke-width="0.66" fill="none"/>
<path d="M266.7 565.5C268.15 563.52 272.5 557.9 275.4 553.6C278.3 549.3 281.2 544.05 284.1 539.7C287 535.35 289.88 531.85 292.8 527.5C295.72 523.15 298.68 517.82 301.6 513.6C304.52 509.38 307.98 504.82 310.3 502.2C312.62 499.58 312.6 498.92 315.5 497.9C318.4 496.88 322.77 496.45 327.7 496.1C332.63 495.75 340.05 495.93 345.1 495.8C350.15 495.67 353.02 495.68 358 495.3C362.98 494.92 370 494.08 375 493.5C380 492.92 385.83 492.08 388 491.8" stroke="#ff7f0e" stroke-width="0.66" fill="none"/>
<path d="M266.7 549.3C268.73 547.7 274.55 543.33 278.9 539.7C283.25 536.07 288.15 531.28 292.8 527.5C297.45 523.72 302.43 520.48 306.8 517C311.17 513.52 314.93 509.35 319 506.6C323.07 503.85 327.43 502.38 331.2 500.5C334.97 498.62 337.63 496.55 341.6 495.3C345.57 494.05 348.6 493.58 355 493C361.4 492.42 375.83 492 380 491.8" stroke="#bcbd22" stroke-width="0.66" fill="none"/>
<path d="M266.7 551.9C268.15 549.87 272.5 543.77 275.4 539.7C278.3 535.63 281.2 531.28 284.1 527.5C287 523.72 289.6 520.48 292.8 517C296 513.52 299.6 509.35 303.3 506.6C307 503.85 309.72 502.1 315 500.5C320.28 498.9 327.5 497.92 335 497C342.5 496.08 351.67 495.87 360 495C368.33 494.13 380.83 492.33 385 491.8" stroke="#e377c2" stroke-width="0.66" fill="none"/>
<path d="M266.7 540.6C268.15 538.7 272.5 532.83 275.4 529.2C278.3 525.57 281.2 521.98 284.1 518.8C287 515.62 289.6 513.15 292.8 510.1C296 507.05 298.77 502.68 303.3 500.5C307.83 498.32 313.05 497.92 320 497C326.95 496.08 335.83 495.87 345 495C354.17 494.13 370 492.33 375 491.8" stroke="#2ca02c" stroke-width="0.66" fill="none"/>
<path d="M275 512C276.52 512.4 281.13 513.8 284.1 514.4C287.07 515 289.6 515.4 292.8 515.6C296 515.8 298.93 516.08 303.3 515.6C307.67 515.12 313.48 513.77 319 512.7C324.52 511.63 330.47 510.57 336.4 509.2C342.33 507.83 349.13 506.13 354.6 504.5C360.07 502.87 365.3 501.1 369.2 499.4C373.1 497.7 375.57 495.57 378 494.3C380.43 493.03 382.83 492.22 383.8 491.8" stroke="#17becf" stroke-width="0.66" fill="none"/>
<path d="M388 491.8L437.8 491.8" stroke="#17becf" stroke-width="0.6" fill="none"/>
<path d="M267.1 499.4L437.8 499.4" stroke="#e377c2" stroke-width="0.6" fill="none"/>
<line x1="352.6" y1="426" x2="352.6" y2="572.3" stroke="#555" stroke-width="0.85" stroke-dasharray="2 1"/>
<rect x="259.0" y="426.5" width="187" height="145.8" fill="none" stroke="#9d9d9d" stroke-width="1"/>
<line x1="257.4" y1="438.5" x2="259.0" y2="438.5" stroke="#9d9d9d" stroke-width="0.6"/>
<text x="256.7" y="440.5" text-anchor="end" class="t" textLength="5.8" lengthAdjust="spacingAndGlyphs">0.4</text>
<line x1="257.4" y1="465.2" x2="259.0" y2="465.2" stroke="#9d9d9d" stroke-width="0.6"/>
<text x="256.7" y="467.2" text-anchor="end" class="t" textLength="5.8" lengthAdjust="spacingAndGlyphs">0.2</text>
<line x1="257.4" y1="491.9" x2="259.0" y2="491.9" stroke="#9d9d9d" stroke-width="0.6"/>
<text x="256.7" y="493.9" text-anchor="end" class="t" textLength="5.8" lengthAdjust="spacingAndGlyphs">0.0</text>
<line x1="257.4" y1="518.6" x2="259.0" y2="518.6" stroke="#9d9d9d" stroke-width="0.6"/>
<text x="256.7" y="520.6" text-anchor="end" class="t" textLength="7.2" lengthAdjust="spacingAndGlyphs">-0.2</text>
<line x1="257.4" y1="545.3" x2="259.0" y2="545.3" stroke="#9d9d9d" stroke-width="0.6"/>
<text x="256.7" y="547.3" text-anchor="end" class="t" textLength="7.2" lengthAdjust="spacingAndGlyphs">-0.4</text>
<line x1="257.4" y1="572" x2="259.0" y2="572" stroke="#9d9d9d" stroke-width="0.6"/>
<text x="256.7" y="574" text-anchor="end" class="t" textLength="7.2" lengthAdjust="spacingAndGlyphs">-0.6</text>
<line x1="267.5" y1="572.3" x2="267.5" y2="573.9" stroke="#9d9d9d" stroke-width="0.6"/>
<text x="263.86" y="578.6" class="t" textLength="4.64" lengthAdjust="spacingAndGlyphs">10</text>
<text x="268.71" y="576.9" class="t" style="font-size:3.4px" textLength="2.63" lengthAdjust="spacingAndGlyphs">-3</text>
<line x1="284.56" y1="572.3" x2="284.56" y2="573.3" stroke="#9d9d9d" stroke-width="0.5"/>
<line x1="294.54" y1="572.3" x2="294.54" y2="573.3" stroke="#9d9d9d" stroke-width="0.5"/>
<line x1="301.62" y1="572.3" x2="301.62" y2="573.3" stroke="#9d9d9d" stroke-width="0.5"/>
<line x1="307.11" y1="572.3" x2="307.11" y2="573.3" stroke="#9d9d9d" stroke-width="0.5"/>
<line x1="311.6" y1="572.3" x2="311.6" y2="573.3" stroke="#9d9d9d" stroke-width="0.5"/>
<line x1="315.39" y1="572.3" x2="315.39" y2="573.3" stroke="#9d9d9d" stroke-width="0.5"/>
<line x1="318.68" y1="572.3" x2="318.68" y2="573.3" stroke="#9d9d9d" stroke-width="0.5"/>
<line x1="321.57" y1="572.3" x2="321.57" y2="573.3" stroke="#9d9d9d" stroke-width="0.5"/>
<line x1="324.17" y1="572.3" x2="324.17" y2="573.9" stroke="#9d9d9d" stroke-width="0.6"/>
<text x="320.53" y="578.6" class="t" textLength="4.64" lengthAdjust="spacingAndGlyphs">10</text>
<text x="325.37" y="576.9" class="t" style="font-size:3.4px" textLength="2.63" lengthAdjust="spacingAndGlyphs">-2</text>
<line x1="341.23" y1="572.3" x2="341.23" y2="573.3" stroke="#9d9d9d" stroke-width="0.5"/>
<line x1="351.2" y1="572.3" x2="351.2" y2="573.3" stroke="#9d9d9d" stroke-width="0.5"/>
<line x1="358.28" y1="572.3" x2="358.28" y2="573.3" stroke="#9d9d9d" stroke-width="0.5"/>
<line x1="363.77" y1="572.3" x2="363.77" y2="573.3" stroke="#9d9d9d" stroke-width="0.5"/>
<line x1="368.26" y1="572.3" x2="368.26" y2="573.3" stroke="#9d9d9d" stroke-width="0.5"/>
<line x1="372.06" y1="572.3" x2="372.06" y2="573.3" stroke="#9d9d9d" stroke-width="0.5"/>
<line x1="375.34" y1="572.3" x2="375.34" y2="573.3" stroke="#9d9d9d" stroke-width="0.5"/>
<line x1="378.24" y1="572.3" x2="378.24" y2="573.3" stroke="#9d9d9d" stroke-width="0.5"/>
<line x1="380.83" y1="572.3" x2="380.83" y2="573.9" stroke="#9d9d9d" stroke-width="0.6"/>
<text x="377.2" y="578.6" class="t" textLength="4.64" lengthAdjust="spacingAndGlyphs">10</text>
<text x="382.04" y="576.9" class="t" style="font-size:3.4px" textLength="2.63" lengthAdjust="spacingAndGlyphs">-1</text>
<line x1="397.89" y1="572.3" x2="397.89" y2="573.3" stroke="#9d9d9d" stroke-width="0.5"/>
<line x1="407.87" y1="572.3" x2="407.87" y2="573.3" stroke="#9d9d9d" stroke-width="0.5"/>
<line x1="414.95" y1="572.3" x2="414.95" y2="573.3" stroke="#9d9d9d" stroke-width="0.5"/>
<line x1="420.44" y1="572.3" x2="420.44" y2="573.3" stroke="#9d9d9d" stroke-width="0.5"/>
<line x1="424.93" y1="572.3" x2="424.93" y2="573.3" stroke="#9d9d9d" stroke-width="0.5"/>
<line x1="428.72" y1="572.3" x2="428.72" y2="573.3" stroke="#9d9d9d" stroke-width="0.5"/>
<line x1="432.01" y1="572.3" x2="432.01" y2="573.3" stroke="#9d9d9d" stroke-width="0.5"/>
<line x1="434.91" y1="572.3" x2="434.91" y2="573.3" stroke="#9d9d9d" stroke-width="0.5"/>
<line x1="437.5" y1="572.3" x2="437.5" y2="573.9" stroke="#9d9d9d" stroke-width="0.6"/>
<text x="434.36" y="578.6" class="t" textLength="4.64" lengthAdjust="spacingAndGlyphs">10</text>
<text x="439.2" y="576.9" class="t" style="font-size:3.4px" textLength="1.64" lengthAdjust="spacingAndGlyphs">0</text>
<text x="352.5" y="583.5" text-anchor="middle" class="t" textLength="36" lengthAdjust="spacingAndGlyphs">Lambda(λ=0.0258)</text>
<text transform="translate(246.7 499.4) rotate(-90)" text-anchor="middle" class="t" textLength="22.6" lengthAdjust="spacingAndGlyphs">Coefficients</text>
<text x="438.3" y="435.7" text-anchor="end" class="ti" textLength="71.1" lengthAdjust="spacingAndGlyphs">intral and peri_4mm</text>
<text x="240.6" y="422.2" class="L">g</text>
</svg></body></html>
